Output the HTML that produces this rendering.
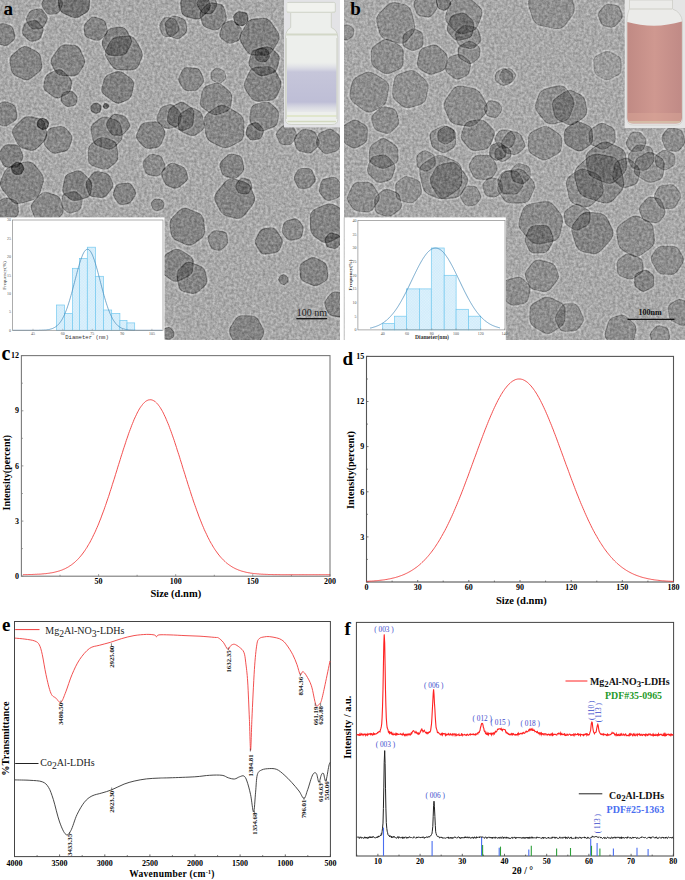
<!DOCTYPE html><html><head><meta charset="utf-8"><style>html,body{margin:0;padding:0;background:#fff;width:685px;height:880px;overflow:hidden}svg{display:block}text{font-family:"Liberation Serif",serif}.b{font-weight:bold}</style></head><body><svg width="685" height="880" viewBox="0 0 685 880"><defs>
<clipPath id="ca"><rect x="0" y="0" width="340" height="340"/></clipPath>
<clipPath id="cb"><rect x="344" y="0" width="341" height="340"/></clipPath>
<filter id="an" x="0" y="0" width="100%" height="100%" color-interpolation-filters="sRGB"><feTurbulence type="fractalNoise" baseFrequency="0.38" numOctaves="2" seed="3" result="t"/><feColorMatrix in="t" type="matrix" values="1 0 0 0 0  1 0 0 0 0  1 0 0 0 0  0 0 0 0 1" result="g0"/><feGaussianBlur in="g0" stdDeviation="0.6" result="g"/><feComposite in="SourceGraphic" in2="g" operator="arithmetic" k1="0" k2="1" k3="0.33" k4="-0.165"/></filter>
<filter id="bl"><feGaussianBlur stdDeviation="0.45"/></filter>
<pattern id="hat" width="2" height="2" patternUnits="userSpaceOnUse" patternTransform="rotate(45)"><rect width="2" height="2" fill="#e0f2fc"/><path d="M0 0V2M0 0H2" stroke="#bfe3f6" stroke-width="0.6"/></pattern>
<linearGradient id="purp" x1="0" y1="0" x2="0" y2="1"><stop offset="0" stop-color="#dcdce6" stop-opacity="0"/><stop offset="0.2" stop-color="#c6c6da"/><stop offset="0.8" stop-color="#bebed6"/><stop offset="1" stop-color="#d8d8e2" stop-opacity="0.3"/></linearGradient><linearGradient id="pink" x1="0" y1="0" x2="1" y2="0"><stop offset="0" stop-color="#c08a84"/><stop offset="0.5" stop-color="#cf9890"/><stop offset="1" stop-color="#c08a86"/></linearGradient>
</defs><g clip-path="url(#ca)"><g filter="url(#an)"><rect x="0" y="0" width="340" height="340" fill="#a8a8a8"/><g filter="url(#bl)"><path d="M60.9 11.1 Q59.5 14.4 56 14.8L50.5 15.3 Q47 15.6 45 12.6L41.9 7.8 Q39.9 4.7 41.5 1.6L44.1 -3.2 Q45.7 -6.3 49 -6.4L54.3 -6.6 Q57.6 -6.7 59.5 -4.1L62.5 -0 Q64.5 2.6 63.1 5.9Z" fill="none" stroke="#fff" stroke-opacity="0.22" stroke-width="2"/><path d="M63.3 14.3 Q58.4 12.1 57.8 6.1L56.9 -3.4 Q56.3 -9.4 61.2 -11.9L69 -15.9 Q73.9 -18.5 78.7 -15.3L86.1 -10.3 Q90.9 -7.1 90.7 -1.9L90.4 6.3 Q90.2 11.5 86.1 13.8L79.8 17.5 Q75.7 19.8 70.9 17.7Z" fill="none" stroke="#fff" stroke-opacity="0.22" stroke-width="2"/><path d="M45 26.2 Q43.3 29.5 39.9 29.8L34.6 30.2 Q31.3 30.5 29.4 27.6L26.3 23.2 Q24.4 20.3 25.8 17.3L27.9 12.7 Q29.3 9.7 32.8 8.9L38.3 7.8 Q41.9 7.1 44 10.1L47.3 14.8 Q49.4 17.9 47.7 21.1Z" fill="none" stroke="#fff" stroke-opacity="0.22" stroke-width="2"/><path d="M32.9 42.3 Q29.8 43 27.2 40.3L23 36.2 Q20.4 33.5 21.3 30.4L22.7 25.5 Q23.6 22.4 27.2 21.3L32.9 19.5 Q36.5 18.4 38.9 21.2L42.7 25.6 Q45.1 28.4 43.9 31.8L41.9 37.1 Q40.7 40.4 37.6 41.1Z" fill="none" stroke="#fff" stroke-opacity="0.22" stroke-width="2"/><path d="M9.4 45 Q6.6 47.5 3.4 46.4L-1.7 44.9 Q-4.9 43.9 -6 40.3L-7.8 34.6 Q-8.9 31 -6.2 28.4L-2 24.3 Q0.7 21.7 4.2 22.7L9.7 24.2 Q13.2 25.2 14.2 29L15.8 34.9 Q16.7 38.7 13.9 41.2Z" fill="none" stroke="#fff" stroke-opacity="0.22" stroke-width="2"/><path d="M31.9 78.8 Q27.3 82.4 22.8 80.2L15.7 76.8 Q11.2 74.7 10.2 69.8L8.8 62.3 Q7.9 57.4 12.4 53.6L19.4 47.5 Q23.9 43.6 28.7 46.2L36.2 50.2 Q41 52.8 41.8 57.5L42.9 65 Q43.7 69.7 39.1 73.3Z" fill="none" stroke="#fff" stroke-opacity="0.22" stroke-width="2"/><path d="M84.7 57.3 Q87 62.2 84.3 66.4L80.1 73 Q77.5 77.2 71.6 76.9L62.4 76.4 Q56.6 76.1 54.3 71.8L50.8 64.9 Q48.6 60.6 52.1 55.8L57.5 48.3 Q61 43.5 66 43.8L73.9 44.2 Q78.9 44.5 81.2 49.5Z" fill="none" stroke="#fff" stroke-opacity="0.22" stroke-width="2"/><path d="M45.8 92.2 Q41.8 89.1 42.6 84.9L44 78.5 Q44.9 74.3 49.2 72.3L55.9 69.1 Q60.2 67.1 63.8 70.6L69.6 76.2 Q73.3 79.7 72.6 83.5L71.7 89.4 Q71 93.2 66.9 95.2L60.4 98.3 Q56.3 100.3 52.2 97.2Z" fill="none" stroke="#fff" stroke-opacity="0.22" stroke-width="2"/><path d="M69.6 107.5 Q66.8 108.2 64.8 106.3L61.6 103.4 Q59.5 101.5 60.2 98.7L61.2 94.3 Q61.9 91.4 64.8 90.9L69.3 90.1 Q72.1 89.5 74 91.6L77 94.8 Q78.9 96.8 78.3 99.3L77.4 103.3 Q76.8 105.8 74 106.5Z" fill="none" stroke="#fff" stroke-opacity="0.22" stroke-width="2"/><path d="M88.1 38.9 Q84 37.5 83.6 33.8L83 28 Q82.7 24.4 85.4 21.7L89.7 17.6 Q92.5 15 96.2 16.2L102 18.2 Q105.7 19.4 106.7 23.2L108.2 29.2 Q109.2 33 106.2 35.6L101.6 39.7 Q98.7 42.4 94.6 41Z" fill="none" stroke="#fff" stroke-opacity="0.22" stroke-width="2"/><path d="M131.3 36.6 Q133.8 40.8 131.5 45.1L128 51.9 Q125.7 56.2 120.5 56.3L112.3 56.5 Q107 56.6 105 52.9L101.9 46.9 Q100 43.2 102.2 38.7L105.7 31.8 Q107.9 27.3 112.7 26.9L120.1 26.1 Q124.9 25.7 127.4 29.9Z" fill="none" stroke="#fff" stroke-opacity="0.22" stroke-width="2"/><path d="M105.8 58.5 Q102.7 53.6 105.3 48.8L109.3 41.2 Q111.9 36.4 118 35.8L127.4 34.9 Q133.5 34.4 136.6 39.9L141.5 48.4 Q144.6 53.9 142.6 58.7L139.4 66.2 Q137.4 70.9 130.8 71L120.5 71 Q114 71 110.8 66.2Z" fill="none" stroke="#fff" stroke-opacity="0.22" stroke-width="2"/><path d="M121.3 103.8 Q117.2 105.6 112.3 102L104.5 96.2 Q99.6 92.5 100.8 87.7L102.8 80.2 Q104.1 75.3 108.5 73.6L115.5 70.9 Q120 69.1 124.3 72.4L131.2 77.6 Q135.6 80.9 134.5 86L132.9 93.9 Q131.8 99 127.7 100.8Z" fill="none" stroke="#fff" stroke-opacity="0.22" stroke-width="2"/><path d="M101.5 111 Q101.1 112.9 99.5 113.4L96.9 114.3 Q95.3 114.9 93.9 114L91.7 112.6 Q90.3 111.8 90 110.3L89.7 108.1 Q89.4 106.7 90.5 105.4L92.2 103.5 Q93.2 102.3 94.7 102.2L97 102 Q98.4 101.9 99.6 103.2L101.5 105.1 Q102.6 106.3 102.2 108.2Z" fill="none" stroke="#fff" stroke-opacity="0.22" stroke-width="2"/><path d="M102.4 107.4 Q101.9 106.6 102.3 105.6L102.9 103.9 Q103.3 102.8 104.1 102.6L105.4 102.3 Q106.2 102.1 107 102.6L108.3 103.2 Q109.1 103.7 109.3 104.6L109.7 106.1 Q109.9 107 109.1 107.8L107.9 109.1 Q107.1 110 106.2 109.8L104.8 109.6 Q103.9 109.5 103.4 108.7Z" fill="none" stroke="#fff" stroke-opacity="0.22" stroke-width="2"/><path d="M-2.8 124.8 Q-6 123.5 -6.5 118.9L-7.3 111.6 Q-7.9 107 -4.5 105L0.8 101.8 Q4.2 99.8 7.6 101.1L12.9 103.3 Q16.3 104.6 16.9 108.8L18 115.3 Q18.6 119.5 14.9 121.9L8.9 125.7 Q5.2 128.1 2 126.8Z" fill="none" stroke="#fff" stroke-opacity="0.22" stroke-width="2"/><path d="M38.4 148.4 Q34.4 152.6 29.9 151.3L22.8 149.2 Q18.2 147.8 15.9 142.8L12.1 135 Q9.8 130.1 14.1 125.7L21 118.9 Q25.3 114.6 30.8 115.8L39.4 117.5 Q44.8 118.7 45.9 124L47.7 132.4 Q48.8 137.7 44.8 141.9Z" fill="none" stroke="#fff" stroke-opacity="0.22" stroke-width="2"/><path d="M44.1 130.4 Q42.5 130.9 40.7 129.8L38 128.1 Q36.3 127 36.2 125.4L36.1 122.8 Q36 121.2 37.3 120L39.4 118.1 Q40.7 116.8 42.6 117.3L45.5 118 Q47.3 118.5 48.1 119.8L49.3 121.8 Q50 123.1 49.5 124.8L48.7 127.4 Q48.2 129.1 46.6 129.6Z" fill="none" stroke="#fff" stroke-opacity="0.22" stroke-width="2"/><path d="M70.4 147.1 Q69 151.3 64.3 152.4L56.8 154 Q52.1 155.1 49.3 152L44.8 147.1 Q41.9 143.9 43.6 139.3L46.2 131.9 Q47.8 127.3 52.4 126.6L59.5 125.4 Q64 124.7 66.8 128L71.2 133.1 Q74 136.3 72.6 140.5Z" fill="none" stroke="#fff" stroke-opacity="0.22" stroke-width="2"/><path d="M23.2 153.1 Q24.8 156.6 23.1 159.9L20.5 165.1 Q18.9 168.4 14.7 168.4L8.1 168.4 Q4 168.4 1.9 164.5L-1.2 158.4 Q-3.3 154.5 -1.2 151.4L2.1 146.6 Q4.2 143.5 8.4 143.6L15 143.7 Q19.2 143.8 20.8 147.4Z" fill="none" stroke="#fff" stroke-opacity="0.22" stroke-width="2"/><path d="M123.2 134 Q124 139.1 120.5 142.6L115 148.1 Q111.4 151.6 106.2 149.8L98.1 147 Q92.9 145.2 91.8 139.8L90.1 131.2 Q89.1 125.7 93 122.6L99.3 117.7 Q103.2 114.6 108.2 116.3L116.1 119.1 Q121.1 120.8 121.9 126Z" fill="none" stroke="#fff" stroke-opacity="0.22" stroke-width="2"/><path d="M114 136.2 Q110.6 135.9 108.8 132.6L106 127.3 Q104.3 123.9 106.6 120.7L110.3 115.6 Q112.7 112.4 116.5 113.2L122.4 114.4 Q126.2 115.1 127.8 118.2L130.2 123.2 Q131.7 126.3 129.2 129.2L125.2 133.9 Q122.6 136.8 119.3 136.6Z" fill="none" stroke="#fff" stroke-opacity="0.22" stroke-width="2"/><path d="M118.9 155 Q119.6 160.4 115.9 163.5L110.1 168.4 Q106.4 171.5 101.1 169.7L92.9 167 Q87.6 165.3 87.4 159.9L87.1 151.4 Q86.9 146 90.9 143L97.2 138.2 Q101.1 135.2 105.7 136.8L112.8 139.4 Q117.3 141 117.9 146.5Z" fill="none" stroke="#fff" stroke-opacity="0.22" stroke-width="2"/><path d="M137.2 141.2 Q134.1 137.7 136 133.3L139.1 126.3 Q141.1 121.9 146.3 121.4L154.3 120.7 Q159.4 120.3 161.6 123.6L164.9 128.9 Q167.1 132.2 165.2 136.7L162.3 143.7 Q160.4 148.1 156.2 148.7L149.5 149.5 Q145.3 150.1 142.2 146.6Z" fill="none" stroke="#fff" stroke-opacity="0.22" stroke-width="2"/><path d="M164.9 37.4 Q162.1 37 160.9 33.7L158.9 28.5 Q157.6 25.1 159.5 22.5L162.5 18.3 Q164.4 15.6 167.8 16.3L173.1 17.4 Q176.5 18.2 177.7 21.6L179.7 26.9 Q181 30.3 178.5 32.6L174.5 36 Q171.9 38.2 169.2 37.9Z" fill="none" stroke="#fff" stroke-opacity="0.22" stroke-width="2"/><path d="M180.8 123.3 Q179.8 126.9 175.8 127.8L169.4 129.3 Q165.4 130.3 162.4 127.5L157.6 123.1 Q154.5 120.4 156.2 116.4L158.7 110.1 Q160.3 106.1 163.7 105.1L169.1 103.6 Q172.5 102.6 175.5 105.8L180.3 110.9 Q183.3 114.1 182.3 117.7Z" fill="none" stroke="#fff" stroke-opacity="0.22" stroke-width="2"/><path d="M211.2 4.3 Q212.3 8.4 208.6 12L202.8 17.6 Q199.1 21.2 194 19.8L186.1 17.6 Q181 16.1 180.4 11.4L179.6 4.1 Q179 -0.6 182.6 -3.7L188.3 -8.4 Q191.9 -11.5 196.5 -10L203.6 -7.6 Q208.2 -6.1 209.3 -2.1Z" fill="none" stroke="#fff" stroke-opacity="0.22" stroke-width="2"/><path d="M214.6 11.9 Q213 15.1 209.8 14.9L204.7 14.5 Q201.5 14.3 199.7 11.3L197 6.7 Q195.2 3.7 196.7 1.1L199.1 -3.1 Q200.6 -5.8 203.8 -6L208.9 -6.3 Q212.1 -6.6 214 -3.7L217 0.9 Q218.9 3.8 217.2 6.9Z" fill="none" stroke="#fff" stroke-opacity="0.22" stroke-width="2"/><path d="M206.5 28.8 Q202.2 27.4 201.1 23.2L199.2 16.7 Q198.1 12.5 200.9 9.3L205.5 4.4 Q208.4 1.2 212.8 1.9L219.7 3 Q224.2 3.7 225.3 8.4L227.1 15.9 Q228.2 20.6 225.1 23.9L220.4 29 Q217.3 32.2 213.1 30.9Z" fill="none" stroke="#fff" stroke-opacity="0.22" stroke-width="2"/><path d="M187.8 28.6 Q188.3 32.4 185.6 34.7L181.4 38.3 Q178.8 40.7 175.3 39.4L169.9 37.4 Q166.4 36.1 165.5 32.3L164.2 26.2 Q163.3 22.3 166.1 20L170.4 16.3 Q173.2 14 177 15.4L182.9 17.6 Q186.7 19 187.1 22.7Z" fill="none" stroke="#fff" stroke-opacity="0.22" stroke-width="2"/><path d="M245.3 25.4 Q243.6 27.1 241.2 26.7L237.5 26 Q235.1 25.6 234.2 23L232.8 18.8 Q231.9 16.1 233.4 14.5L235.9 11.9 Q237.5 10.2 240.4 10.7L244.9 11.4 Q247.8 11.9 248.3 14.4L249.1 18.4 Q249.6 20.9 247.9 22.7Z" fill="none" stroke="#fff" stroke-opacity="0.22" stroke-width="2"/><path d="M241.4 37.4 Q240.7 41 237.3 42.1L232 44 Q228.6 45.2 225.6 42.9L220.8 39.2 Q217.8 36.8 219 32.8L220.9 26.4 Q222.1 22.3 225.3 21.3L230.2 19.7 Q233.4 18.7 236.1 21.4L240.4 25.5 Q243.1 28.2 242.4 31.7Z" fill="none" stroke="#fff" stroke-opacity="0.22" stroke-width="2"/><path d="M278.4 31.2 Q282.1 36.7 278.8 42.3L273.6 51 Q270.3 56.5 264.2 56.3L254.5 56.1 Q248.3 56 245.3 51L240.4 43.2 Q237.4 38.2 240.4 32.6L245.1 24 Q248.1 18.5 253.8 18L262.9 17.3 Q268.7 16.8 272.5 22.4Z" fill="none" stroke="#fff" stroke-opacity="0.22" stroke-width="2"/><path d="M278.3 68.1 Q277.2 72.7 272.3 74.2L264.6 76.5 Q259.8 78 256.1 74.5L250.4 69.1 Q246.8 65.7 248.1 61.2L250 54.1 Q251.3 49.6 256.3 48.2L264.3 46.1 Q269.4 44.7 272.7 47.9L278 52.9 Q281.4 56 280.2 60.7Z" fill="none" stroke="#fff" stroke-opacity="0.22" stroke-width="2"/><path d="M270.5 54.8 Q271 56.9 269.7 58.6L267.7 61.2 Q266.4 62.9 264.2 62.9L260.7 62.8 Q258.5 62.8 257.1 61.4L254.9 59.1 Q253.5 57.7 253.9 55.4L254.4 51.8 Q254.8 49.5 256.7 48.5L259.8 47 Q261.8 46.1 263.8 47L267 48.4 Q269 49.3 269.6 51.4Z" fill="none" stroke="#fff" stroke-opacity="0.22" stroke-width="2"/><path d="M187.4 91.5 Q183.6 91.3 181.6 87.9L178.5 82.6 Q176.5 79.2 178.5 75.6L181.5 69.9 Q183.5 66.2 188 66.5L195.1 67 Q199.6 67.3 201.4 71.1L204.1 77.2 Q205.9 81 203.4 84.1L199.5 88.9 Q197 92 193.2 91.8Z" fill="none" stroke="#fff" stroke-opacity="0.22" stroke-width="2"/><path d="M213.2 82.1 Q210.6 80.9 210.3 78.4L209.9 74.4 Q209.7 71.8 211.6 70.3L214.6 67.8 Q216.5 66.3 219 67.3L222.9 69 Q225.4 70 225.9 72.6L226.8 76.6 Q227.4 79.1 225.3 80.8L222.1 83.5 Q220 85.2 217.4 84Z" fill="none" stroke="#fff" stroke-opacity="0.22" stroke-width="2"/><path d="M245 90.7 Q241.9 86 244.4 80.6L248.2 72 Q250.6 66.5 257 66.2L267 65.7 Q273.4 65.4 276.2 70.5L280.6 78.4 Q283.5 83.4 281.4 88.3L278.1 95.9 Q276 100.7 269.5 101.3L259.4 102.3 Q253 102.8 249.9 98.1Z" fill="none" stroke="#fff" stroke-opacity="0.22" stroke-width="2"/><path d="M218.7 115.3 Q213.9 116.9 209.5 113.9L202.6 109 Q198.2 105.9 199.4 100.4L201.2 91.6 Q202.4 86.1 207.1 84.6L214.4 82.4 Q219.1 81 223.1 84.5L229.5 90 Q233.5 93.5 232.8 98.5L231.8 106.2 Q231.2 111.1 226.3 112.8Z" fill="none" stroke="#fff" stroke-opacity="0.22" stroke-width="2"/><path d="M194.2 122.5 Q193.7 127.6 190.2 129L184.6 131.2 Q181.1 132.5 176.7 129.7L169.9 125.3 Q165.5 122.5 166.3 118.3L167.6 111.7 Q168.5 107.6 172.2 105.4L178.2 102.1 Q181.9 99.9 185.7 102.5L191.7 106.6 Q195.5 109.2 195 114.3Z" fill="none" stroke="#fff" stroke-opacity="0.22" stroke-width="2"/><path d="M205.1 124.1 Q206 128.9 202.5 131.4L197 135.4 Q193.5 137.9 189 136L181.8 132.9 Q177.3 131 177.3 126.3L177.3 119 Q177.2 114.3 181.1 111.9L187.2 108.1 Q191 105.6 194.3 107.4L199.4 110.1 Q202.7 111.8 203.6 116.6Z" fill="none" stroke="#fff" stroke-opacity="0.22" stroke-width="2"/><path d="M230.9 147.3 Q225.4 150.1 219.8 147.4L211 143.1 Q205.4 140.3 204.6 133.4L203.2 122.5 Q202.4 115.6 207.7 111.8L216.2 106 Q221.5 102.2 228.1 106L238.5 112.1 Q245 115.9 245 122.7L245 133.3 Q245 140.1 239.6 142.9Z" fill="none" stroke="#fff" stroke-opacity="0.22" stroke-width="2"/><path d="M251.3 125.5 Q248.1 122.5 248.7 117.5L249.8 109.6 Q250.4 104.5 255.4 103.2L263.3 101.1 Q268.3 99.8 271.7 103L277.1 108 Q280.5 111.2 279.7 115.5L278.5 122.4 Q277.7 126.7 272.6 128.5L264.6 131.3 Q259.5 133.1 256.3 130.1Z" fill="none" stroke="#fff" stroke-opacity="0.22" stroke-width="2"/><path d="M245.9 136.1 Q244.3 134.1 245.2 131.2L246.6 126.6 Q247.5 123.7 250.4 122.9L254.8 121.6 Q257.7 120.8 259.8 123.4L263.2 127.5 Q265.3 130.1 264.3 132.9L262.6 137.2 Q261.6 140 258.4 140.4L253.3 141 Q250.1 141.4 248.5 139.3Z" fill="none" stroke="#fff" stroke-opacity="0.22" stroke-width="2"/><path d="M282.8 145.6 Q279.6 145.4 278.1 142L275.8 136.7 Q274.3 133.3 276.7 130.7L280.4 126.6 Q282.8 124 285.8 124.2L290.7 124.6 Q293.7 124.8 295.1 128L297.2 133.1 Q298.6 136.3 296.5 139.1L293.2 143.4 Q291.1 146.2 287.9 146Z" fill="none" stroke="#fff" stroke-opacity="0.22" stroke-width="2"/><path d="M299.9 152.1 Q295.8 150.9 294.9 147.2L293.5 141.4 Q292.6 137.7 295.3 134.8L299.7 130.3 Q302.4 127.4 306.1 128.3L311.8 129.6 Q315.5 130.4 317.2 134.2L319.9 140.2 Q321.6 144 318.5 147.1L313.7 152 Q310.7 155.1 306.5 153.9Z" fill="none" stroke="#fff" stroke-opacity="0.22" stroke-width="2"/><path d="M317.2 147.5 Q314.5 144.2 315.4 140.9L316.8 135.7 Q317.7 132.4 321.4 130.9L327.2 128.6 Q330.9 127.1 334.1 129.6L339 133.6 Q342.1 136.1 341.5 140.3L340.6 146.8 Q340.1 151 335.6 152.3L328.7 154.4 Q324.3 155.8 321.5 152.5Z" fill="none" stroke="#fff" stroke-opacity="0.22" stroke-width="2"/><path d="M238.8 177.4 Q236.2 180.1 232.3 179.1L226.1 177.6 Q222.2 176.6 220.9 173L219 167.3 Q217.8 163.7 221.1 160.4L226.2 155.3 Q229.5 152.1 233.1 153L238.8 154.4 Q242.4 155.4 243.3 159.6L244.7 166.3 Q245.5 170.5 242.9 173.2Z" fill="none" stroke="#fff" stroke-opacity="0.22" stroke-width="2"/><path d="M40.8 193.2 Q38.8 199.3 32 201.2L21.3 204.2 Q14.5 206.1 9.8 200.3L2.3 191.2 Q-2.4 185.4 -0.1 180.2L3.4 171.9 Q5.7 166.6 12.8 164.5L24.1 161.2 Q31.3 159.1 35.4 164.2L41.9 172.3 Q46 177.5 44 183.6Z" fill="none" stroke="#fff" stroke-opacity="0.22" stroke-width="2"/><path d="M24.7 166.8 Q25.5 168.4 24.5 170.3L23 173.3 Q22 175.2 20 175.4L17 175.6 Q15 175.8 13.9 174.8L12.1 173.3 Q10.9 172.4 10.7 170.3L10.5 167.2 Q10.3 165.1 12 163.9L14.6 162 Q16.3 160.7 18.1 161.2L20.8 162 Q22.6 162.5 23.4 164.2Z" fill="none" stroke="#fff" stroke-opacity="0.22" stroke-width="2"/><path d="M12.1 220.9 Q9.1 223.1 5.4 221.5L-0.4 219 Q-4 217.5 -4.4 213.4L-5.1 207 Q-5.5 203 -2.5 201.1L2.1 198 Q5 196.1 8.8 197.2L14.6 199.1 Q18.4 200.2 18.8 204.4L19.4 211.1 Q19.9 215.3 16.8 217.5Z" fill="none" stroke="#fff" stroke-opacity="0.22" stroke-width="2"/><path d="M64 207.8 Q65.4 212.5 61.9 216.1L56.4 221.8 Q52.9 225.4 47.8 224.2L39.9 222.3 Q34.9 221 33.2 216.5L30.6 209.5 Q28.9 205 32.9 200.7L39.2 194.1 Q43.2 189.9 48.1 191.5L55.8 194 Q60.7 195.7 62 200.4Z" fill="none" stroke="#fff" stroke-opacity="0.22" stroke-width="2"/><path d="M91.8 193.3 Q91.2 197.6 86 199L77.8 201.2 Q72.7 202.6 69.4 199.9L64.2 195.6 Q60.9 192.9 61.9 187.6L63.5 179.2 Q64.6 173.9 68.9 172.4L75.6 170 Q79.9 168.4 83.8 172.3L89.8 178.4 Q93.6 182.2 92.9 186.5Z" fill="none" stroke="#fff" stroke-opacity="0.22" stroke-width="2"/><path d="M113.5 182.2 Q115.1 185.9 112.3 189.6L107.9 195.4 Q105.1 199.1 100.5 198.6L93.4 197.8 Q88.9 197.3 87.5 193.3L85.3 187 Q83.9 183 86.8 179.3L91.4 173.5 Q94.3 169.8 98.5 170.6L105.1 171.9 Q109.3 172.7 110.9 176.4Z" fill="none" stroke="#fff" stroke-opacity="0.22" stroke-width="2"/><path d="M82.2 207 Q81.5 210.8 77.9 211.9L72.2 213.6 Q68.6 214.7 66.3 212.6L62.6 209.3 Q60.3 207.2 60.6 203.4L61.2 197.4 Q61.6 193.6 65.4 192.5L71.5 190.8 Q75.3 189.7 77.7 191.9L81.5 195.2 Q83.9 197.3 83.2 201.1Z" fill="none" stroke="#fff" stroke-opacity="0.22" stroke-width="2"/><path d="M113.6 198.4 Q111.6 195.3 112.7 192L114.5 186.7 Q115.7 183.4 119.9 182.9L126.6 182 Q130.8 181.5 132.8 184.7L135.9 189.7 Q137.8 192.9 135.8 196.2L132.5 201.4 Q130.4 204.7 127.2 205.1L122.1 205.7 Q118.9 206.2 116.8 203.1Z" fill="none" stroke="#fff" stroke-opacity="0.22" stroke-width="2"/><path d="M149.1 176 Q145.4 175.3 144.2 171.6L142.3 165.7 Q141.1 162 143.6 159.4L147.5 155.3 Q149.9 152.8 153.3 153.3L158.5 154.2 Q161.8 154.8 163.4 158.5L165.7 164.3 Q167.2 167.9 164.8 170.7L161 175.1 Q158.5 177.9 154.8 177.1Z" fill="none" stroke="#fff" stroke-opacity="0.22" stroke-width="2"/><path d="M164.5 207.4 Q164.1 209.3 162.2 210.1L159.2 211.5 Q157.3 212.3 155.8 211.7L153.6 210.7 Q152.1 210.1 151.4 208.1L150.3 205.1 Q149.6 203.2 150.8 201.7L152.6 199.4 Q153.7 198 155.8 198L159.1 198.1 Q161.2 198.1 162.4 199.3L164.2 201.3 Q165.3 202.5 165 204.4Z" fill="none" stroke="#fff" stroke-opacity="0.22" stroke-width="2"/><path d="M168.3 187.3 Q164.9 186.2 163.3 182.3L160.9 176.2 Q159.4 172.3 162.5 169.2L167.5 164.2 Q170.6 161 175 162.7L181.8 165.2 Q186.1 166.9 187.1 170.5L188.6 176.3 Q189.5 179.9 186.1 182.8L180.6 187.3 Q177.2 190.1 173.7 189Z" fill="none" stroke="#fff" stroke-opacity="0.22" stroke-width="2"/><path d="M227.2 217.2 Q221.7 215.8 218.9 210.4L214.5 202.1 Q211.8 196.8 216.5 191L223.8 181.9 Q228.5 176.1 234.5 178L243.9 180.8 Q249.9 182.7 251.9 187.6L255.2 195.5 Q257.3 200.4 252.8 206.1L245.8 215.1 Q241.3 220.8 235.8 219.4Z" fill="none" stroke="#fff" stroke-opacity="0.22" stroke-width="2"/><path d="M249.5 193.2 Q247.9 195.4 245 195.1L240.3 194.6 Q237.4 194.3 236.4 191.8L234.8 187.8 Q233.8 185.2 235.8 182.8L238.9 179 Q240.9 176.5 243.7 177.2L248 178.2 Q250.8 178.9 251.6 181.3L252.9 185.2 Q253.7 187.6 252.1 189.8Z" fill="none" stroke="#fff" stroke-opacity="0.22" stroke-width="2"/><path d="M311.4 187.1 Q309 189.7 305.8 189.6L300.9 189.5 Q297.7 189.4 296.2 186.2L293.9 181.1 Q292.4 177.9 294 175L296.5 170.4 Q298.1 167.4 301.9 167.4L307.9 167.3 Q311.7 167.3 313.4 171L315.9 176.9 Q317.6 180.6 315.2 183.1Z" fill="none" stroke="#fff" stroke-opacity="0.22" stroke-width="2"/><path d="M341.9 194.9 Q340.7 198.1 336.7 199.3L330.4 201.3 Q326.4 202.6 323.9 199.6L320 194.9 Q317.5 192 318.5 188.2L320.1 182.3 Q321.1 178.6 325.1 177.7L331.6 176.2 Q335.6 175.3 338.2 178.6L342.3 183.6 Q344.9 186.8 343.7 190Z" fill="none" stroke="#fff" stroke-opacity="0.22" stroke-width="2"/><path d="M205.7 229.9 Q206.3 236 201.8 239.3L194.8 244.4 Q190.3 247.7 184.9 245.3L176.3 241.4 Q170.9 238.9 170.1 233.7L168.9 225.5 Q168.1 220.3 172.2 216.2L178.8 209.7 Q183 205.5 188.9 208L198.2 211.9 Q204.2 214.4 204.7 220.4Z" fill="none" stroke="#fff" stroke-opacity="0.22" stroke-width="2"/><path d="M223.4 249.5 Q221 251.9 218.1 251.3L213.5 250.5 Q210.6 249.9 209.3 246.4L207.2 240.8 Q205.9 237.2 208.1 234.9L211.4 231.3 Q213.5 229 217.3 229.6L223.3 230.6 Q227.1 231.2 227.8 234.6L228.8 239.9 Q229.4 243.3 227.1 245.7Z" fill="none" stroke="#fff" stroke-opacity="0.22" stroke-width="2"/><path d="M280.8 249.8 Q279.3 253.2 274.3 253.9L266.4 255.1 Q261.3 255.8 259 252L255.4 245.9 Q253.1 242.1 255.1 238.2L258.3 232 Q260.3 228.1 264.3 227.5L270.7 226.6 Q274.7 226 277.4 230.2L281.7 236.8 Q284.5 241 283 244.4Z" fill="none" stroke="#fff" stroke-opacity="0.22" stroke-width="2"/><path d="M292.4 241 Q288.6 241.7 286.3 239.2L282.7 235.2 Q280.4 232.7 281.2 229.3L282.6 224.1 Q283.4 220.7 287.2 219.6L293.2 218 Q296.9 216.9 299.1 219.5L302.6 223.5 Q304.7 226.1 304 229.8L302.9 235.5 Q302.1 239.1 298.3 239.9Z" fill="none" stroke="#fff" stroke-opacity="0.22" stroke-width="2"/><path d="M347.2 227.9 Q346.9 234.3 341 237.5L331.5 242.4 Q325.5 245.5 321.1 242.4L314.2 237.5 Q309.8 234.4 309.5 227.8L309.2 217.5 Q309 210.9 314.9 208.3L324.2 204.1 Q330.1 201.4 335.1 204.2L343 208.5 Q348 211.3 347.7 217.8Z" fill="none" stroke="#fff" stroke-opacity="0.22" stroke-width="2"/><path d="M338.1 248.2 Q336.1 250.2 333.2 249.4L328.6 248.2 Q325.6 247.4 325 244.9L324.1 241 Q323.5 238.5 325.3 236.5L328.2 233.2 Q330 231.2 332.9 232.1L337.5 233.7 Q340.5 234.6 341.2 236.9L342.3 240.5 Q343 242.8 341.1 244.9Z" fill="none" stroke="#fff" stroke-opacity="0.22" stroke-width="2"/><path d="M193.9 270.2 Q193.5 274.9 188.4 277.5L180.3 281.4 Q175.2 284 170.9 280.9L164.1 276.1 Q159.7 273 160.6 267.8L161.9 259.8 Q162.8 254.6 166.9 252.4L173.3 248.9 Q177.5 246.6 182.3 249.8L190 254.8 Q194.9 258 194.5 262.8Z" fill="none" stroke="#fff" stroke-opacity="0.22" stroke-width="2"/><path d="M207.8 279 Q208.8 283.6 205.1 286.9L199.4 292.1 Q195.8 295.4 191 294.3L183.6 292.6 Q178.8 291.5 177.8 286L176.1 277.4 Q175 271.9 178.3 268.5L183.6 263.2 Q186.9 259.8 192.1 261.9L200.2 265.1 Q205.4 267.1 206.4 271.7Z" fill="none" stroke="#fff" stroke-opacity="0.22" stroke-width="2"/><path d="M328.8 275.1 Q329.4 280 325.6 282.2L319.6 285.6 Q315.8 287.8 311.2 285.8L304.1 282.7 Q299.5 280.7 299.2 275.9L298.8 268.5 Q298.5 263.8 302.5 261.4L308.7 257.7 Q312.7 255.3 316.8 257.3L323.3 260.5 Q327.4 262.5 327.9 267.4Z" fill="none" stroke="#fff" stroke-opacity="0.22" stroke-width="2"/><path d="M286.3 284.8 Q285 285.9 283.7 285.6L281.7 285.1 Q280.3 284.8 279.4 283.5L278 281.4 Q277.1 280.1 277.7 278.7L278.6 276.5 Q279.2 275.1 280.6 274.5L282.8 273.6 Q284.1 273 285.5 274.1L287.6 275.8 Q289 276.9 289.2 278.3L289.4 280.5 Q289.6 282 288.3 283.1Z" fill="none" stroke="#fff" stroke-opacity="0.22" stroke-width="2"/><path d="M351 303 Q352.5 307.2 350.1 310.5L346.2 315.6 Q343.8 318.8 339.5 318.1L332.9 317 Q328.7 316.3 327 312.5L324.3 306.7 Q322.6 302.9 325.1 299.4L329.1 293.8 Q331.7 290.3 336 290.8L342.7 291.7 Q347 292.2 348.5 296.4Z" fill="none" stroke="#fff" stroke-opacity="0.22" stroke-width="2"/><path d="M263.7 327.8 Q266.2 332.7 263.5 337.1L259.2 344.1 Q256.4 348.5 250.4 347.9L240.9 346.9 Q234.8 346.3 232.6 341.9L229.3 335 Q227.1 330.6 229.9 326.1L234.3 319 Q237.2 314.5 242.7 314.6L251.5 314.9 Q257.1 315.1 259.6 320Z" fill="none" stroke="#fff" stroke-opacity="0.22" stroke-width="2"/><path d="M170.8 339.9 Q169.2 340.7 167.4 340.2L164.6 339.4 Q162.9 338.9 162 337.2L160.8 334.4 Q159.9 332.7 160.9 331.2L162.5 328.9 Q163.5 327.4 165.3 327L168.1 326.4 Q169.9 326 171.4 327.4L173.6 329.6 Q175 331.1 175 332.9L174.9 335.9 Q174.8 337.8 173.2 338.6Z" fill="none" stroke="#fff" stroke-opacity="0.22" stroke-width="2"/><path d="M60 10.4 Q58.7 13.3 55.6 13.7L50.6 14.1 Q47.5 14.4 45.7 11.7L42.9 7.4 Q41.2 4.6 42.6 1.9L44.9 -2.5 Q46.3 -5.2 49.3 -5.3L54 -5.5 Q57 -5.6 58.7 -3.3L61.5 0.4 Q63.2 2.7 61.9 5.7Z" fill="#000" fill-opacity="0.237" stroke="#000" stroke-opacity="0.302" stroke-width="1.1"/><path d="M64 13.4 Q59.5 11.4 58.9 5.8L58 -3.1 Q57.4 -8.7 62 -11.1L69.3 -14.8 Q73.9 -17.2 78.4 -14.2L85.3 -9.6 Q89.8 -6.6 89.6 -1.7L89.3 5.9 Q89.1 10.8 85.3 13L79.4 16.4 Q75.6 18.6 71.1 16.6Z" fill="#000" fill-opacity="0.323" stroke="#000" stroke-opacity="0.354" stroke-width="1.1"/><path d="M44.2 25.5 Q42.6 28.4 39.6 28.7L34.9 29 Q31.9 29.3 30.1 26.7L27.4 22.7 Q25.7 20.2 26.9 17.5L28.9 13.3 Q30.1 10.6 33.3 10L38.2 9 Q41.4 8.3 43.2 11L46.2 15.3 Q48.1 18 46.6 20.9Z" fill="#000" fill-opacity="0.215" stroke="#000" stroke-opacity="0.289" stroke-width="1.1"/><path d="M32.9 41.1 Q30.1 41.7 27.8 39.4L24 35.6 Q21.7 33.3 22.5 30.5L23.8 26.1 Q24.6 23.3 27.8 22.3L32.9 20.7 Q36.2 19.7 38.3 22.2L41.7 26.2 Q43.9 28.7 42.7 31.7L41 36.5 Q39.9 39.5 37.2 40.1Z" fill="#000" fill-opacity="0.215" stroke="#000" stroke-opacity="0.289" stroke-width="1.1"/><path d="M8.9 44 Q6.3 46.2 3.4 45.3L-1.1 43.9 Q-4 43 -5 39.7L-6.6 34.6 Q-7.6 31.4 -5.2 29.1L-1.4 25.4 Q1 23 4.2 23.9L9.1 25.3 Q12.3 26.2 13.2 29.6L14.6 35 Q15.5 38.4 12.9 40.6Z" fill="#000" fill-opacity="0.215" stroke="#000" stroke-opacity="0.289" stroke-width="1.1"/><path d="M31.5 77.7 Q27.3 81 23 79L16.4 75.9 Q12.2 73.9 11.3 69.4L10 62.3 Q9.1 57.8 13.3 54.2L19.9 48.6 Q24 45 28.5 47.4L35.5 51.1 Q40 53.5 40.7 57.9L41.7 64.8 Q42.4 69.2 38.2 72.5Z" fill="#000" fill-opacity="0.215" stroke="#000" stroke-opacity="0.289" stroke-width="1.1"/><path d="M83.6 57.5 Q85.7 62.1 83.2 66L79.3 72.2 Q76.9 76.1 71.4 75.9L62.8 75.4 Q57.3 75.1 55.2 71L51.9 64.7 Q49.8 60.6 53.1 56.2L58.2 49.1 Q61.5 44.7 66.2 44.9L73.5 45.3 Q78.2 45.6 80.3 50.2Z" fill="#000" fill-opacity="0.215" stroke="#000" stroke-opacity="0.289" stroke-width="1.1"/><path d="M46.8 91.6 Q43 88.7 43.9 84.9L45.1 78.9 Q45.9 75.1 49.9 73.2L56.1 70.3 Q60 68.4 63.4 71.7L68.7 76.8 Q72 80 71.5 83.5L70.6 89 Q70 92.5 66.2 94.3L60.2 97.2 Q56.4 99 52.7 96.1Z" fill="#000" fill-opacity="0.215" stroke="#000" stroke-opacity="0.289" stroke-width="1.1"/><path d="M69.5 106.4 Q67.1 107 65.3 105.4L62.5 102.8 Q60.8 101.2 61.3 98.7L62.2 94.9 Q62.8 92.4 65.3 92L69.2 91.2 Q71.7 90.8 73.4 92.5L75.9 95.3 Q77.6 97.1 77.1 99.3L76.3 102.7 Q75.8 104.9 73.4 105.5Z" fill="#000" fill-opacity="0.215" stroke="#000" stroke-opacity="0.289" stroke-width="1.1"/><path d="M88.8 38 Q85.1 36.7 84.8 33.4L84.2 28.1 Q83.9 24.8 86.4 22.4L90.3 18.7 Q92.8 16.3 96.2 17.4L101.5 19.2 Q104.8 20.3 105.7 23.8L107.1 29.2 Q108 32.7 105.3 35L101.1 38.8 Q98.5 41.1 94.7 39.9Z" fill="#000" fill-opacity="0.215" stroke="#000" stroke-opacity="0.289" stroke-width="1.1"/><path d="M130.2 37 Q132.5 40.9 130.4 44.9L127.2 51.2 Q125.1 55.2 120.2 55.3L112.6 55.4 Q107.8 55.5 105.9 52L103.1 46.6 Q101.2 43.1 103.3 39L106.5 32.5 Q108.6 28.4 113 28L119.9 27.3 Q124.3 26.9 126.6 30.8Z" fill="#000" fill-opacity="0.237" stroke="#000" stroke-opacity="0.302" stroke-width="1.1"/><path d="M106.9 58.2 Q104 53.6 106.4 49L110.2 41.9 Q112.7 37.4 118.3 36.9L127.2 36 Q132.9 35.5 135.8 40.7L140.4 48.7 Q143.4 53.9 141.5 58.3L138.5 65.4 Q136.5 69.8 130.4 69.9L120.7 69.9 Q114.6 69.9 111.6 65.4Z" fill="#000" fill-opacity="0.215" stroke="#000" stroke-opacity="0.289" stroke-width="1.1"/><path d="M121.1 102.6 Q117.3 104.3 112.7 100.9L105.5 95.6 Q100.9 92.2 102 87.7L103.9 80.6 Q105.1 76.2 109.2 74.5L115.7 72 Q119.8 70.4 123.9 73.5L130.3 78.3 Q134.4 81.3 133.4 86L131.8 93.4 Q130.8 98.1 127 99.9Z" fill="#000" fill-opacity="0.237" stroke="#000" stroke-opacity="0.302" stroke-width="1.1"/><path d="M100.4 110.4 Q100.1 111.9 98.8 112.4L96.8 113.1 Q95.5 113.5 94.3 112.8L92.5 111.7 Q91.4 111 91.2 109.9L90.9 108.1 Q90.7 106.9 91.6 105.9L92.9 104.4 Q93.8 103.4 94.9 103.3L96.8 103.2 Q98 103.1 98.9 104.1L100.4 105.7 Q101.3 106.7 101 108.1Z" fill="#000" fill-opacity="0.323" stroke="#000" stroke-opacity="0.354" stroke-width="1.1"/><path d="M103.6 107 Q103.2 106.4 103.5 105.7L103.9 104.6 Q104.2 103.9 104.7 103.7L105.6 103.5 Q106.2 103.4 106.7 103.7L107.6 104.1 Q108.1 104.4 108.3 105.1L108.5 106.1 Q108.6 106.7 108.1 107.2L107.3 108.1 Q106.8 108.7 106.2 108.6L105.2 108.5 Q104.6 108.4 104.2 107.8Z" fill="#000" fill-opacity="0.387" stroke="#000" stroke-opacity="0.392" stroke-width="1.1"/><path d="M-2.1 123.8 Q-5 122.6 -5.4 118.4L-6.2 111.8 Q-6.7 107.6 -3.6 105.8L1.2 102.9 Q4.3 101.1 7.4 102.3L12.2 104.2 Q15.3 105.5 15.8 109.3L16.8 115.2 Q17.4 119 14 121.2L8.6 124.6 Q5.1 126.8 2.3 125.6Z" fill="#000" fill-opacity="0.215" stroke="#000" stroke-opacity="0.289" stroke-width="1.1"/><path d="M37.9 147.4 Q34.1 151.3 29.9 150.1L23.2 148.1 Q19 146.8 16.8 142.2L13.3 134.9 Q11.1 130.3 15.2 126.2L21.6 119.9 Q25.6 115.8 30.7 116.9L38.7 118.6 Q43.8 119.6 44.9 124.6L46.5 132.4 Q47.5 137.4 43.8 141.3Z" fill="#000" fill-opacity="0.215" stroke="#000" stroke-opacity="0.289" stroke-width="1.1"/><path d="M43.9 129.2 Q42.6 129.6 41.1 128.8L38.9 127.4 Q37.5 126.5 37.4 125.1L37.3 123 Q37.3 121.7 38.3 120.7L40 119.1 Q41.1 118.1 42.6 118.5L45 119.1 Q46.6 119.5 47.2 120.5L48.2 122.2 Q48.8 123.3 48.4 124.7L47.7 126.8 Q47.3 128.2 46 128.6Z" fill="#000" fill-opacity="0.430" stroke="#000" stroke-opacity="0.418" stroke-width="1.1"/><path d="M69.5 146.6 Q68.2 150.4 63.8 151.4L56.9 152.9 Q52.6 153.9 49.9 151L45.8 146.5 Q43.2 143.6 44.7 139.3L47.1 132.6 Q48.6 128.3 52.8 127.6L59.4 126.6 Q63.5 125.9 66.1 128.9L70.2 133.6 Q72.8 136.6 71.5 140.5Z" fill="#000" fill-opacity="0.194" stroke="#000" stroke-opacity="0.276" stroke-width="1.1"/><path d="M22.1 153.3 Q23.5 156.6 22 159.6L19.6 164.3 Q18.1 167.3 14.3 167.3L8.4 167.2 Q4.6 167.2 2.8 163.7L-0.1 158.2 Q-2 154.6 -0.1 151.8L2.9 147.4 Q4.8 144.6 8.6 144.7L14.6 144.9 Q18.5 145 19.9 148.2Z" fill="#000" fill-opacity="0.237" stroke="#000" stroke-opacity="0.302" stroke-width="1.1"/><path d="M122.1 133.9 Q122.9 138.7 119.6 141.9L114.4 147 Q111.1 150.3 106.3 148.6L98.7 146 Q93.8 144.4 92.9 139.3L91.3 131.3 Q90.3 126.2 94 123.3L99.8 118.8 Q103.5 115.9 108.1 117.5L115.4 120.1 Q120.1 121.7 120.9 126.5Z" fill="#000" fill-opacity="0.194" stroke="#000" stroke-opacity="0.276" stroke-width="1.1"/><path d="M114.4 135.1 Q111.3 134.9 109.7 131.8L107.2 127.1 Q105.6 124 107.7 121.1L111.1 116.6 Q113.2 113.7 116.6 114.3L122 115.4 Q125.4 116.1 126.8 118.9L129 123.3 Q130.4 126.2 128.1 128.8L124.5 133 Q122.2 135.7 119.1 135.4Z" fill="#000" fill-opacity="0.215" stroke="#000" stroke-opacity="0.289" stroke-width="1.1"/><path d="M117.8 154.9 Q118.4 160 115 162.9L109.6 167.4 Q106.2 170.2 101.3 168.6L93.6 166.1 Q88.7 164.5 88.5 159.5L88.2 151.6 Q88.1 146.6 91.8 143.8L97.6 139.3 Q101.3 136.5 105.5 138L112.1 140.4 Q116.3 141.9 116.9 147Z" fill="#000" fill-opacity="0.194" stroke="#000" stroke-opacity="0.276" stroke-width="1.1"/><path d="M138.3 140.7 Q135.4 137.5 137.2 133.4L140.1 127 Q141.9 122.9 146.6 122.5L154 121.9 Q158.8 121.4 160.7 124.5L163.8 129.4 Q165.8 132.5 164.1 136.6L161.4 143 Q159.7 147.1 155.8 147.6L149.7 148.4 Q145.8 148.9 142.9 145.7Z" fill="#000" fill-opacity="0.215" stroke="#000" stroke-opacity="0.289" stroke-width="1.1"/><path d="M165.3 36.3 Q162.9 36 161.7 33L160 28.3 Q158.9 25.3 160.6 23L163.2 19.2 Q164.9 16.9 167.9 17.5L172.6 18.5 Q175.7 19.1 176.8 22.1L178.6 26.9 Q179.7 30 177.4 32L173.9 35.1 Q171.6 37 169.2 36.7Z" fill="#000" fill-opacity="0.172" stroke="#000" stroke-opacity="0.263" stroke-width="1.1"/><path d="M179.7 122.8 Q178.8 126 175.2 126.9L169.4 128.2 Q165.7 129 163 126.5L158.6 122.6 Q155.9 120.1 157.3 116.4L159.6 110.7 Q161.1 107.1 164.2 106.2L169.1 104.8 Q172.2 103.9 174.9 106.8L179.2 111.4 Q182 114.4 181.1 117.6Z" fill="#000" fill-opacity="0.194" stroke="#000" stroke-opacity="0.276" stroke-width="1.1"/><path d="M209.9 4.4 Q211 8.2 207.6 11.5L202.2 16.7 Q198.7 20 194.1 18.7L186.7 16.6 Q182 15.3 181.5 11L180.7 4.1 Q180.2 -0.2 183.5 -3L188.8 -7.5 Q192.2 -10.3 196.4 -8.9L203 -6.7 Q207.2 -5.3 208.3 -1.5Z" fill="#000" fill-opacity="0.280" stroke="#000" stroke-opacity="0.328" stroke-width="1.1"/><path d="M213.8 11.1 Q212.3 13.9 209.5 13.7L204.9 13.4 Q202.1 13.1 200.5 10.5L198 6.4 Q196.5 3.8 197.8 1.4L199.9 -2.3 Q201.3 -4.7 204.1 -4.9L208.7 -5.2 Q211.6 -5.4 213.3 -2.8L215.9 1.2 Q217.6 3.8 216.1 6.6Z" fill="#000" fill-opacity="0.215" stroke="#000" stroke-opacity="0.289" stroke-width="1.1"/><path d="M207 27.7 Q203.1 26.5 202.1 22.7L200.4 16.6 Q199.3 12.7 202 9.9L206.1 5.3 Q208.8 2.4 212.8 3.1L219.2 4.1 Q223.3 4.7 224.3 9L226 15.9 Q227 20.2 224.2 23.2L219.8 27.9 Q217 30.9 213.1 29.7Z" fill="#000" fill-opacity="0.215" stroke="#000" stroke-opacity="0.289" stroke-width="1.1"/><path d="M186.7 28.5 Q187.1 31.9 184.7 34L180.9 37.3 Q178.5 39.4 175.4 38.2L170.5 36.4 Q167.4 35.3 166.6 31.8L165.4 26.3 Q164.6 22.8 167.1 20.7L171 17.4 Q173.5 15.3 176.9 16.6L182.2 18.5 Q185.6 19.8 186 23.2Z" fill="#000" fill-opacity="0.194" stroke="#000" stroke-opacity="0.276" stroke-width="1.1"/><path d="M244.6 24.4 Q243.2 25.9 241.2 25.6L237.9 25 Q235.9 24.7 235.1 22.4L233.9 18.8 Q233.1 16.5 234.4 15L236.6 12.8 Q237.9 11.4 240.4 11.8L244.3 12.4 Q246.8 12.8 247.3 15L247.9 18.4 Q248.4 20.6 246.9 22.1Z" fill="#000" fill-opacity="0.344" stroke="#000" stroke-opacity="0.366" stroke-width="1.1"/><path d="M240.3 36.9 Q239.7 40.1 236.7 41.2L231.9 42.9 Q228.8 43.9 226.1 41.8L221.8 38.5 Q219.1 36.4 220.2 32.7L221.9 27 Q223 23.3 225.8 22.4L230.3 21 Q233.1 20.1 235.6 22.5L239.4 26.2 Q241.9 28.6 241.3 31.8Z" fill="#000" fill-opacity="0.215" stroke="#000" stroke-opacity="0.289" stroke-width="1.1"/><path d="M277.3 31.5 Q280.8 36.8 277.7 42L272.8 50.2 Q269.7 55.4 263.9 55.3L254.8 55.1 Q249 54.9 246.1 50.2L241.5 42.8 Q238.6 38.1 241.4 32.9L245.9 24.7 Q248.7 19.5 254.1 19.1L262.7 18.4 Q268.2 18 271.7 23.2Z" fill="#000" fill-opacity="0.237" stroke="#000" stroke-opacity="0.302" stroke-width="1.1"/><path d="M277.3 67.5 Q276.2 71.9 271.7 73.2L264.6 75.4 Q260.1 76.7 256.7 73.5L251.5 68.5 Q248.1 65.3 249.3 61.2L251.1 54.6 Q252.2 50.4 256.9 49.2L264.3 47.2 Q269 45.9 272.1 48.8L277 53.5 Q280.1 56.4 279 60.7Z" fill="#000" fill-opacity="0.237" stroke="#000" stroke-opacity="0.302" stroke-width="1.1"/><path d="M269.2 54.8 Q269.7 56.6 268.6 58L266.9 60.3 Q265.8 61.8 263.9 61.7L260.9 61.7 Q259 61.6 257.8 60.4L256 58.5 Q254.8 57.3 255.1 55.3L255.5 52.2 Q255.8 50.3 257.5 49.5L260.1 48.2 Q261.8 47.4 263.6 48.2L266.3 49.4 Q268 50.2 268.5 52Z" fill="#000" fill-opacity="0.280" stroke="#000" stroke-opacity="0.328" stroke-width="1.1"/><path d="M187.7 90.4 Q184.3 90.3 182.5 87.2L179.6 82.3 Q177.8 79.3 179.6 75.9L182.4 70.7 Q184.1 67.4 188.3 67.7L194.7 68.1 Q198.9 68.4 200.5 71.9L203 77.4 Q204.6 80.9 202.3 83.7L198.7 88.1 Q196.4 90.9 193 90.7Z" fill="#000" fill-opacity="0.194" stroke="#000" stroke-opacity="0.276" stroke-width="1.1"/><path d="M213.9 81.2 Q211.6 80.2 211.4 78L211.1 74.5 Q210.9 72.4 212.5 71L215.1 68.9 Q216.8 67.6 218.9 68.5L222.3 69.9 Q224.4 70.8 224.9 73L225.7 76.5 Q226.1 78.7 224.4 80.1L221.6 82.4 Q219.8 83.9 217.5 82.8Z" fill="#000" fill-opacity="0.129" stroke="#000" stroke-opacity="0.237" stroke-width="1.1"/><path d="M246.1 90.4 Q243.2 85.9 245.5 80.8L249.1 72.7 Q251.4 67.6 257.4 67.3L266.8 66.8 Q272.8 66.6 275.4 71.3L279.6 78.7 Q282.2 83.5 280.2 88L277.1 95.2 Q275.2 99.8 269.1 100.3L259.7 101.2 Q253.6 101.7 250.7 97.3Z" fill="#000" fill-opacity="0.215" stroke="#000" stroke-opacity="0.289" stroke-width="1.1"/><path d="M218.5 114.2 Q214 115.7 209.9 112.8L203.5 108.3 Q199.4 105.4 200.5 100.3L202.2 92.2 Q203.3 87 207.7 85.7L214.5 83.6 Q218.8 82.2 222.6 85.5L228.5 90.6 Q232.3 93.9 231.7 98.5L230.7 105.7 Q230.1 110.3 225.6 111.8Z" fill="#000" fill-opacity="0.194" stroke="#000" stroke-opacity="0.276" stroke-width="1.1"/><path d="M193.2 122 Q192.7 126.7 189.5 128L184.4 130 Q181.1 131.2 177.1 128.6L170.8 124.6 Q166.8 122 167.5 118.2L168.7 112.1 Q169.5 108.3 173 106.3L178.4 103.2 Q181.9 101.3 185.4 103.7L190.9 107.4 Q194.3 109.8 193.9 114.5Z" fill="#000" fill-opacity="0.215" stroke="#000" stroke-opacity="0.289" stroke-width="1.1"/><path d="M204 123.9 Q204.8 128.3 201.6 130.6L196.5 134.3 Q193.3 136.6 189.1 134.8L182.6 132 Q178.4 130.2 178.4 125.9L178.4 119.2 Q178.4 114.9 181.9 112.7L187.5 109.2 Q191 106.9 194 108.5L198.7 111 Q201.7 112.6 202.6 117Z" fill="#000" fill-opacity="0.194" stroke="#000" stroke-opacity="0.276" stroke-width="1.1"/><path d="M230.6 146.2 Q225.4 148.8 220.1 146.2L211.8 142.2 Q206.4 139.6 205.6 133L204.4 122.7 Q203.6 116.2 208.7 112.6L216.6 107.1 Q221.7 103.5 227.9 107.2L237.7 112.9 Q243.9 116.5 243.9 122.9L243.9 132.9 Q243.9 139.3 238.7 142Z" fill="#000" fill-opacity="0.194" stroke="#000" stroke-opacity="0.276" stroke-width="1.1"/><path d="M252.3 124.8 Q249.3 122.1 249.9 117.4L250.9 110.1 Q251.5 105.4 256.1 104.2L263.4 102.3 Q268 101.1 271.2 104L276.1 108.6 Q279.3 111.6 278.6 115.6L277.4 121.9 Q276.7 126 272 127.6L264.6 130.2 Q259.9 131.8 256.9 129.1Z" fill="#000" fill-opacity="0.194" stroke="#000" stroke-opacity="0.276" stroke-width="1.1"/><path d="M247 135.6 Q245.5 133.8 246.3 131.2L247.6 127.2 Q248.4 124.7 250.9 124L254.8 122.8 Q257.3 122.1 259.2 124.4L262.1 128 Q264 130.3 263.1 132.7L261.6 136.5 Q260.7 139 257.9 139.3L253.5 139.8 Q250.6 140.2 249.2 138.4Z" fill="#000" fill-opacity="0.280" stroke="#000" stroke-opacity="0.328" stroke-width="1.1"/><path d="M283.2 144.5 Q280.4 144.3 279 141.3L277 136.5 Q275.7 133.5 277.8 131.2L281.1 127.5 Q283.2 125.2 285.9 125.4L290.2 125.7 Q293 125.9 294.2 128.8L296.1 133.3 Q297.3 136.2 295.4 138.7L292.5 142.5 Q290.6 145 287.7 144.8Z" fill="#000" fill-opacity="0.172" stroke="#000" stroke-opacity="0.263" stroke-width="1.1"/><path d="M300.5 151.1 Q296.7 150.1 295.9 146.7L294.6 141.4 Q293.8 138 296.3 135.4L300.3 131.3 Q302.8 128.7 306.1 129.4L311.3 130.6 Q314.7 131.4 316.2 134.8L318.7 140.3 Q320.2 143.7 317.5 146.6L313.1 151 Q310.3 153.8 306.5 152.8Z" fill="#000" fill-opacity="0.194" stroke="#000" stroke-opacity="0.276" stroke-width="1.1"/><path d="M318.2 146.9 Q315.7 144 316.6 141L317.9 136.2 Q318.7 133.2 322.1 131.9L327.4 129.7 Q330.7 128.4 333.6 130.7L338.1 134.3 Q340.9 136.6 340.4 140.4L339.6 146.3 Q339.1 150.1 335 151.4L328.7 153.3 Q324.7 154.5 322.2 151.5Z" fill="#000" fill-opacity="0.194" stroke="#000" stroke-opacity="0.276" stroke-width="1.1"/><path d="M238.2 176.4 Q235.9 178.9 232.3 178L226.6 176.6 Q223 175.7 221.9 172.4L220.2 167.2 Q219.1 163.9 222 160.9L226.7 156.3 Q229.7 153.3 233 154.2L238.2 155.5 Q241.5 156.3 242.3 160.2L243.5 166.2 Q244.3 170.1 242 172.6Z" fill="#000" fill-opacity="0.215" stroke="#000" stroke-opacity="0.289" stroke-width="1.1"/><path d="M39.8 192.6 Q37.9 198.4 31.5 200.2L21.4 203 Q14.9 204.8 10.4 199.3L3.4 190.7 Q-1 185.3 1.1 180.3L4.4 172.5 Q6.6 167.5 13.4 165.5L24 162.3 Q30.8 160.3 34.7 165.2L40.8 172.9 Q44.7 177.7 42.8 183.5Z" fill="#000" fill-opacity="0.215" stroke="#000" stroke-opacity="0.289" stroke-width="1.1"/><path d="M23.5 167.1 Q24.2 168.5 23.3 170L22 172.5 Q21.2 174.1 19.6 174.2L17 174.5 Q15.4 174.6 14.5 173.8L13 172.5 Q12 171.7 11.8 170.1L11.6 167.4 Q11.5 165.7 12.9 164.7L15.1 163.1 Q16.5 162 18 162.5L20.2 163.1 Q21.7 163.5 22.4 164.9Z" fill="#000" fill-opacity="0.387" stroke="#000" stroke-opacity="0.392" stroke-width="1.1"/><path d="M11.7 219.9 Q8.9 221.9 5.6 220.4L0.3 218.2 Q-3 216.7 -3.4 213.1L-3.9 207.3 Q-4.3 203.6 -1.6 201.8L2.6 199.1 Q5.2 197.3 8.6 198.4L14 200 Q17.4 201.1 17.8 204.9L18.4 210.9 Q18.7 214.8 16 216.8Z" fill="#000" fill-opacity="0.215" stroke="#000" stroke-opacity="0.289" stroke-width="1.1"/><path d="M62.9 207.8 Q64.1 212.2 60.8 215.6L55.7 220.9 Q52.5 224.2 47.8 223.1L40.4 221.3 Q35.7 220.2 34.2 216L31.7 209.4 Q30.2 205.2 33.9 201.3L39.7 195.1 Q43.4 191.2 48 192.7L55.2 195 Q59.7 196.6 60.9 200.9Z" fill="#000" fill-opacity="0.194" stroke="#000" stroke-opacity="0.276" stroke-width="1.1"/><path d="M90.7 192.8 Q90.1 196.7 85.3 198L77.8 200.1 Q73 201.4 69.9 198.9L65.2 194.9 Q62.1 192.4 63.1 187.5L64.5 179.7 Q65.5 174.8 69.5 173.4L75.7 171.2 Q79.7 169.8 83.3 173.3L88.8 178.9 Q92.4 182.5 91.7 186.5Z" fill="#000" fill-opacity="0.237" stroke="#000" stroke-opacity="0.302" stroke-width="1.1"/><path d="M112.3 182.4 Q113.8 185.8 111.2 189.2L107.2 194.5 Q104.6 197.9 100.4 197.5L93.9 196.8 Q89.7 196.3 88.4 192.6L86.4 186.8 Q85.1 183.2 87.8 179.8L92 174.4 Q94.7 171 98.6 171.8L104.6 173 Q108.4 173.7 110 177.1Z" fill="#000" fill-opacity="0.237" stroke="#000" stroke-opacity="0.302" stroke-width="1.1"/><path d="M81.2 206.5 Q80.5 209.9 77.3 210.9L72.2 212.5 Q68.9 213.5 66.8 211.6L63.5 208.6 Q61.4 206.6 61.8 203.2L62.3 197.8 Q62.6 194.4 66.1 193.4L71.5 191.9 Q75 190.9 77.1 192.9L80.6 195.9 Q82.7 197.8 82.1 201.2Z" fill="#000" fill-opacity="0.150" stroke="#000" stroke-opacity="0.250" stroke-width="1.1"/><path d="M114.6 197.9 Q112.8 195.1 113.8 192.1L115.5 187.4 Q116.5 184.4 120.3 183.9L126.3 183.2 Q130.1 182.7 131.9 185.6L134.7 190.1 Q136.5 193 134.6 195.9L131.7 200.6 Q129.8 203.5 126.9 203.9L122.3 204.5 Q119.4 204.9 117.6 202.2Z" fill="#000" fill-opacity="0.215" stroke="#000" stroke-opacity="0.289" stroke-width="1.1"/><path d="M149.5 174.9 Q146.2 174.3 145.1 170.9L143.4 165.6 Q142.4 162.3 144.6 159.9L148.1 156.3 Q150.3 154 153.3 154.5L158.1 155.3 Q161.1 155.8 162.4 159.1L164.6 164.3 Q165.9 167.6 163.7 170.1L160.3 174.1 Q158 176.6 154.7 175.9Z" fill="#000" fill-opacity="0.172" stroke="#000" stroke-opacity="0.263" stroke-width="1.1"/><path d="M163.3 206.9 Q163 208.5 161.4 209.2L158.9 210.3 Q157.3 211 156.1 210.5L154.2 209.7 Q153 209.2 152.4 207.6L151.5 205 Q151 203.4 151.9 202.2L153.4 200.3 Q154.4 199.1 156.1 199.1L158.8 199.2 Q160.6 199.2 161.6 200.2L163.1 201.8 Q164.1 202.9 163.8 204.4Z" fill="#000" fill-opacity="0.194" stroke="#000" stroke-opacity="0.276" stroke-width="1.1"/><path d="M168.8 186.3 Q165.7 185.3 164.3 181.8L162.1 176.2 Q160.7 172.6 163.6 169.7L168.1 165.2 Q170.9 162.3 174.9 163.8L181.2 166.2 Q185.1 167.7 186 171L187.4 176.2 Q188.2 179.6 185.1 182.2L180.1 186.3 Q177 188.9 173.8 187.9Z" fill="#000" fill-opacity="0.215" stroke="#000" stroke-opacity="0.289" stroke-width="1.1"/><path d="M227.6 216.1 Q222.4 214.7 219.8 209.7L215.7 201.9 Q213.1 196.8 217.5 191.4L224.5 182.8 Q228.9 177.4 234.5 179.1L243.4 181.8 Q249 183.5 251 188.2L254 195.6 Q256 200.3 251.8 205.7L245.2 214.1 Q240.9 219.5 235.8 218.2Z" fill="#000" fill-opacity="0.215" stroke="#000" stroke-opacity="0.289" stroke-width="1.1"/><path d="M248.8 192.3 Q247.4 194.2 244.8 193.9L240.8 193.5 Q238.3 193.3 237.4 191L236 187.6 Q235.1 185.4 236.9 183.3L239.6 179.9 Q241.3 177.8 243.7 178.4L247.5 179.3 Q249.9 179.9 250.6 182L251.7 185.3 Q252.4 187.4 251 189.3Z" fill="#000" fill-opacity="0.215" stroke="#000" stroke-opacity="0.289" stroke-width="1.1"/><path d="M310.7 186.2 Q308.5 188.5 305.7 188.4L301.2 188.4 Q298.4 188.3 297.1 185.4L295 180.9 Q293.7 178 295.1 175.3L297.3 171.2 Q298.8 168.5 302.2 168.5L307.6 168.5 Q311 168.4 312.5 171.8L314.8 177 Q316.2 180.4 314.1 182.6Z" fill="#000" fill-opacity="0.194" stroke="#000" stroke-opacity="0.276" stroke-width="1.1"/><path d="M340.8 194.4 Q339.8 197.2 336.1 198.4L330.5 200.2 Q326.9 201.3 324.6 198.6L321 194.4 Q318.7 191.7 319.6 188.3L321 182.9 Q322 179.5 325.7 178.7L331.5 177.4 Q335.2 176.6 337.6 179.5L341.3 184.1 Q343.6 187 342.5 189.9Z" fill="#000" fill-opacity="0.194" stroke="#000" stroke-opacity="0.276" stroke-width="1.1"/><path d="M204.6 229.8 Q205.1 235.4 200.9 238.5L194.3 243.4 Q190.1 246.5 185 244.1L177 240.5 Q171.9 238.2 171.2 233.3L170 225.6 Q169.3 220.7 173.2 216.8L179.3 210.7 Q183.3 206.8 188.8 209.2L197.6 212.8 Q203.1 215.2 203.7 220.8Z" fill="#000" fill-opacity="0.215" stroke="#000" stroke-opacity="0.289" stroke-width="1.1"/><path d="M222.8 248.5 Q220.7 250.6 218.1 250.1L214 249.3 Q211.4 248.8 210.3 245.7L208.4 240.7 Q207.3 237.5 209.2 235.5L212.1 232.3 Q214 230.2 217.4 230.8L222.8 231.6 Q226.2 232.2 226.8 235.2L227.6 239.9 Q228.2 242.9 226.1 245.1Z" fill="#000" fill-opacity="0.172" stroke="#000" stroke-opacity="0.263" stroke-width="1.1"/><path d="M279.8 249.1 Q278.5 252.2 273.9 252.9L266.6 254 Q261.9 254.6 259.8 251.1L256.5 245.6 Q254.4 242.1 256.2 238.4L259.1 232.8 Q261 229.1 264.7 228.6L270.5 227.8 Q274.2 227.2 276.7 231.1L280.7 237.1 Q283.2 241 281.9 244.1Z" fill="#000" fill-opacity="0.215" stroke="#000" stroke-opacity="0.289" stroke-width="1.1"/><path d="M292.4 239.9 Q289 240.5 286.9 238.3L283.7 234.7 Q281.6 232.4 282.4 229.4L283.6 224.6 Q284.4 221.6 287.8 220.6L293.1 219.1 Q296.5 218.2 298.5 220.5L301.6 224.1 Q303.6 226.5 302.9 229.8L301.9 234.9 Q301.2 238.2 297.8 238.9Z" fill="#000" fill-opacity="0.194" stroke="#000" stroke-opacity="0.276" stroke-width="1.1"/><path d="M346.1 227.6 Q345.9 233.7 340.2 236.6L331.3 241.3 Q325.7 244.2 321.5 241.3L315 236.7 Q310.8 233.7 310.6 227.5L310.3 217.8 Q310.1 211.6 315.7 209.1L324.4 205.2 Q330 202.7 334.7 205.3L342.1 209.4 Q346.9 212 346.6 218.1Z" fill="#000" fill-opacity="0.215" stroke="#000" stroke-opacity="0.289" stroke-width="1.1"/><path d="M337.4 247.2 Q335.7 249 333.2 248.3L329.2 247.3 Q326.6 246.6 326.1 244.4L325.3 241 Q324.8 238.9 326.3 237.1L328.8 234.2 Q330.4 232.4 332.9 233.3L336.9 234.6 Q339.5 235.5 340.1 237.5L341.1 240.6 Q341.7 242.6 340 244.4Z" fill="#000" fill-opacity="0.280" stroke="#000" stroke-opacity="0.328" stroke-width="1.1"/><path d="M192.7 269.8 Q192.3 274.2 187.6 276.6L180.1 280.3 Q175.3 282.6 171.3 279.8L165 275.3 Q161 272.4 161.8 267.6L163 260.1 Q163.8 255.4 167.6 253.3L173.6 250 Q177.4 248 182 250.9L189.1 255.6 Q193.6 258.5 193.2 262.9Z" fill="#000" fill-opacity="0.215" stroke="#000" stroke-opacity="0.289" stroke-width="1.1"/><path d="M206.7 278.9 Q207.6 283.2 204.2 286.3L198.9 291.1 Q195.5 294.2 191.1 293.2L184.1 291.6 Q179.7 290.6 178.7 285.5L177.2 277.5 Q176.2 272.4 179.3 269.2L184.1 264.3 Q187.2 261.1 192 263L199.6 266 Q204.4 267.9 205.3 272.2Z" fill="#000" fill-opacity="0.215" stroke="#000" stroke-opacity="0.289" stroke-width="1.1"/><path d="M327.7 274.8 Q328.2 279.4 324.7 281.4L319.1 284.5 Q315.6 286.5 311.4 284.7L304.8 281.8 Q300.6 280 300.3 275.6L299.9 268.8 Q299.6 264.4 303.3 262.2L309.1 258.8 Q312.8 256.6 316.6 258.4L322.5 261.4 Q326.3 263.2 326.9 267.7Z" fill="#000" fill-opacity="0.215" stroke="#000" stroke-opacity="0.289" stroke-width="1.1"/><path d="M285.7 283.7 Q284.7 284.6 283.7 284.4L282 284 Q281 283.7 280.3 282.7L279.2 281 Q278.4 280 278.9 278.9L279.6 277.1 Q280.1 276 281.2 275.5L282.9 274.8 Q284 274.3 285.1 275.2L286.8 276.6 Q287.9 277.4 288 278.5L288.2 280.3 Q288.3 281.5 287.3 282.3Z" fill="#000" fill-opacity="0.215" stroke="#000" stroke-opacity="0.289" stroke-width="1.1"/><path d="M349.9 303.2 Q351.3 307 349 310L345.5 314.6 Q343.3 317.6 339.4 316.9L333.3 315.9 Q329.5 315.3 327.9 311.9L325.5 306.5 Q323.9 303 326.2 299.8L329.9 294.7 Q332.2 291.5 336.1 292L342.3 292.7 Q346.3 293.2 347.7 297.1Z" fill="#000" fill-opacity="0.215" stroke="#000" stroke-opacity="0.289" stroke-width="1.1"/><path d="M262.6 328 Q265 332.6 262.4 336.7L258.4 343.2 Q255.8 347.3 250.1 346.8L241.2 345.9 Q235.6 345.3 233.6 341.2L230.4 334.7 Q228.4 330.6 231 326.4L235.2 319.8 Q237.8 315.5 243 315.7L251.2 315.9 Q256.4 316.1 258.8 320.7Z" fill="#000" fill-opacity="0.215" stroke="#000" stroke-opacity="0.289" stroke-width="1.1"/><path d="M170.3 338.8 Q169 339.5 167.5 339.1L165.2 338.4 Q163.7 338 163 336.5L161.9 334.3 Q161.3 332.8 162.1 331.6L163.4 329.6 Q164.3 328.4 165.8 328.1L168.1 327.6 Q169.6 327.2 170.8 328.4L172.6 330.3 Q173.8 331.5 173.8 333L173.7 335.5 Q173.7 337 172.4 337.7Z" fill="#000" fill-opacity="0.215" stroke="#000" stroke-opacity="0.289" stroke-width="1.1"/></g></g></g><g clip-path="url(#cb)"><g filter="url(#an)"><rect x="344" y="0" width="341" height="340" fill="#a8a8a8"/><g filter="url(#bl)"><path d="M387 41 Q380.3 39.2 378.6 32.9L375.9 23.1 Q374.3 16.8 378.9 12.2L386.1 5 Q390.7 0.4 396.3 1.7L405 3.7 Q410.6 5 412.4 12L415.3 22.9 Q417.1 29.9 413.4 34.3L407.7 41.3 Q404.1 45.7 397.4 43.9Z" fill="none" stroke="#fff" stroke-opacity="0.22" stroke-width="2"/><path d="M424.1 42.6 Q424.3 46.7 421.1 48.3L416.2 50.8 Q413 52.4 409.9 50.8L404.9 48.4 Q401.8 46.9 401.8 43.3L401.8 37.8 Q401.9 34.2 405 32.1L410 28.8 Q413.2 26.8 416.1 28.2L420.8 30.6 Q423.7 32.1 423.9 36.2Z" fill="none" stroke="#fff" stroke-opacity="0.22" stroke-width="2"/><path d="M404.1 62.4 Q404 68.3 399 70.5L391.2 73.9 Q386.2 76.1 381.9 73.2L375 68.7 Q370.7 65.9 370.5 60.7L370.2 52.5 Q370 47.3 374.6 44.4L381.9 39.7 Q386.5 36.7 391.5 39.6L399.5 44.2 Q404.5 47.1 404.4 53Z" fill="none" stroke="#fff" stroke-opacity="0.22" stroke-width="2"/><path d="M419.5 70 Q415.6 67.6 416.5 62.2L418 53.8 Q418.9 48.4 423.6 46.9L431 44.4 Q435.7 42.9 439.5 46.3L445.4 51.5 Q449.1 54.9 448.3 59.2L447.2 66.1 Q446.4 70.5 441.7 72.1L434.4 74.7 Q429.7 76.4 425.7 73.9Z" fill="none" stroke="#fff" stroke-opacity="0.22" stroke-width="2"/><path d="M420.7 17.1 Q416.7 16.5 415.3 12.5L413.1 6.2 Q411.7 2.2 414.9 -0.9L420 -6 Q423.3 -9.1 426.8 -7.9L432.4 -6 Q435.9 -4.8 436.9 -1.5L438.4 3.7 Q439.4 6.9 437 10.2L433.2 15.3 Q430.9 18.5 426.9 18Z" fill="none" stroke="#fff" stroke-opacity="0.22" stroke-width="2"/><path d="M447.3 10.1 Q445.3 12.1 443 11.2L439.3 9.9 Q437 9.1 436.4 6.4L435.5 2.2 Q434.9 -0.5 436.4 -2.1L438.9 -4.7 Q440.5 -6.3 443 -5.7L447.1 -4.8 Q449.7 -4.2 450.4 -1.7L451.7 2.3 Q452.5 4.9 450.5 6.9Z" fill="none" stroke="#fff" stroke-opacity="0.22" stroke-width="2"/><path d="M463.6 34.6 Q458.4 36 454.1 31.5L447.4 24.5 Q443.1 20 445.1 14L448.1 4.7 Q450 -1.3 454.9 -2.4L462.5 -4.1 Q467.4 -5.2 472.2 -0.9L479.9 5.9 Q484.8 10.1 482.6 16L479.1 25.1 Q476.9 30.9 471.7 32.4Z" fill="none" stroke="#fff" stroke-opacity="0.22" stroke-width="2"/><path d="M473.6 33.7 Q472.7 38.1 467.9 39.3L460.4 41.1 Q455.7 42.3 452.7 38.9L448 33.6 Q445 30.3 446.6 25.8L449.1 18.8 Q450.7 14.3 454.6 13.4L460.9 12.1 Q464.8 11.2 467.9 14.4L472.8 19.3 Q475.9 22.4 475 26.8Z" fill="none" stroke="#fff" stroke-opacity="0.22" stroke-width="2"/><path d="M475.7 47.8 Q472.9 50.4 468.7 49.4L462.2 47.9 Q458 46.9 456.7 43.1L454.5 37.3 Q453.2 33.6 455.9 30.9L460.2 26.6 Q463 23.9 467.3 24.7L474.1 25.9 Q478.4 26.7 479.6 30.7L481.5 37 Q482.8 41 480 43.7Z" fill="none" stroke="#fff" stroke-opacity="0.22" stroke-width="2"/><path d="M480.7 55 Q480.6 58.4 477.7 60.5L473.1 63.7 Q470.2 65.8 466.5 63.6L460.8 60.1 Q457.1 57.9 457.1 54.6L457.1 49.4 Q457 46.2 460.7 44.2L466.6 41 Q470.3 39 473.3 41.1L478.1 44.3 Q481.1 46.4 481 49.8Z" fill="none" stroke="#fff" stroke-opacity="0.22" stroke-width="2"/><path d="M470.4 71.6 Q469.6 75.4 466 77.1L460.4 79.7 Q456.7 81.4 453.1 78.5L447.4 74.1 Q443.7 71.2 444.8 67.1L446.4 60.6 Q447.4 56.5 451 55.3L456.6 53.5 Q460.2 52.4 463.6 55L468.9 59.2 Q472.3 61.8 471.6 65.6Z" fill="none" stroke="#fff" stroke-opacity="0.22" stroke-width="2"/><path d="M373.4 112.3 Q368.2 115 362.5 110.7L353.6 103.9 Q348 99.6 349 93.6L350.7 84.2 Q351.8 78.2 356.7 75.8L364.4 72 Q369.4 69.5 375.4 73.1L384.8 78.8 Q390.8 82.4 389.7 88.9L387.9 98.9 Q386.8 105.3 381.6 108.1Z" fill="none" stroke="#fff" stroke-opacity="0.22" stroke-width="2"/><path d="M394.8 101.1 Q390.7 97.6 391.6 91.1L393.1 81 Q394 74.5 399.5 72.7L408.3 69.8 Q413.8 67.9 418.4 72.3L425.7 79.1 Q430.3 83.4 429.1 89.2L427.1 98.2 Q425.9 104 420.1 105.7L411 108.4 Q405.2 110 401.1 106.6Z" fill="none" stroke="#fff" stroke-opacity="0.22" stroke-width="2"/><path d="M456.8 125.5 Q450.1 124.4 447.7 118.6L443.9 109.5 Q441.5 103.7 445.4 98.2L451.4 89.5 Q455.3 84 462 85.2L472.5 87.1 Q479.1 88.3 482.3 94.2L487.3 103.4 Q490.5 109.3 485.9 114.6L478.6 122.9 Q474 128.2 467.3 127.2Z" fill="none" stroke="#fff" stroke-opacity="0.22" stroke-width="2"/><path d="M502.6 107 Q503.8 109.2 502 112L499.1 116.4 Q497.2 119.2 494.2 118.7L489.6 117.8 Q486.6 117.3 485.4 114.7L483.6 110.6 Q482.4 108.1 484.2 105.5L487.1 101.5 Q488.9 98.9 491.9 99.6L496.5 100.6 Q499.4 101.3 500.7 103.5Z" fill="none" stroke="#fff" stroke-opacity="0.22" stroke-width="2"/><path d="M496 82.4 Q493.4 80.5 493.9 78L494.7 74 Q495.2 71.4 497.7 70.1L501.8 68 Q504.3 66.7 507.1 68.5L511.6 71.4 Q514.4 73.2 513.9 76.1L513.2 80.7 Q512.7 83.7 509.9 84.7L505.4 86.3 Q502.6 87.3 500 85.4Z" fill="none" stroke="#fff" stroke-opacity="0.22" stroke-width="2"/><path d="M399.8 119.8 Q400.9 124.1 397.6 127.3L392.4 132.3 Q389.1 135.4 384.8 134.1L378 132 Q373.7 130.7 372.6 126.6L370.9 120.3 Q369.8 116.2 373.3 113L378.8 108 Q382.3 104.7 386.4 105.8L392.8 107.6 Q396.9 108.7 398 113Z" fill="none" stroke="#fff" stroke-opacity="0.22" stroke-width="2"/><path d="M357.8 148.1 Q353.9 150.1 350.6 148.1L345.4 145 Q342.2 143 341.8 138.2L341.3 130.6 Q341 125.8 344.9 123.5L351 120 Q354.9 117.7 358.8 120.2L364.9 124 Q368.8 126.5 368.5 131L368.1 138.2 Q367.8 142.8 363.9 144.8Z" fill="none" stroke="#fff" stroke-opacity="0.22" stroke-width="2"/><path d="M434.7 149.9 Q431 148 430.3 143.6L429.1 136.7 Q428.3 132.3 432.7 129.9L439.7 126.2 Q444.1 123.8 447.7 125.7L453.2 128.6 Q456.8 130.4 456.7 135L456.6 142.3 Q456.6 147 453.1 149.1L447.5 152.6 Q444 154.7 440.4 152.8Z" fill="none" stroke="#fff" stroke-opacity="0.22" stroke-width="2"/><path d="M439.1 142.5 Q436.6 141.1 436.7 138L436.7 133.3 Q436.8 130.2 439.5 128.6L443.7 126 Q446.4 124.3 448.8 125.6L452.5 127.6 Q454.9 128.8 455.2 131.9L455.7 136.6 Q456 139.6 453.1 141.4L448.5 144.2 Q445.6 146 443.1 144.6Z" fill="none" stroke="#fff" stroke-opacity="0.22" stroke-width="2"/><path d="M476.3 151.6 Q471.3 152.3 467.8 148.3L462.4 142 Q458.9 137.9 460.6 133.1L463.4 125.6 Q465.2 120.8 470.3 120L478.3 118.8 Q483.4 118 487.3 121.9L493.2 128 Q497 131.9 494.8 137L491.3 144.9 Q489 149.9 484.1 150.6Z" fill="none" stroke="#fff" stroke-opacity="0.22" stroke-width="2"/><path d="M490.2 157.5 Q488.1 155.7 488.4 152.6L489 147.6 Q489.3 144.4 492.3 143.4L497.1 141.8 Q500.1 140.8 502.1 142.6L505.4 145.5 Q507.5 147.4 507.3 150.3L507 154.9 Q506.8 157.8 503.7 159L498.8 160.9 Q495.7 162.2 493.6 160.4Z" fill="none" stroke="#fff" stroke-opacity="0.22" stroke-width="2"/><path d="M399.2 158.2 Q399.3 162.7 394.8 165L387.8 168.4 Q383.3 170.6 379 168.5L372.2 165 Q367.9 162.9 368.1 158.1L368.5 150.7 Q368.7 146 372.7 143.2L379.1 138.8 Q383.2 136 387.6 138.9L394.5 143.6 Q398.9 146.5 399 151.1Z" fill="none" stroke="#fff" stroke-opacity="0.22" stroke-width="2"/><path d="M436.3 163 Q436.7 166.4 433.7 168.2L429.2 171.1 Q426.2 173 423.4 171.5L419 169.3 Q416.2 167.8 416 164.1L415.7 158.2 Q415.6 154.5 418.1 152.9L422 150.3 Q424.5 148.7 427.6 150.3L432.4 152.7 Q435.5 154.2 435.8 157.6Z" fill="none" stroke="#fff" stroke-opacity="0.22" stroke-width="2"/><path d="M494.6 141.9 Q492.9 138.9 494.6 136.2L497.2 131.9 Q498.8 129.2 502.2 129.1L507.5 128.9 Q510.9 128.8 512.6 131.3L515.4 135.2 Q517.2 137.7 515.9 140.7L514 145.4 Q512.7 148.4 508.9 148.8L502.9 149.3 Q499.1 149.6 497.3 146.6Z" fill="none" stroke="#fff" stroke-opacity="0.22" stroke-width="2"/><path d="M348.5 40.3 Q346.2 41.7 344.1 40.5L340.8 38.7 Q338.6 37.6 338.5 34.8L338.2 30.4 Q338.1 27.6 340.7 26.3L344.7 24.3 Q347.3 23 349.4 24.3L352.8 26.3 Q354.9 27.6 354.8 30.2L354.6 34.2 Q354.5 36.8 352.2 38.1Z" fill="none" stroke="#fff" stroke-opacity="0.22" stroke-width="2"/><path d="M541.5 26.9 Q533.5 25.2 531.4 18.2L528 7.2 Q525.9 0.2 531 -5.2L539 -13.8 Q544.1 -19.2 551 -17.7L561.8 -15.3 Q568.6 -13.8 570.9 -6.9L574.6 4 Q576.9 11 572.7 16.6L566.1 25.5 Q561.9 31.1 554 29.5Z" fill="none" stroke="#fff" stroke-opacity="0.22" stroke-width="2"/><path d="M605 27.1 Q601.3 26.3 599.9 22.9L597.7 17.4 Q596.2 14 598.8 10.8L602.8 5.9 Q605.3 2.7 609.3 3.3L615.6 4.1 Q619.6 4.6 620.9 8.1L623 13.5 Q624.3 17 621.6 20.3L617.2 25.6 Q614.5 29 610.8 28.2Z" fill="none" stroke="#fff" stroke-opacity="0.22" stroke-width="2"/><path d="M610.9 79.7 Q606.5 81.8 602.8 79.7L597.1 76.4 Q593.5 74.2 593.2 69.3L592.7 61.4 Q592.4 56.5 596.5 54.5L602.9 51.4 Q607 49.4 611.3 51.5L617.9 54.8 Q622.1 56.9 622.1 61.8L622.1 69.5 Q622.1 74.4 617.7 76.5Z" fill="none" stroke="#fff" stroke-opacity="0.22" stroke-width="2"/><path d="M505.8 84.2 Q503.1 84.5 501.6 82.4L499.3 79.2 Q497.8 77.2 498.9 74.8L500.6 71.1 Q501.7 68.7 504.4 68.3L508.7 67.7 Q511.5 67.4 513.1 69.4L515.7 72.6 Q517.3 74.6 516.1 77.1L514.2 80.9 Q513 83.4 510.2 83.7Z" fill="none" stroke="#fff" stroke-opacity="0.22" stroke-width="2"/><path d="M571.2 115.5 Q569.2 121.1 563.2 122.6L553.8 124.9 Q547.8 126.3 543.6 121.3L537.1 113.4 Q532.9 108.3 534.8 103L537.9 94.5 Q539.8 89.1 546.5 87.5L557.1 84.9 Q563.8 83.3 567.3 88.3L572.9 96.2 Q576.5 101.2 574.4 106.8Z" fill="none" stroke="#fff" stroke-opacity="0.22" stroke-width="2"/><path d="M559.1 121.5 Q554.1 119.2 553.1 114L551.5 105.9 Q550.4 100.8 555.5 97.1L563.5 91.4 Q568.6 87.8 573.3 90.1L580.7 93.7 Q585.4 96 586.3 101.4L587.7 109.8 Q588.6 115.1 583.9 118.6L576.6 124 Q572 127.5 567 125.1Z" fill="none" stroke="#fff" stroke-opacity="0.22" stroke-width="2"/><path d="M568.4 147.2 Q563.8 144.8 563.6 140.5L563.3 133.7 Q563.2 129.4 566.9 126.5L572.8 122.1 Q576.5 119.2 581.1 121.3L588.5 124.6 Q593.1 126.7 593.3 131.4L593.6 138.9 Q593.8 143.6 590 146.3L584 150.6 Q580.2 153.4 575.6 151Z" fill="none" stroke="#fff" stroke-opacity="0.22" stroke-width="2"/><path d="M562.5 147.8 Q562.2 152.6 557.1 155.3L549.1 159.6 Q544.1 162.4 539.4 159.6L531.9 155.4 Q527.2 152.7 527.3 147L527.5 138.1 Q527.6 132.5 532.8 130.1L541 126.3 Q546.2 123.9 551 127.2L558.5 132.4 Q563.3 135.7 563 140.4Z" fill="none" stroke="#fff" stroke-opacity="0.22" stroke-width="2"/><path d="M525.4 142.8 Q527.1 146.7 524.2 149.4L519.6 153.5 Q516.7 156.2 512.9 155.4L506.8 154.2 Q503 153.4 502 150.3L500.5 145.3 Q499.6 142.1 502.3 138.5L506.6 133 Q509.3 129.4 512.6 130.3L517.8 131.6 Q521.1 132.5 522.8 136.5Z" fill="none" stroke="#fff" stroke-opacity="0.22" stroke-width="2"/><path d="M616.4 138.6 Q616.7 142.7 613.1 145.1L607.4 148.9 Q603.8 151.3 599.5 149.4L592.8 146.4 Q588.5 144.4 588.2 140.6L587.7 134.5 Q587.4 130.7 591.3 127.9L597.5 123.6 Q601.4 120.9 605.4 122.9L611.7 126 Q615.7 128.1 616 132.2Z" fill="none" stroke="#fff" stroke-opacity="0.22" stroke-width="2"/><path d="M593.8 178.9 Q587 176 586.2 169.6L585 159.5 Q584.2 153.1 589.8 149.2L598.4 143.1 Q604 139.2 610.2 142.1L620 146.6 Q626.2 149.5 626.8 155.4L627.7 164.7 Q628.3 170.6 623.5 175L616 181.9 Q611.3 186.3 604.5 183.4Z" fill="none" stroke="#fff" stroke-opacity="0.22" stroke-width="2"/><path d="M655.1 156.2 Q656.2 160.2 653.5 163.5L649.4 168.7 Q646.7 172.1 642.4 171.4L635.5 170.3 Q631.2 169.6 629.7 165.9L627.3 160 Q625.8 156.3 628.8 152.6L633.4 146.8 Q636.4 143.1 640.8 143.9L647.8 145.1 Q652.3 145.9 653.4 149.9Z" fill="none" stroke="#fff" stroke-opacity="0.22" stroke-width="2"/><path d="M681.2 149.9 Q679 152.8 675.3 152.4L669.3 151.7 Q665.5 151.3 664 147.3L661.5 141.1 Q660 137.2 662.2 134.1L665.8 129.1 Q668 126 672.1 126.9L678.5 128.2 Q682.5 129.1 683.7 132.9L685.7 138.7 Q686.9 142.5 684.7 145.4Z" fill="none" stroke="#fff" stroke-opacity="0.22" stroke-width="2"/><path d="M668.1 170 Q664.9 171.8 662.1 170.3L657.6 168 Q654.7 166.5 654.5 163.2L654.2 158.2 Q654 154.9 656.9 153.1L661.5 150.1 Q664.4 148.3 667.6 149.8L672.6 152.1 Q675.8 153.6 675.9 156.9L676.1 161.9 Q676.3 165.2 673.1 167Z" fill="none" stroke="#fff" stroke-opacity="0.22" stroke-width="2"/><path d="M526 183.3 Q523.7 185.6 520.5 184.7L515.4 183.3 Q512.2 182.4 511.3 179L510 173.7 Q509.1 170.3 511.4 167.9L515 164.2 Q517.3 161.8 521 162.9L526.8 164.6 Q530.4 165.7 530.9 169L531.6 174.1 Q532 177.3 529.7 179.6Z" fill="none" stroke="#fff" stroke-opacity="0.22" stroke-width="2"/><path d="M644.7 148.6 Q643.4 151.9 639.8 152.1L634.1 152.6 Q630.4 152.8 628.7 150.3L625.9 146.2 Q624.2 143.7 626 140.2L628.8 134.7 Q630.6 131.2 633.5 131.1L638 131 Q640.8 130.9 642.8 133.5L646 137.6 Q648 140.2 646.7 143.4Z" fill="none" stroke="#fff" stroke-opacity="0.22" stroke-width="2"/><path d="M368.8 175.7 Q365.4 172.2 366.8 167.7L368.9 160.5 Q370.3 156 374.7 155.2L381.6 153.9 Q386 153.1 389.1 156.5L394 161.7 Q397.1 165 395.8 169.4L393.7 176.2 Q392.3 180.5 388.2 181.6L381.8 183.4 Q377.7 184.5 374.2 181Z" fill="none" stroke="#fff" stroke-opacity="0.22" stroke-width="2"/><path d="M448.5 197.3 Q442.7 201.3 437.1 199L428.4 195.4 Q422.8 193.1 421.3 185.5L418.8 173.6 Q417.3 166 423.1 162.3L432.4 156.4 Q438.3 152.7 445 155.6L455.5 160.1 Q462.2 162.9 462.5 169.6L463 180.2 Q463.3 186.9 457.5 190.9Z" fill="none" stroke="#fff" stroke-opacity="0.22" stroke-width="2"/><path d="M463.4 192.6 Q460.7 197.9 454.8 198.7L445.5 200 Q439.5 200.9 436.2 195.4L431.1 186.7 Q427.8 181.2 430.2 176.5L434.1 169 Q436.5 164.3 441.9 163.1L450.4 161.4 Q455.7 160.3 459.8 165.6L466.3 173.9 Q470.4 179.1 467.7 184.4Z" fill="none" stroke="#fff" stroke-opacity="0.22" stroke-width="2"/><path d="M415.6 201.9 Q412.6 205 407.8 203.6L400.3 201.5 Q395.5 200.1 395.1 195.2L394.5 187.6 Q394.2 182.7 397.4 180.5L402.4 176.9 Q405.7 174.6 409.9 176.2L416.5 178.6 Q420.7 180.1 421.4 184L422.4 190.1 Q423.1 194 420.2 197.1Z" fill="none" stroke="#fff" stroke-opacity="0.22" stroke-width="2"/><path d="M379 193.4 Q381.8 198 378.8 202.3L374.1 209.1 Q371.1 213.4 366.2 212.9L358.5 212.2 Q353.6 211.7 351.2 208.1L347.4 202.3 Q345 198.6 347.4 193.7L351.3 185.9 Q353.8 181 358.9 181.1L366.9 181.2 Q372 181.3 374.8 186Z" fill="none" stroke="#fff" stroke-opacity="0.22" stroke-width="2"/><path d="M378.6 214.9 Q374.4 213.5 374.1 209.1L373.5 202 Q373.2 197.6 376.4 194.7L381.5 190.1 Q384.8 187.2 389 188.6L395.7 190.9 Q400 192.3 400.9 196.7L402.5 203.7 Q403.4 208.1 399.6 210.9L393.5 215.5 Q389.6 218.4 385.3 217Z" fill="none" stroke="#fff" stroke-opacity="0.22" stroke-width="2"/><path d="M497.3 164.6 Q499.4 168.7 497.2 172L493.6 177.3 Q491.4 180.7 486.5 180.5L478.9 180.2 Q474.1 180 472.1 176L469.1 169.6 Q467.1 165.5 469.2 162.3L472.5 157.3 Q474.5 154.1 479.4 154.1L486.9 154.1 Q491.8 154.2 493.9 158.2Z" fill="none" stroke="#fff" stroke-opacity="0.22" stroke-width="2"/><path d="M467.9 206.8 Q464.8 206.9 463 203.8L460.1 198.9 Q458.3 195.8 460.3 192.9L463.3 188.2 Q465.2 185.2 468.5 185.2L473.6 185.2 Q476.9 185.2 478.6 188.6L481.3 194 Q483 197.4 481 199.9L478 203.9 Q476.1 206.4 472.9 206.6Z" fill="none" stroke="#fff" stroke-opacity="0.22" stroke-width="2"/><path d="M503.8 187.4 Q504.7 190.7 502.3 192.9L498.5 196.4 Q496 198.7 492.8 198.1L487.7 197.2 Q484.4 196.6 483.5 193.1L482 187.6 Q481.1 184.1 483.2 181.8L486.5 178.3 Q488.5 176 492.1 176.8L497.8 178 Q501.4 178.8 502.3 182.1Z" fill="none" stroke="#fff" stroke-opacity="0.22" stroke-width="2"/><path d="M506.3 195.1 Q501.6 195 500 191L497.5 184.6 Q495.9 180.6 497.8 177.7L500.7 173 Q502.5 170.1 507 170L513.9 169.8 Q518.3 169.7 520.3 173.7L523.5 180.1 Q525.6 184.1 523.6 187.3L520.4 192.2 Q518.4 195.3 513.7 195.2Z" fill="none" stroke="#fff" stroke-opacity="0.22" stroke-width="2"/><path d="M496.6 160 Q494.1 158.7 493.9 156.1L493.6 152.1 Q493.4 149.6 496 147.9L500.1 145.3 Q502.7 143.6 505.1 145.1L508.9 147.4 Q511.3 148.9 511.6 151.3L511.9 155 Q512.1 157.3 509.5 159L505.5 161.7 Q502.9 163.3 500.4 162Z" fill="none" stroke="#fff" stroke-opacity="0.22" stroke-width="2"/><path d="M587.2 198.8 Q578.5 196.1 576.7 188.9L573.8 177.6 Q571.9 170.3 577.7 165.2L586.6 157.1 Q592.3 151.9 599.8 153.3L611.6 155.5 Q619.1 156.9 621.1 165.4L624.3 178.8 Q626.3 187.3 621.6 192.5L614.2 200.7 Q609.4 205.9 600.8 203.1Z" fill="none" stroke="#fff" stroke-opacity="0.22" stroke-width="2"/><path d="M574.5 205 Q569.2 203.3 567.8 196.5L565.6 185.8 Q564.2 179 568.9 175.5L576.3 170.1 Q580.9 166.6 586.6 168.8L595.5 172.2 Q601.2 174.4 602.4 179.8L604.2 188.3 Q605.4 193.6 600.6 198L593 204.9 Q588.3 209.3 582.9 207.6Z" fill="none" stroke="#fff" stroke-opacity="0.22" stroke-width="2"/><path d="M627.1 188.3 Q622.8 189.8 619.5 186.9L614.3 182.2 Q610.9 179.3 611.9 174.1L613.5 166 Q614.5 160.8 618.3 159.5L624.2 157.4 Q628 156 631.9 159.6L637.9 165.3 Q641.7 168.8 640.7 173.2L639.2 180.1 Q638.2 184.4 633.9 185.9Z" fill="none" stroke="#fff" stroke-opacity="0.22" stroke-width="2"/><path d="M654 182.9 Q650.1 184.6 645.2 181.7L637.5 177.2 Q632.6 174.4 633.2 169.8L634.2 162.7 Q634.8 158.2 639 155.9L645.6 152.2 Q649.7 149.9 654.2 152.6L661.3 156.8 Q665.7 159.5 665.3 164.9L664.5 173.3 Q664 178.7 660.1 180.3Z" fill="none" stroke="#fff" stroke-opacity="0.22" stroke-width="2"/><path d="M498.5 193.7 Q495.6 189.6 497.5 184.3L500.4 175.9 Q502.3 170.6 507.8 169.6L516.5 168.1 Q522 167.1 526.3 171.9L533 179.3 Q537.3 184 535 189.6L531.2 198.4 Q528.8 204 522.4 204L512.4 204.1 Q506 204.2 503 200.1Z" fill="none" stroke="#fff" stroke-opacity="0.22" stroke-width="2"/><path d="M540.9 244.7 Q533.7 246.1 528.8 240.5L521.1 231.6 Q516.2 226 518.3 219.9L521.6 210.2 Q523.6 204 531.1 202.7L542.9 200.8 Q550.4 199.5 554.4 204.5L560.7 212.2 Q564.7 217.1 563.3 223.9L560.9 234.4 Q559.4 241.1 552.2 242.5Z" fill="none" stroke="#fff" stroke-opacity="0.22" stroke-width="2"/><path d="M525.1 244.1 Q523.1 240.1 525 235.9L527.9 229.2 Q529.8 225 535.1 224.7L543.5 224.3 Q548.8 224 550.7 228.3L553.5 235.1 Q555.4 239.5 553.1 243.6L549.6 250 Q547.4 254.1 542.6 254.1L535.1 254.1 Q530.3 254.2 528.2 250.2Z" fill="none" stroke="#fff" stroke-opacity="0.22" stroke-width="2"/><path d="M613.2 228.7 Q616.2 234.9 611.1 240.7L603.1 250 Q598 255.9 592.1 254.6L582.8 252.7 Q576.9 251.4 574.8 244.6L571.4 233.9 Q569.3 227.1 573.1 222.5L579.1 215.2 Q582.9 210.6 589.3 211.2L599.3 212.2 Q605.7 212.9 608.6 219Z" fill="none" stroke="#fff" stroke-opacity="0.22" stroke-width="2"/><path d="M590.8 220.8 Q590.4 224.6 586.6 226.8L580.5 230.2 Q576.7 232.4 573.2 230.2L567.6 226.8 Q564.1 224.6 563.7 220.8L563.2 214.8 Q562.8 211 566.6 208.5L572.7 204.4 Q576.5 201.8 580.8 204.4L587.4 208.4 Q591.7 211 591.3 214.8Z" fill="none" stroke="#fff" stroke-opacity="0.22" stroke-width="2"/><path d="M655.4 238.8 Q656.1 245.2 650.6 249.2L641.9 255.5 Q636.4 259.5 631.1 256.5L622.9 251.6 Q617.6 248.6 616.9 242.5L615.7 233 Q615 227 620.4 223.2L628.9 217.2 Q634.4 213.4 639.7 215.9L648.1 219.9 Q653.5 222.4 654.2 228.8Z" fill="none" stroke="#fff" stroke-opacity="0.22" stroke-width="2"/><path d="M665.5 208.9 Q667.1 213.3 664.7 216.4L660.9 221.3 Q658.5 224.4 654.1 223.8L647.2 222.7 Q642.8 222 641.3 218.1L638.8 212.1 Q637.2 208.3 640.2 204.7L645 199 Q648 195.4 651.7 196L657.5 197 Q661.2 197.6 662.9 202Z" fill="none" stroke="#fff" stroke-opacity="0.22" stroke-width="2"/><path d="M677.1 205.7 Q674.9 209.8 670.7 209.6L664.1 209.3 Q660 209.1 657.8 205.5L654.5 199.9 Q652.3 196.3 654.2 193L657 187.8 Q658.9 184.4 663.2 184.1L669.9 183.6 Q674.2 183.2 676.6 186.6L680.5 191.8 Q682.9 195.2 680.7 199.3Z" fill="none" stroke="#fff" stroke-opacity="0.22" stroke-width="2"/><path d="M651.5 263.1 Q648.8 258.4 651.2 254.8L654.9 249 Q657.3 245.3 662.9 245.2L671.8 245.1 Q677.4 245.1 679.8 249.3L683.5 255.9 Q685.9 260.1 683 264.4L678.5 271.2 Q675.6 275.5 670.8 275.4L663.2 275.2 Q658.3 275.1 655.7 270.5Z" fill="none" stroke="#fff" stroke-opacity="0.22" stroke-width="2"/><path d="M644.3 267.9 Q644.7 271.7 640.9 274.4L634.8 278.5 Q631 281.2 627 279.7L620.8 277.2 Q616.8 275.7 616.4 271.5L615.8 264.8 Q615.5 260.6 618.8 258.1L624.1 254.2 Q627.5 251.7 631.9 253.5L638.8 256.4 Q643.1 258.2 643.6 262Z" fill="none" stroke="#fff" stroke-opacity="0.22" stroke-width="2"/><path d="M654.8 283.8 Q654.7 287.1 651.4 288.9L646.2 291.7 Q642.8 293.4 640.2 291.5L636 288.4 Q633.4 286.5 633.5 282.8L633.8 276.9 Q634 273.2 637.4 271.8L642.8 269.7 Q646.3 268.3 648.7 270.2L652.5 273.3 Q655 275.2 654.9 278.5Z" fill="none" stroke="#fff" stroke-opacity="0.22" stroke-width="2"/><path d="M534.6 290.9 Q529.5 289.8 527.7 285.2L524.8 278 Q523 273.4 526.4 269L531.9 262.1 Q535.3 257.8 540.8 259.2L549.5 261.4 Q555 262.9 556.6 267L559.2 273.6 Q560.8 277.7 557.2 282.2L551.4 289.2 Q547.8 293.7 542.7 292.6Z" fill="none" stroke="#fff" stroke-opacity="0.22" stroke-width="2"/><path d="M529.2 298.8 Q528 303.6 523.2 304.6L515.7 306.1 Q510.9 307.1 507.5 303.8L502.2 298.7 Q498.9 295.4 500 291.1L501.8 284.3 Q502.9 280 507.9 278.6L515.6 276.5 Q520.6 275.2 523.8 278.4L528.9 283.3 Q532.1 286.5 531 291.3Z" fill="none" stroke="#fff" stroke-opacity="0.22" stroke-width="2"/><path d="M534.2 328.2 Q528.8 325 528.8 319.3L528.8 310.4 Q528.8 304.7 533.9 301.9L541.9 297.5 Q546.9 294.8 552.4 297.4L561 301.7 Q566.4 304.4 566.3 310L566 318.9 Q565.9 324.6 560.9 327.9L553 333 Q548 336.2 542.6 333.1Z" fill="none" stroke="#fff" stroke-opacity="0.22" stroke-width="2"/><path d="M583.4 315.2 Q585.7 320.2 583.4 323.4L579.8 328.5 Q577.5 331.7 572.7 332L565.2 332.4 Q560.4 332.6 558.4 328.5L555.2 322.1 Q553.1 318.1 555.8 313.7L560 306.9 Q562.7 302.6 566.9 302.6L573.4 302.5 Q577.5 302.5 579.8 307.5Z" fill="none" stroke="#fff" stroke-opacity="0.22" stroke-width="2"/><path d="M621.3 347.1 Q616.1 349 612.3 345.8L606.5 340.8 Q602.8 337.6 604.4 332.1L606.9 323.6 Q608.5 318.1 612.7 316.6L619.4 314.2 Q623.6 312.7 627.6 316.4L633.9 322.1 Q637.8 325.8 636.9 330.4L635.5 337.7 Q634.6 342.4 629.4 344.2Z" fill="none" stroke="#fff" stroke-opacity="0.22" stroke-width="2"/><path d="M695 315.1 Q695.3 319.3 692 321.6L686.8 325.3 Q683.5 327.6 679.3 325.6L672.7 322.4 Q668.5 320.4 668.1 316L667.4 309.2 Q666.9 304.8 670.4 302.7L675.8 299.4 Q679.2 297.3 683.4 299.3L690 302.4 Q694.1 304.4 694.5 308.6Z" fill="none" stroke="#fff" stroke-opacity="0.22" stroke-width="2"/><path d="M665.2 345.5 Q663 348.1 660 347.2L655.4 345.9 Q652.5 345.1 651.3 342L649.4 337.1 Q648.1 334.1 650.7 331.2L654.6 326.7 Q657.1 323.9 660.5 324.8L665.7 326.4 Q669 327.3 669.6 330.6L670.5 335.8 Q671.2 339 668.9 341.6Z" fill="none" stroke="#fff" stroke-opacity="0.22" stroke-width="2"/><path d="M387.5 40 Q381.2 38.3 379.6 32.4L377.1 23.1 Q375.5 17.2 379.8 12.8L386.7 6 Q391 1.7 396.3 2.9L404.5 4.8 Q409.8 6.1 411.5 12.6L414.2 23 Q415.9 29.5 412.5 33.7L407.1 40.3 Q403.7 44.4 397.4 42.7Z" fill="#000" fill-opacity="0.162" stroke="#000" stroke-opacity="0.257" stroke-width="1.1"/><path d="M423.1 42.3 Q423.2 46 420.4 47.5L415.9 49.7 Q413.1 51.1 410.2 49.7L405.8 47.5 Q402.9 46.1 403 43L403 37.9 Q403 34.8 405.9 32.9L410.4 29.9 Q413.2 28 415.9 29.4L420.1 31.5 Q422.7 32.8 422.9 36.5Z" fill="#000" fill-opacity="0.162" stroke="#000" stroke-opacity="0.257" stroke-width="1.1"/><path d="M403 62 Q402.9 67.6 398.2 69.6L390.9 72.8 Q386.3 74.8 382.2 72.2L375.8 68 Q371.8 65.3 371.6 60.5L371.3 52.8 Q371.2 48 375.5 45.2L382.2 40.8 Q386.5 38.1 391.3 40.8L398.7 45 Q403.4 47.7 403.2 53.3Z" fill="#000" fill-opacity="0.162" stroke="#000" stroke-opacity="0.257" stroke-width="1.1"/><path d="M420.4 69.2 Q416.8 67 417.6 62L419 54.2 Q419.9 49.2 424.2 47.8L431.1 45.6 Q435.5 44.1 438.9 47.2L444.4 52.1 Q447.8 55.2 447.1 59.3L446 65.6 Q445.3 69.7 441 71.2L434.2 73.6 Q429.9 75.1 426.2 72.8Z" fill="#000" fill-opacity="0.180" stroke="#000" stroke-opacity="0.268" stroke-width="1.1"/><path d="M421.1 16 Q417.5 15.4 416.3 11.8L414.3 6.1 Q413 2.5 415.9 -0.4L420.6 -5 Q423.5 -7.8 426.7 -6.7L431.8 -5 Q435 -3.9 435.9 -0.9L437.3 3.8 Q438.1 6.7 436 9.7L432.6 14.4 Q430.4 17.3 426.8 16.8Z" fill="#000" fill-opacity="0.162" stroke="#000" stroke-opacity="0.257" stroke-width="1.1"/><path d="M446.8 9 Q445.1 10.7 443 10L439.9 8.9 Q437.9 8.2 437.4 5.9L436.5 2.2 Q436 -0.1 437.4 -1.5L439.5 -3.7 Q440.8 -5.1 443.1 -4.6L446.6 -3.8 Q448.8 -3.3 449.5 -1.1L450.5 2.4 Q451.2 4.6 449.5 6.3Z" fill="#000" fill-opacity="0.270" stroke="#000" stroke-opacity="0.322" stroke-width="1.1"/><path d="M463.5 33.4 Q458.6 34.7 454.6 30.5L448.3 23.9 Q444.3 19.7 446.1 14.1L449 5.3 Q450.8 -0.3 455.4 -1.3L462.5 -2.9 Q467.1 -4 471.7 0.1L478.9 6.4 Q483.4 10.4 481.4 15.9L478.1 24.5 Q476.1 30 471.2 31.3Z" fill="#000" fill-opacity="0.162" stroke="#000" stroke-opacity="0.257" stroke-width="1.1"/><path d="M472.5 33.2 Q471.7 37.3 467.3 38.3L460.4 40 Q456.1 41 453.3 38L449 33.1 Q446.3 30 447.7 25.9L450 19.5 Q451.5 15.4 455.1 14.6L460.8 13.3 Q464.5 12.5 467.3 15.4L471.8 19.9 Q474.6 22.8 473.8 26.9Z" fill="#000" fill-opacity="0.216" stroke="#000" stroke-opacity="0.290" stroke-width="1.1"/><path d="M475 46.8 Q472.5 49.2 468.7 48.3L462.7 46.9 Q458.9 46 457.7 42.6L455.7 37.3 Q454.5 33.9 457 31.4L460.9 27.5 Q463.4 25.1 467.4 25.8L473.5 26.9 Q477.5 27.6 478.6 31.3L480.3 37 Q481.5 40.7 478.9 43.1Z" fill="#000" fill-opacity="0.180" stroke="#000" stroke-opacity="0.268" stroke-width="1.1"/><path d="M479.6 54.8 Q479.5 57.8 476.8 59.6L472.7 62.6 Q470.1 64.4 466.8 62.4L461.6 59.3 Q458.3 57.3 458.3 54.3L458.3 49.7 Q458.2 46.8 461.6 44.9L466.8 42.1 Q470.2 40.3 472.9 42.2L477.2 45.1 Q479.9 47 479.8 50Z" fill="#000" fill-opacity="0.162" stroke="#000" stroke-opacity="0.257" stroke-width="1.1"/><path d="M469.3 71.2 Q468.6 74.7 465.3 76.2L460.2 78.6 Q456.9 80.1 453.5 77.5L448.3 73.5 Q445 70.9 445.9 67.1L447.4 61.2 Q448.4 57.4 451.6 56.3L456.7 54.7 Q460 53.7 463.1 56.1L467.9 59.9 Q471 62.3 470.4 65.7Z" fill="#000" fill-opacity="0.162" stroke="#000" stroke-opacity="0.257" stroke-width="1.1"/><path d="M373.1 111.1 Q368.2 113.7 362.9 109.6L354.5 103.2 Q349.1 99.1 350.1 93.5L351.7 84.6 Q352.7 79 357.4 76.7L364.7 73.1 Q369.3 70.8 375 74.2L383.9 79.6 Q389.6 83 388.5 89L386.8 98.5 Q385.8 104.6 380.8 107.1Z" fill="#000" fill-opacity="0.162" stroke="#000" stroke-opacity="0.257" stroke-width="1.1"/><path d="M395.7 100.4 Q391.9 97.1 392.7 91L394.1 81.5 Q394.9 75.4 400.2 73.7L408.4 71 Q413.6 69.2 417.9 73.3L424.7 79.7 Q429 83.8 427.9 89.2L426.1 97.7 Q424.9 103.1 419.5 104.7L410.9 107.2 Q405.5 108.8 401.7 105.5Z" fill="#000" fill-opacity="0.144" stroke="#000" stroke-opacity="0.246" stroke-width="1.1"/><path d="M457.3 124.4 Q450.9 123.4 448.7 117.9L445.1 109.3 Q442.8 103.8 446.5 98.6L452.2 90.4 Q455.8 85.2 462.2 86.3L472.1 88.2 Q478.4 89.3 481.4 94.9L486.1 103.6 Q489.1 109.1 484.8 114.2L477.9 122 Q473.6 127.1 467.2 126Z" fill="#000" fill-opacity="0.162" stroke="#000" stroke-opacity="0.257" stroke-width="1.1"/><path d="M501.4 107.3 Q502.5 109.2 500.9 111.7L498.3 115.5 Q496.7 118 494.1 117.5L490 116.8 Q487.4 116.3 486.3 114L484.7 110.5 Q483.7 108.2 485.3 105.9L487.8 102.4 Q489.4 100.2 492 100.8L496 101.7 Q498.6 102.3 499.7 104.2Z" fill="#000" fill-opacity="0.144" stroke="#000" stroke-opacity="0.246" stroke-width="1.1"/><path d="M497 81.8 Q494.7 80.1 495.1 77.9L495.8 74.3 Q496.2 72.1 498.5 70.9L502 69.1 Q504.3 67.9 506.8 69.5L510.6 72 Q513.1 73.6 512.7 76.2L512.1 80.3 Q511.7 82.8 509.2 83.7L505.3 85.1 Q502.8 86 500.5 84.4Z" fill="#000" fill-opacity="0.126" stroke="#000" stroke-opacity="0.236" stroke-width="1.1"/><path d="M398.5 119.8 Q399.6 123.8 396.5 126.7L391.8 131.3 Q388.7 134.2 384.8 133L378.6 131 Q374.7 129.8 373.6 126.1L372 120.3 Q371 116.5 374.2 113.6L379.3 109 Q382.5 106 386.3 107L392.2 108.6 Q395.9 109.6 397 113.6Z" fill="#000" fill-opacity="0.162" stroke="#000" stroke-opacity="0.257" stroke-width="1.1"/><path d="M357.6 146.9 Q354 148.8 351 147L346.2 144.1 Q343.2 142.3 342.9 137.9L342.4 130.9 Q342.1 126.5 345.7 124.4L351.3 121.1 Q354.9 119 358.5 121.3L364.1 124.8 Q367.7 127.1 367.4 131.3L367 137.9 Q366.8 142 363.2 143.9Z" fill="#000" fill-opacity="0.198" stroke="#000" stroke-opacity="0.279" stroke-width="1.1"/><path d="M435.4 149 Q432 147.2 431.3 143.2L430.2 136.9 Q429.5 132.8 433.6 130.7L440 127.2 Q444 125.1 447.3 126.8L452.4 129.4 Q455.7 131.1 455.6 135.4L455.5 142.1 Q455.5 146.3 452.3 148.3L447.2 151.5 Q443.9 153.4 440.6 151.7Z" fill="#000" fill-opacity="0.162" stroke="#000" stroke-opacity="0.257" stroke-width="1.1"/><path d="M440 141.6 Q437.8 140.3 437.8 137.7L437.9 133.5 Q437.9 130.8 440.2 129.4L444 127.1 Q446.3 125.6 448.4 126.7L451.7 128.5 Q453.8 129.6 454.1 132.2L454.5 136.4 Q454.8 139.1 452.2 140.6L448.2 143.1 Q445.7 144.7 443.5 143.5Z" fill="#000" fill-opacity="0.198" stroke="#000" stroke-opacity="0.279" stroke-width="1.1"/><path d="M476.4 150.5 Q471.8 151.1 468.5 147.4L463.5 141.5 Q460.2 137.8 461.9 133.3L464.4 126.3 Q466.1 121.8 470.8 121.1L478.3 119.9 Q483.1 119.2 486.6 122.8L492.2 128.5 Q495.7 132.2 493.6 136.8L490.4 144.2 Q488.3 148.8 483.6 149.5Z" fill="#000" fill-opacity="0.180" stroke="#000" stroke-opacity="0.268" stroke-width="1.1"/><path d="M491.1 156.8 Q489.2 155.2 489.6 152.4L490.1 148.1 Q490.4 145.3 493 144.4L497.1 143 Q499.8 142.1 501.6 143.7L504.5 146.2 Q506.3 147.8 506.2 150.4L505.9 154.4 Q505.7 157 503 158.1L498.7 159.8 Q496 160.8 494.1 159.3Z" fill="#000" fill-opacity="0.234" stroke="#000" stroke-opacity="0.300" stroke-width="1.1"/><path d="M398 157.9 Q398.1 162.1 394 164.1L387.5 167.3 Q383.3 169.4 379.3 167.4L373.1 164.2 Q369.1 162.2 369.3 157.8L369.6 150.9 Q369.8 146.5 373.5 144L379.4 139.9 Q383.2 137.3 387.3 140L393.7 144.3 Q397.8 147.1 397.9 151.3Z" fill="#000" fill-opacity="0.162" stroke="#000" stroke-opacity="0.257" stroke-width="1.1"/><path d="M435.2 162.8 Q435.5 165.8 432.9 167.5L428.8 170.1 Q426.2 171.7 423.7 170.4L419.7 168.4 Q417.2 167.1 417.1 163.8L416.8 158.5 Q416.7 155.2 418.9 153.8L422.4 151.5 Q424.6 150.1 427.4 151.4L431.7 153.6 Q434.5 155 434.8 158Z" fill="#000" fill-opacity="0.144" stroke="#000" stroke-opacity="0.246" stroke-width="1.1"/><path d="M495.8 141.6 Q494.2 138.9 495.7 136.5L498 132.7 Q499.5 130.3 502.5 130.2L507.3 130 Q510.3 129.9 511.9 132.1L514.3 135.6 Q515.9 137.8 514.8 140.5L513 144.7 Q511.9 147.4 508.5 147.7L503.1 148.2 Q499.7 148.5 498.2 145.8Z" fill="#000" fill-opacity="0.144" stroke="#000" stroke-opacity="0.246" stroke-width="1.1"/><path d="M348.3 39.2 Q346.3 40.4 344.4 39.4L341.6 37.9 Q339.7 36.9 339.6 34.5L339.4 30.7 Q339.2 28.3 341.5 27.2L344.9 25.4 Q347.2 24.3 349 25.4L351.9 27.2 Q353.8 28.3 353.7 30.5L353.5 33.9 Q353.4 36.1 351.4 37.3Z" fill="#000" fill-opacity="0.144" stroke="#000" stroke-opacity="0.246" stroke-width="1.1"/><path d="M542 25.8 Q534.5 24.2 532.4 17.6L529.2 7.2 Q527.2 0.5 532 -4.7L539.7 -12.8 Q544.5 -18 551.1 -16.5L561.3 -14.3 Q567.8 -12.8 570 -6.2L573.5 4.1 Q575.7 10.7 571.7 16.1L565.4 24.5 Q561.4 29.9 553.9 28.3Z" fill="#000" fill-opacity="0.144" stroke="#000" stroke-opacity="0.246" stroke-width="1.1"/><path d="M605.5 26 Q602.1 25.3 600.8 22.2L598.8 17.3 Q597.5 14.1 599.8 11.3L603.4 6.8 Q605.7 4 609.4 4.4L615.1 5.2 Q618.7 5.7 619.9 8.8L621.8 13.7 Q623 16.9 620.5 19.9L616.6 24.7 Q614.1 27.8 610.7 27.1Z" fill="#000" fill-opacity="0.144" stroke="#000" stroke-opacity="0.246" stroke-width="1.1"/><path d="M610.6 78.7 Q606.6 80.6 603.2 78.6L597.9 75.5 Q594.6 73.6 594.3 69L593.8 61.8 Q593.5 57.2 597.3 55.4L603.3 52.5 Q607.1 50.7 611 52.6L617.1 55.7 Q621 57.6 621 62.1L621 69.2 Q621 73.7 616.9 75.6Z" fill="#000" fill-opacity="0.072" stroke="#000" stroke-opacity="0.203" stroke-width="1.1"/><path d="M506.1 83.1 Q503.7 83.3 502.4 81.6L500.4 78.8 Q499.2 77.1 500.1 75L501.6 71.8 Q502.5 69.7 504.9 69.4L508.6 68.9 Q511 68.6 512.4 70.3L514.6 73.1 Q516 74.8 514.9 77L513.3 80.3 Q512.2 82.4 509.8 82.7Z" fill="#000" fill-opacity="0.126" stroke="#000" stroke-opacity="0.236" stroke-width="1.1"/><path d="M570.3 114.9 Q568.4 120.2 562.7 121.6L553.9 123.7 Q548.2 125.1 544.3 120.4L538.1 112.9 Q534.2 108.1 536 103.1L538.9 95.1 Q540.7 90 547 88.5L557 86.1 Q563.3 84.5 566.6 89.3L571.9 96.7 Q575.2 101.4 573.3 106.7Z" fill="#000" fill-opacity="0.162" stroke="#000" stroke-opacity="0.257" stroke-width="1.1"/><path d="M559.8 120.6 Q555.2 118.4 554.2 113.6L552.6 106.1 Q551.7 101.2 556.4 97.8L563.9 92.5 Q568.7 89.1 573.1 91.3L580 94.7 Q584.3 96.8 585.2 101.8L586.5 109.6 Q587.3 114.6 583 117.9L576.1 122.9 Q571.8 126.2 567.1 124Z" fill="#000" fill-opacity="0.198" stroke="#000" stroke-opacity="0.279" stroke-width="1.1"/><path d="M569.2 146.4 Q564.9 144.2 564.8 140.2L564.5 133.9 Q564.3 129.9 567.8 127.3L573.2 123.2 Q576.6 120.5 580.9 122.5L587.7 125.5 Q592 127.5 592.2 131.8L592.5 138.7 Q592.7 143.1 589.1 145.6L583.6 149.6 Q580.1 152.1 575.8 149.9Z" fill="#000" fill-opacity="0.234" stroke="#000" stroke-opacity="0.300" stroke-width="1.1"/><path d="M561.3 147.5 Q561 151.9 556.3 154.5L548.8 158.5 Q544.1 161.1 539.7 158.6L532.8 154.6 Q528.3 152 528.5 146.7L528.6 138.4 Q528.7 133.2 533.6 130.9L541.2 127.4 Q546.1 125.2 550.5 128.3L557.6 133.1 Q562.1 136.2 561.8 140.6Z" fill="#000" fill-opacity="0.162" stroke="#000" stroke-opacity="0.257" stroke-width="1.1"/><path d="M524.2 142.8 Q525.8 146.4 523.1 148.8L519 152.6 Q516.4 155 512.9 154.3L507.4 153.2 Q503.9 152.5 503.1 149.6L501.7 145.1 Q500.8 142.2 503.3 139L507.2 133.9 Q509.6 130.7 512.6 131.5L517.3 132.7 Q520.3 133.5 521.9 137.1Z" fill="#000" fill-opacity="0.162" stroke="#000" stroke-opacity="0.257" stroke-width="1.1"/><path d="M615.2 138.4 Q615.5 142.2 612.2 144.4L607 147.9 Q603.6 150.1 599.7 148.3L593.6 145.5 Q589.6 143.8 589.4 140.2L588.9 134.7 Q588.7 131.2 592.2 128.6L597.9 124.7 Q601.4 122.2 605.1 124L610.9 126.9 Q614.5 128.8 614.8 132.5Z" fill="#000" fill-opacity="0.162" stroke="#000" stroke-opacity="0.257" stroke-width="1.1"/><path d="M594.5 178 Q588 175.3 587.3 169.2L586.2 159.7 Q585.4 153.6 590.7 149.9L598.9 144.1 Q604.1 140.5 610 143.2L619.3 147.5 Q625.2 150.2 625.7 155.8L626.5 164.6 Q627.1 170.1 622.6 174.3L615.5 180.9 Q611 185 604.6 182.3Z" fill="#000" fill-opacity="0.216" stroke="#000" stroke-opacity="0.290" stroke-width="1.1"/><path d="M653.9 156.3 Q654.9 160 652.5 163L648.7 167.8 Q646.3 170.8 642.3 170.2L636 169.2 Q632.1 168.6 630.7 165.2L628.5 159.8 Q627.1 156.4 629.8 153L634.1 147.7 Q636.8 144.3 640.9 145L647.3 146.2 Q651.4 146.9 652.4 150.6Z" fill="#000" fill-opacity="0.162" stroke="#000" stroke-opacity="0.257" stroke-width="1.1"/><path d="M680.5 148.9 Q678.5 151.5 675.1 151.2L669.7 150.6 Q666.2 150.2 664.8 146.6L662.6 141 Q661.2 137.4 663.2 134.5L666.5 130.1 Q668.5 127.2 672.2 128L678 129.3 Q681.7 130.1 682.8 133.4L684.5 138.8 Q685.6 142.2 683.6 144.8Z" fill="#000" fill-opacity="0.162" stroke="#000" stroke-opacity="0.257" stroke-width="1.1"/><path d="M667.8 168.9 Q665 170.6 662.4 169.3L658.4 167.1 Q655.9 165.8 655.7 162.9L655.4 158.4 Q655.2 155.5 657.8 153.8L661.9 151.2 Q664.5 149.6 667.3 150.9L671.8 153 Q674.7 154.3 674.8 157.2L675 161.8 Q675.1 164.7 672.3 166.3Z" fill="#000" fill-opacity="0.144" stroke="#000" stroke-opacity="0.246" stroke-width="1.1"/><path d="M525.5 182.2 Q523.4 184.3 520.5 183.5L516 182.2 Q513.1 181.5 512.3 178.4L511.1 173.7 Q510.4 170.6 512.4 168.5L515.7 165.2 Q517.7 163 521 164L526.1 165.6 Q529.4 166.6 529.8 169.5L530.4 174 Q530.8 176.9 528.7 179Z" fill="#000" fill-opacity="0.144" stroke="#000" stroke-opacity="0.246" stroke-width="1.1"/><path d="M643.8 147.9 Q642.7 150.8 639.4 151L634.3 151.4 Q631.1 151.6 629.5 149.4L627 145.8 Q625.5 143.5 627.1 140.4L629.6 135.5 Q631.2 132.4 633.8 132.3L637.8 132.2 Q640.4 132.1 642.1 134.4L645 138 Q646.7 140.3 645.6 143.3Z" fill="#000" fill-opacity="0.144" stroke="#000" stroke-opacity="0.246" stroke-width="1.1"/><path d="M369.8 175.1 Q366.7 171.9 367.9 167.8L369.9 161.2 Q371.2 157 375.2 156.3L381.6 155.1 Q385.6 154.4 388.4 157.5L392.9 162.3 Q395.8 165.3 394.6 169.3L392.6 175.5 Q391.4 179.5 387.6 180.6L381.7 182.2 Q378 183.2 374.8 180Z" fill="#000" fill-opacity="0.162" stroke="#000" stroke-opacity="0.257" stroke-width="1.1"/><path d="M448.1 196.2 Q442.6 200 437.3 197.9L429 194.4 Q423.8 192.2 422.3 185.1L420 173.8 Q418.5 166.6 424.1 163.1L432.8 157.5 Q438.4 154 444.8 156.7L454.7 161 Q461.1 163.7 461.4 170L461.8 180 Q462.1 186.4 456.7 190.2Z" fill="#000" fill-opacity="0.162" stroke="#000" stroke-opacity="0.257" stroke-width="1.1"/><path d="M462.5 191.9 Q459.9 196.8 454.4 197.6L445.6 198.9 Q440.1 199.7 437 194.5L432.1 186.4 Q429 181.2 431.3 176.8L434.9 169.7 Q437.2 165.3 442.3 164.2L450.2 162.6 Q455.3 161.5 459.1 166.5L465.2 174.3 Q469.1 179.3 466.5 184.2Z" fill="#000" fill-opacity="0.180" stroke="#000" stroke-opacity="0.268" stroke-width="1.1"/><path d="M415 200.9 Q412.3 203.7 407.9 202.5L400.9 200.5 Q396.5 199.3 396.2 194.8L395.7 187.8 Q395.3 183.3 398.3 181.2L402.9 177.9 Q405.9 175.8 409.8 177.3L415.9 179.5 Q419.7 180.9 420.4 184.5L421.3 190.1 Q421.9 193.6 419.2 196.5Z" fill="#000" fill-opacity="0.144" stroke="#000" stroke-opacity="0.246" stroke-width="1.1"/><path d="M378 193.6 Q380.5 198 377.7 202L373.4 208.3 Q370.6 212.3 366 211.8L358.9 211.1 Q354.3 210.7 352.1 207.3L348.5 201.9 Q346.3 198.5 348.6 193.9L352.2 186.7 Q354.5 182.1 359.3 182.2L366.7 182.3 Q371.5 182.4 374 186.8Z" fill="#000" fill-opacity="0.162" stroke="#000" stroke-opacity="0.257" stroke-width="1.1"/><path d="M379.4 213.9 Q375.5 212.7 375.1 208.6L374.7 202.1 Q374.3 198 377.3 195.4L382 191.2 Q385 188.5 388.9 189.8L395 191.9 Q398.9 193.2 399.8 197.3L401.2 203.6 Q402.1 207.7 398.6 210.3L393 214.5 Q389.4 217.1 385.5 215.9Z" fill="#000" fill-opacity="0.162" stroke="#000" stroke-opacity="0.257" stroke-width="1.1"/><path d="M496.1 164.8 Q498.1 168.6 496 171.6L492.8 176.5 Q490.7 179.6 486.2 179.4L479.2 179.2 Q474.8 179 473 175.3L470.2 169.4 Q468.4 165.7 470.3 162.7L473.3 158.1 Q475.2 155.2 479.7 155.2L486.6 155.2 Q491.1 155.2 493 159Z" fill="#000" fill-opacity="0.162" stroke="#000" stroke-opacity="0.257" stroke-width="1.1"/><path d="M468.2 205.6 Q465.4 205.7 463.8 203L461.3 198.6 Q459.6 195.8 461.4 193.2L464.1 189 Q465.8 186.3 468.7 186.3L473.3 186.3 Q476.2 186.3 477.8 189.4L480.1 194.2 Q481.6 197.2 479.9 199.5L477.2 203 Q475.5 205.3 472.7 205.4Z" fill="#000" fill-opacity="0.144" stroke="#000" stroke-opacity="0.246" stroke-width="1.1"/><path d="M502.6 187.3 Q503.5 190.3 501.3 192.3L497.9 195.4 Q495.7 197.4 492.8 196.9L488.2 196.1 Q485.3 195.6 484.5 192.5L483.2 187.6 Q482.3 184.4 484.2 182.4L487.1 179.2 Q489 177.2 492.2 177.9L497.3 179 Q500.5 179.7 501.3 182.7Z" fill="#000" fill-opacity="0.144" stroke="#000" stroke-opacity="0.246" stroke-width="1.1"/><path d="M506.7 193.9 Q502.4 193.9 500.9 190.2L498.6 184.4 Q497.2 180.7 498.9 178.1L501.5 173.9 Q503.2 171.2 507.3 171.1L513.6 170.9 Q517.6 170.8 519.4 174.5L522.4 180.3 Q524.2 184 522.4 186.8L519.5 191.3 Q517.7 194.1 513.4 194.1Z" fill="#000" fill-opacity="0.144" stroke="#000" stroke-opacity="0.246" stroke-width="1.1"/><path d="M497.4 159.1 Q495.2 158 495.1 155.8L494.8 152.3 Q494.6 150.1 496.9 148.7L500.5 146.4 Q502.7 144.9 504.8 146.2L508.1 148.3 Q510.2 149.6 510.4 151.6L510.7 154.8 Q510.9 156.9 508.6 158.3L505.1 160.6 Q502.9 162.1 500.7 160.9Z" fill="#000" fill-opacity="0.180" stroke="#000" stroke-opacity="0.268" stroke-width="1.1"/><path d="M587.7 197.9 Q579.5 195.3 577.7 188.4L575 177.6 Q573.2 170.7 578.7 165.8L587.2 158.1 Q592.7 153.1 599.8 154.5L611 156.6 Q618.2 157.9 620.1 166L623.2 178.8 Q625.1 186.9 620.6 191.8L613.5 199.6 Q609 204.6 600.7 202Z" fill="#000" fill-opacity="0.198" stroke="#000" stroke-opacity="0.279" stroke-width="1.1"/><path d="M575.2 204 Q570.1 202.4 568.8 196L566.8 185.9 Q565.5 179.5 569.9 176.2L576.8 171.1 Q581.2 167.9 586.5 169.9L594.9 173.2 Q600.2 175.2 601.3 180.3L603.1 188.2 Q604.1 193.3 599.6 197.4L592.6 203.9 Q588.1 208 583 206.4Z" fill="#000" fill-opacity="0.162" stroke="#000" stroke-opacity="0.257" stroke-width="1.1"/><path d="M627 187.1 Q623 188.5 620 185.8L615.2 181.5 Q612.1 178.8 613 174L614.5 166.5 Q615.4 161.7 618.9 160.5L624.4 158.6 Q627.9 157.4 631.4 160.7L637 165.9 Q640.5 169.2 639.6 173.2L638.1 179.5 Q637.2 183.6 633.3 184.9Z" fill="#000" fill-opacity="0.162" stroke="#000" stroke-opacity="0.257" stroke-width="1.1"/><path d="M653.6 181.8 Q650 183.3 645.5 180.7L638.4 176.5 Q633.8 173.9 634.4 169.7L635.3 163.1 Q635.9 158.9 639.8 156.8L645.8 153.4 Q649.7 151.2 653.9 153.7L660.4 157.6 Q664.5 160.1 664.1 165.1L663.4 172.9 Q662.9 177.9 659.3 179.4Z" fill="#000" fill-opacity="0.144" stroke="#000" stroke-opacity="0.246" stroke-width="1.1"/><path d="M499.5 193.2 Q496.8 189.4 498.6 184.4L501.4 176.6 Q503.1 171.6 508.3 170.7L516.4 169.2 Q521.6 168.3 525.6 172.8L532 179.7 Q536 184.2 533.8 189.4L530.2 197.6 Q528 202.9 522 202.9L512.6 203 Q506.5 203.1 503.8 199.2Z" fill="#000" fill-opacity="0.162" stroke="#000" stroke-opacity="0.257" stroke-width="1.1"/><path d="M540.9 243.6 Q534 244.9 529.4 239.6L522.1 231.2 Q517.5 225.9 519.5 220L522.5 210.8 Q524.5 205 531.6 203.8L542.8 201.9 Q549.9 200.7 553.7 205.4L559.7 212.8 Q563.5 217.5 562.1 223.8L559.9 233.8 Q558.5 240.2 551.6 241.5Z" fill="#000" fill-opacity="0.180" stroke="#000" stroke-opacity="0.268" stroke-width="1.1"/><path d="M526.2 243.7 Q524.3 240 526 236.1L528.8 230 Q530.5 226.1 535.4 225.8L543.2 225.4 Q548.1 225.2 549.8 229.1L552.4 235.4 Q554.1 239.4 552.1 243.2L548.8 249.1 Q546.8 252.9 542.3 252.9L535.4 253 Q530.9 253 529.1 249.4Z" fill="#000" fill-opacity="0.198" stroke="#000" stroke-opacity="0.279" stroke-width="1.1"/><path d="M612.1 228.9 Q614.8 234.7 610 240.3L602.5 249 Q597.6 254.6 592.1 253.4L583.3 251.6 Q577.7 250.4 575.7 244L572.5 233.8 Q570.5 227.4 574.1 223L579.8 216.2 Q583.4 211.8 589.4 212.4L598.9 213.3 Q604.9 213.9 607.7 219.7Z" fill="#000" fill-opacity="0.216" stroke="#000" stroke-opacity="0.290" stroke-width="1.1"/><path d="M589.6 220.5 Q589.3 224 585.8 226L580.3 229.1 Q576.7 231.1 573.5 229.1L568.4 226 Q565.2 224 564.9 220.5L564.4 215.1 Q564 211.6 567.5 209.2L573.1 205.5 Q576.6 203.2 580.5 205.5L586.6 209.2 Q590.5 211.5 590.1 215Z" fill="#000" fill-opacity="0.162" stroke="#000" stroke-opacity="0.257" stroke-width="1.1"/><path d="M654.3 238.7 Q655 244.7 649.8 248.5L641.6 254.4 Q636.4 258.2 631.4 255.3L623.7 250.7 Q618.7 247.8 618 242.2L616.9 233.2 Q616.2 227.5 621.3 223.9L629.4 218.3 Q634.5 214.7 639.5 217.1L647.4 220.8 Q652.5 223.2 653.2 229.2Z" fill="#000" fill-opacity="0.162" stroke="#000" stroke-opacity="0.257" stroke-width="1.1"/><path d="M664.3 209 Q665.9 213 663.7 215.9L660.2 220.4 Q658 223.2 654 222.6L647.6 221.6 Q643.6 220.9 642.2 217.4L639.9 211.9 Q638.5 208.4 641.2 205.1L645.6 199.9 Q648.3 196.6 651.7 197.2L657 198.1 Q660.4 198.6 662 202.6Z" fill="#000" fill-opacity="0.162" stroke="#000" stroke-opacity="0.257" stroke-width="1.1"/><path d="M676.3 205 Q674.3 208.7 670.5 208.5L664.5 208.3 Q660.6 208.1 658.7 204.8L655.6 199.6 Q653.6 196.4 655.3 193.3L658 188.5 Q659.7 185.5 663.6 185.2L669.7 184.7 Q673.6 184.4 675.9 187.4L679.4 192.2 Q681.7 195.3 679.6 199.1Z" fill="#000" fill-opacity="0.144" stroke="#000" stroke-opacity="0.246" stroke-width="1.1"/><path d="M652.6 262.9 Q650.2 258.5 652.4 255.1L655.8 249.7 Q658 246.3 663.3 246.3L671.5 246.2 Q676.8 246.1 679 250L682.4 256.2 Q684.6 260.1 681.9 264.1L677.7 270.4 Q675.1 274.4 670.6 274.3L663.5 274.1 Q659 274.1 656.5 269.7Z" fill="#000" fill-opacity="0.162" stroke="#000" stroke-opacity="0.257" stroke-width="1.1"/><path d="M643.1 267.8 Q643.5 271.2 639.9 273.7L634.4 277.5 Q630.9 280 627.2 278.5L621.5 276.3 Q617.9 274.9 617.6 271L617 265 Q616.7 261.1 619.8 258.8L624.6 255.2 Q627.7 253 631.7 254.6L638 257.2 Q642 258.9 642.4 262.3Z" fill="#000" fill-opacity="0.162" stroke="#000" stroke-opacity="0.257" stroke-width="1.1"/><path d="M653.7 283.5 Q653.7 286.4 650.7 288L646 290.6 Q643 292.2 640.6 290.4L636.9 287.7 Q634.5 285.9 634.7 282.6L634.9 277.3 Q635 274 638.1 272.8L643 270.8 Q646.1 269.6 648.3 271.3L651.7 274.1 Q653.9 275.8 653.8 278.8Z" fill="#000" fill-opacity="0.216" stroke="#000" stroke-opacity="0.290" stroke-width="1.1"/><path d="M535.2 289.8 Q530.4 288.8 528.7 284.5L526 277.8 Q524.3 273.5 527.5 269.5L532.6 263.1 Q535.8 259 540.9 260.3L549 262.4 Q554.1 263.8 555.6 267.6L558 273.7 Q559.5 277.6 556.1 281.7L550.8 288.2 Q547.4 292.4 542.6 291.4Z" fill="#000" fill-opacity="0.162" stroke="#000" stroke-opacity="0.257" stroke-width="1.1"/><path d="M528.1 298.3 Q527.1 302.7 522.6 303.6L515.7 305 Q511.2 305.9 508.1 302.9L503.2 298.1 Q500.1 295.1 501.2 291.1L502.8 284.8 Q503.9 280.8 508.4 279.6L515.6 277.7 Q520.2 276.4 523.2 279.4L527.9 284 Q530.8 286.9 529.8 291.3Z" fill="#000" fill-opacity="0.162" stroke="#000" stroke-opacity="0.257" stroke-width="1.1"/><path d="M535 327.4 Q529.9 324.4 529.9 319.1L529.9 310.7 Q529.9 305.4 534.7 302.7L542.2 298.6 Q547 296 552.1 298.5L560.1 302.5 Q565.2 305 565.1 310.3L564.9 318.7 Q564.7 324 560 327.1L552.6 331.9 Q547.9 334.9 542.9 332Z" fill="#000" fill-opacity="0.162" stroke="#000" stroke-opacity="0.257" stroke-width="1.1"/><path d="M582.3 315.4 Q584.4 320 582.3 323L579 327.7 Q576.9 330.6 572.5 330.9L565.5 331.2 Q561.1 331.5 559.2 327.7L556.3 321.8 Q554.4 318 556.9 314L560.7 307.7 Q563.2 303.7 567 303.7L573.1 303.7 Q576.9 303.7 579 308.2Z" fill="#000" fill-opacity="0.144" stroke="#000" stroke-opacity="0.246" stroke-width="1.1"/><path d="M621.2 346 Q616.4 347.7 612.9 344.7L607.5 340.1 Q604.1 337.1 605.5 332L607.9 324.1 Q609.3 319 613.3 317.6L619.5 315.4 Q623.4 314 627.1 317.4L632.9 322.7 Q636.6 326.1 635.8 330.4L634.5 337.2 Q633.7 341.5 628.8 343.3Z" fill="#000" fill-opacity="0.162" stroke="#000" stroke-opacity="0.257" stroke-width="1.1"/><path d="M693.8 314.9 Q694.1 318.7 691.1 320.8L686.3 324.2 Q683.3 326.4 679.5 324.5L673.4 321.6 Q669.6 319.7 669.2 315.7L668.5 309.4 Q668.1 305.4 671.3 303.5L676.2 300.5 Q679.4 298.6 683.2 300.4L689.2 303.2 Q693 305.1 693.3 308.9Z" fill="#000" fill-opacity="0.162" stroke="#000" stroke-opacity="0.257" stroke-width="1.1"/><path d="M664.7 344.5 Q662.6 346.8 660 346L655.9 344.9 Q653.3 344.1 652.2 341.4L650.5 337 Q649.4 334.3 651.7 331.7L655.2 327.7 Q657.4 325.2 660.4 326L665 327.4 Q668 328.3 668.6 331.2L669.4 335.8 Q670 338.7 667.9 341Z" fill="#000" fill-opacity="0.144" stroke="#000" stroke-opacity="0.246" stroke-width="1.1"/></g></g></g><rect x="284" y="0" width="56" height="127.4" fill="#e3e3e6"/><path d="M285.5 37 Q286 30 290.7 27.5 L290.7 12.5 L287 11.8 L287 3.6 Q287 2.4 289 2.4 L333.5 2.4 Q335.3 2.4 335.3 3.6 L335.3 11.8 L331.3 12.5 L331.3 27.5 Q337.3 30 337.8 37 L337.8 119.5 Q337.8 124.5 332 124.5 L291.3 124.5 Q285.5 124.5 285.5 119.5 Z" fill="#edefec" stroke="#c9cdc2" stroke-width="0.8"/><rect x="286.3" y="62" width="50.8" height="50" fill="url(#purp)"/><rect x="286.5" y="3" width="48" height="8.5" fill="#f2f3ef" opacity="0.7"/><line x1="286.3" y1="34.5" x2="337" y2="34.5" stroke="#d3d8c8" stroke-width="2.2"/><line x1="287" y1="12.3" x2="335" y2="12.3" stroke="#d6d9cf" stroke-width="1.2"/><line x1="286.3" y1="116" x2="337" y2="116" stroke="#e0e6cc" stroke-width="2"/><line x1="287.5" y1="121.5" x2="336" y2="121.5" stroke="#d3d9bf" stroke-width="1.6"/><line x1="286.4" y1="38" x2="286.4" y2="119" stroke="#d5d8d0" stroke-width="1.2"/><line x1="336.9" y1="38" x2="336.9" y2="119" stroke="#d5d8d0" stroke-width="1.2"/><rect x="624.7" y="0" width="60.3" height="128" fill="#e5e5e5"/><path d="M629.5 0 L672.5 0 L672.5 9 Q681.5 12 682.5 22 L682.5 118 Q682.5 125 676 125 L633 125 Q626.8 125 626.8 118 L626.8 22 Q627.5 12 629.5 9 Z" fill="#ebebe9" stroke="#cdcdc8" stroke-width="0.8"/><line x1="630" y1="9" x2="672" y2="9" stroke="#d8d8d2" stroke-width="1.5"/><path d="M627.3 22 Q640 25.5 654 25.8 Q668 25.5 681.9 21.5 L681.9 118 Q681.9 123.5 676 123.5 L633 123.5 Q627.3 123.5 627.3 118 Z" fill="url(#pink)"/><rect x="628" y="113" width="53" height="8" fill="#dba898" opacity="0.45"/><line x1="629" y1="122" x2="680" y2="122" stroke="#d8c9ae" stroke-width="1.3"/><rect x="0" y="217.4" width="164.5" height="122.6" fill="#fff"/><rect x="56.6" y="305" width="7.9" height="25.3" fill="url(#hat)" stroke="#74c9ef" stroke-width="0.7"/><rect x="64.5" y="313.5" width="8" height="16.8" fill="url(#hat)" stroke="#74c9ef" stroke-width="0.7"/><rect x="72.5" y="268.3" width="6.9" height="62" fill="url(#hat)" stroke="#74c9ef" stroke-width="0.7"/><rect x="79.4" y="258.4" width="7.9" height="71.9" fill="url(#hat)" stroke="#74c9ef" stroke-width="0.7"/><rect x="87.3" y="247.2" width="8.2" height="83.1" fill="url(#hat)" stroke="#74c9ef" stroke-width="0.7"/><rect x="95.5" y="276.3" width="8" height="54" fill="url(#hat)" stroke="#74c9ef" stroke-width="0.7"/><rect x="103.5" y="310" width="8.2" height="20.3" fill="url(#hat)" stroke="#74c9ef" stroke-width="0.7"/><rect x="111.7" y="313.5" width="8.2" height="16.8" fill="url(#hat)" stroke="#74c9ef" stroke-width="0.7"/><rect x="119.9" y="320.4" width="7.1" height="9.9" fill="url(#hat)" stroke="#74c9ef" stroke-width="0.7"/><rect x="127" y="322.9" width="7.7" height="7.4" fill="url(#hat)" stroke="#74c9ef" stroke-width="0.7"/><path d="M13 330.3 L13.5 330.3 L14 330.3 L14.5 330.3 L15 330.3 L15.5 330.3 L16 330.3 L16.5 330.3 L17 330.3 L17.5 330.3 L18 330.3 L18.5 330.3 L19 330.3 L19.5 330.3 L20 330.3 L20.5 330.3 L21 330.3 L21.5 330.3 L22 330.3 L22.5 330.3 L23 330.3 L23.5 330.3 L24 330.3 L24.5 330.3 L25 330.3 L25.5 330.3 L26 330.3 L26.5 330.3 L27 330.3 L27.5 330.3 L28 330.3 L28.5 330.3 L29 330.3 L29.5 330.3 L30 330.3 L30.5 330.3 L31 330.3 L31.5 330.3 L32 330.3 L32.5 330.3 L33 330.3 L33.5 330.3 L34 330.3 L34.5 330.3 L35 330.3 L35.5 330.3 L36 330.3 L36.5 330.3 L37 330.3 L37.5 330.3 L38 330.3 L38.5 330.3 L39 330.2 L39.5 330.2 L40 330.2 L40.5 330.2 L41 330.2 L41.5 330.2 L42 330.2 L42.5 330.1 L43 330.1 L43.5 330.1 L44 330.1 L44.5 330 L45 330 L45.5 330 L46 329.9 L46.5 329.9 L47 329.8 L47.5 329.7 L48 329.7 L48.5 329.6 L49 329.5 L49.5 329.4 L50 329.3 L50.5 329.1 L51 329 L51.5 328.8 L52 328.7 L52.5 328.5 L53 328.3 L53.5 328 L54 327.8 L54.5 327.5 L55 327.2 L55.5 326.9 L56 326.6 L56.5 326.2 L57 325.8 L57.5 325.3 L58 324.8 L58.5 324.3 L59 323.8 L59.5 323.2 L60 322.5 L60.5 321.8 L61 321.1 L61.5 320.3 L62 319.5 L62.5 318.6 L63 317.7 L63.5 316.7 L64 315.7 L64.5 314.6 L65 313.4 L65.5 312.2 L66 310.9 L66.5 309.6 L67 308.3 L67.5 306.8 L68 305.3 L68.5 303.8 L69 302.2 L69.5 300.6 L70 298.9 L70.5 297.2 L71 295.4 L71.5 293.6 L72 291.8 L72.5 289.9 L73 288 L73.5 286.1 L74 284.2 L74.5 282.3 L75 280.3 L75.5 278.4 L76 276.5 L76.5 274.6 L77 272.7 L77.5 270.8 L78 269 L78.5 267.2 L79 265.5 L79.5 263.8 L80 262.2 L80.5 260.6 L81 259.2 L81.5 257.8 L82 256.5 L82.5 255.2 L83 254.1 L83.5 253.1 L84 252.2 L84.5 251.4 L85 250.8 L85.5 250.2 L86 249.8 L86.5 249.5 L87 249.3 L87.5 249.2 L88 249.3 L88.5 249.5 L89 249.8 L89.5 250.2 L90 250.8 L90.5 251.4 L91 252.2 L91.5 253.1 L92 254.1 L92.5 255.2 L93 256.5 L93.5 257.8 L94 259.2 L94.5 260.6 L95 262.2 L95.5 263.8 L96 265.5 L96.5 267.2 L97 269 L97.5 270.8 L98 272.7 L98.5 274.6 L99 276.5 L99.5 278.4 L100 280.3 L100.5 282.3 L101 284.2 L101.5 286.1 L102 288 L102.5 289.9 L103 291.8 L103.5 293.6 L104 295.4 L104.5 297.2 L105 298.9 L105.5 300.6 L106 302.2 L106.5 303.8 L107 305.3 L107.5 306.8 L108 308.3 L108.5 309.6 L109 310.9 L109.5 312.2 L110 313.4 L110.5 314.6 L111 315.7 L111.5 316.7 L112 317.7 L112.5 318.6 L113 319.5 L113.5 320.3 L114 321.1 L114.5 321.8 L115 322.5 L115.5 323.2 L116 323.8 L116.5 324.3 L117 324.8 L117.5 325.3 L118 325.8 L118.5 326.2 L119 326.6 L119.5 326.9 L120 327.2 L120.5 327.5 L121 327.8 L121.5 328 L122 328.3 L122.5 328.5 L123 328.7 L123.5 328.8 L124 329 L124.5 329.1 L125 329.3 L125.5 329.4 L126 329.5 L126.5 329.6 L127 329.7 L127.5 329.7 L128 329.8 L128.5 329.9 L129 329.9 L129.5 330 L130 330 L130.5 330 L131 330.1 L131.5 330.1 L132 330.1 L132.5 330.1 L133 330.2 L133.5 330.2 L134 330.2 L134.5 330.2 L135 330.2 L135.5 330.2 L136 330.2 L136.5 330.3 L137 330.3 L137.5 330.3 L138 330.3 L138.5 330.3 L139 330.3 L139.5 330.3 L140 330.3 L140.5 330.3 L141 330.3 L141.5 330.3 L142 330.3 L142.5 330.3 L143 330.3 L143.5 330.3 L144 330.3 L144.5 330.3 L145 330.3 L145.5 330.3 L146 330.3 L146.5 330.3 L147 330.3 L147.5 330.3 L148 330.3 L148.5 330.3 L149 330.3 L149.5 330.3 L150 330.3 L150.5 330.3 L151 330.3 L151.5 330.3 L152 330.3 L152.5 330.3 L153 330.3 L153.5 330.3 L154 330.3 L154.5 330.3 L155 330.3 L155.5 330.3 L156 330.3 L156.5 330.3 L157 330.3 L157.5 330.3 L158 330.3 L158.5 330.3 L159 330.3 L159.5 330.3 L160 330.3 L160.5 330.3 L161 330.3 L161.5 330.3 L162 330.3" fill="none" stroke="#3f86b8" stroke-width="0.7"/><rect x="12.4" y="220" width="150.6" height="110.3" fill="none" stroke="#8a8a8a" stroke-width="0.7"/><line x1="33" y1="330.3" x2="33" y2="328.8" stroke="#888" stroke-width="0.5"/><text x="33" y="335.3" font-size="4" text-anchor="middle" fill="#555">45</text><line x1="62.8" y1="330.3" x2="62.8" y2="328.8" stroke="#888" stroke-width="0.5"/><text x="62.8" y="335.3" font-size="4" text-anchor="middle" fill="#555">60</text><line x1="92.3" y1="330.3" x2="92.3" y2="328.8" stroke="#888" stroke-width="0.5"/><text x="92.3" y="335.3" font-size="4" text-anchor="middle" fill="#555">75</text><line x1="122.3" y1="330.3" x2="122.3" y2="328.8" stroke="#888" stroke-width="0.5"/><text x="122.3" y="335.3" font-size="4" text-anchor="middle" fill="#555">90</text><line x1="151.9" y1="330.3" x2="151.9" y2="328.8" stroke="#888" stroke-width="0.5"/><text x="151.9" y="335.3" font-size="4" text-anchor="middle" fill="#555">105</text><text x="10.9" y="331.7" font-size="4" text-anchor="end" fill="#555">0</text><text x="10.9" y="313.3" font-size="4" text-anchor="end" fill="#555">5</text><text x="10.9" y="294.9" font-size="4" text-anchor="end" fill="#555">10</text><text x="10.9" y="276.5" font-size="4" text-anchor="end" fill="#555">15</text><text x="10.9" y="258.1" font-size="4" text-anchor="end" fill="#555">20</text><text x="10.9" y="239.7" font-size="4" text-anchor="end" fill="#555">25</text><text x="10.9" y="221.4" font-size="4" text-anchor="end" fill="#555">30</text><text x="87" y="339" font-size="5.6" text-anchor="middle" fill="#333" style="font-family:'Liberation Mono',monospace">Diameter (nm)</text><text transform="translate(5.6,275.5) rotate(-90)" font-size="5" text-anchor="middle" fill="#333">Frequency(%)</text><line x1="344.3" y1="217.4" x2="344.3" y2="340" stroke="#999" stroke-width="0.8"/><rect x="344.5" y="217.4" width="161.3" height="122.6" fill="#fff"/><rect x="382.7" y="323.4" width="11.9" height="6.5" fill="url(#hat)" stroke="#74c9ef" stroke-width="0.7"/><rect x="394.6" y="316.2" width="11.9" height="13.7" fill="url(#hat)" stroke="#74c9ef" stroke-width="0.7"/><rect x="406.5" y="288.9" width="12.9" height="41" fill="url(#hat)" stroke="#74c9ef" stroke-width="0.7"/><rect x="419.4" y="288.9" width="11.9" height="41" fill="url(#hat)" stroke="#74c9ef" stroke-width="0.7"/><rect x="431.3" y="248" width="12.9" height="81.9" fill="url(#hat)" stroke="#74c9ef" stroke-width="0.7"/><rect x="444.2" y="275.3" width="11.9" height="54.6" fill="url(#hat)" stroke="#74c9ef" stroke-width="0.7"/><rect x="456.1" y="309.3" width="12.4" height="20.6" fill="url(#hat)" stroke="#74c9ef" stroke-width="0.7"/><rect x="468.5" y="316.2" width="12.2" height="13.7" fill="url(#hat)" stroke="#74c9ef" stroke-width="0.7"/><path d="M370 328.1 L370.5 328 L371 327.9 L371.5 327.8 L372 327.6 L372.5 327.5 L373 327.4 L373.5 327.2 L374 327.1 L374.5 326.9 L375 326.8 L375.5 326.6 L376 326.4 L376.5 326.2 L377 326 L377.5 325.8 L378 325.6 L378.5 325.4 L379 325.1 L379.5 324.9 L380 324.6 L380.5 324.4 L381 324.1 L381.5 323.8 L382 323.5 L382.5 323.2 L383 322.9 L383.5 322.5 L384 322.2 L384.5 321.8 L385 321.4 L385.5 321.1 L386 320.7 L386.5 320.2 L387 319.8 L387.5 319.4 L388 318.9 L388.5 318.4 L389 318 L389.5 317.4 L390 316.9 L390.5 316.4 L391 315.8 L391.5 315.3 L392 314.7 L392.5 314.1 L393 313.5 L393.5 312.9 L394 312.2 L394.5 311.6 L395 310.9 L395.5 310.2 L396 309.5 L396.5 308.8 L397 308 L397.5 307.3 L398 306.5 L398.5 305.7 L399 304.9 L399.5 304.1 L400 303.2 L400.5 302.4 L401 301.5 L401.5 300.6 L402 299.7 L402.5 298.8 L403 297.9 L403.5 297 L404 296 L404.5 295.1 L405 294.1 L405.5 293.1 L406 292.2 L406.5 291.2 L407 290.2 L407.5 289.1 L408 288.1 L408.5 287.1 L409 286.1 L409.5 285 L410 284 L410.5 282.9 L411 281.9 L411.5 280.9 L412 279.8 L412.5 278.8 L413 277.7 L413.5 276.7 L414 275.6 L414.5 274.6 L415 273.6 L415.5 272.5 L416 271.5 L416.5 270.5 L417 269.5 L417.5 268.5 L418 267.5 L418.5 266.6 L419 265.6 L419.5 264.7 L420 263.8 L420.5 262.9 L421 262 L421.5 261.1 L422 260.3 L422.5 259.4 L423 258.6 L423.5 257.9 L424 257.1 L424.5 256.4 L425 255.7 L425.5 255 L426 254.3 L426.5 253.7 L427 253.1 L427.5 252.5 L428 252 L428.5 251.5 L429 251 L429.5 250.6 L430 250.2 L430.5 249.8 L431 249.5 L431.5 249.2 L432 248.9 L432.5 248.7 L433 248.5 L433.5 248.3 L434 248.2 L434.5 248.1 L435 248 L435.5 248 L436 248 L436.5 248.1 L437 248.2 L437.5 248.3 L438 248.5 L438.5 248.7 L439 248.9 L439.5 249.2 L440 249.5 L440.5 249.8 L441 250.2 L441.5 250.6 L442 251 L442.5 251.5 L443 252 L443.5 252.5 L444 253.1 L444.5 253.7 L445 254.3 L445.5 255 L446 255.7 L446.5 256.4 L447 257.1 L447.5 257.9 L448 258.6 L448.5 259.4 L449 260.3 L449.5 261.1 L450 262 L450.5 262.9 L451 263.8 L451.5 264.7 L452 265.6 L452.5 266.6 L453 267.5 L453.5 268.5 L454 269.5 L454.5 270.5 L455 271.5 L455.5 272.5 L456 273.6 L456.5 274.6 L457 275.6 L457.5 276.7 L458 277.7 L458.5 278.8 L459 279.8 L459.5 280.9 L460 281.9 L460.5 282.9 L461 284 L461.5 285 L462 286.1 L462.5 287.1 L463 288.1 L463.5 289.1 L464 290.2 L464.5 291.2 L465 292.2 L465.5 293.1 L466 294.1 L466.5 295.1 L467 296 L467.5 297 L468 297.9 L468.5 298.8 L469 299.7 L469.5 300.6 L470 301.5 L470.5 302.4 L471 303.2 L471.5 304.1 L472 304.9 L472.5 305.7 L473 306.5 L473.5 307.3 L474 308 L474.5 308.8 L475 309.5 L475.5 310.2 L476 310.9 L476.5 311.6 L477 312.2 L477.5 312.9 L478 313.5 L478.5 314.1 L479 314.7 L479.5 315.3 L480 315.8 L480.5 316.4 L481 316.9 L481.5 317.4 L482 318 L482.5 318.4 L483 318.9 L483.5 319.4 L484 319.8 L484.5 320.2 L485 320.7 L485.5 321.1 L486 321.4 L486.5 321.8 L487 322.2 L487.5 322.5 L488 322.9 L488.5 323.2 L489 323.5 L489.5 323.8 L490 324.1 L490.5 324.4 L491 324.6 L491.5 324.9 L492 325.1 L492.5 325.4 L493 325.6 L493.5 325.8 L494 326 L494.5 326.2 L495 326.4 L495.5 326.6 L496 326.8 L496.5 326.9 L497 327.1 L497.5 327.2 L498 327.4 L498.5 327.5 L499 327.6 L499.5 327.8 L500 327.9" fill="none" stroke="#3f86b8" stroke-width="0.7"/><rect x="357.9" y="220.4" width="147.1" height="109.5" fill="none" stroke="#8a8a8a" stroke-width="0.7"/><line x1="382.7" y1="329.9" x2="382.7" y2="328.4" stroke="#888" stroke-width="0.5"/><text x="382.7" y="334.9" font-size="4" text-anchor="middle" fill="#555">40</text><line x1="407" y1="329.9" x2="407" y2="328.4" stroke="#888" stroke-width="0.5"/><text x="407" y="334.9" font-size="4" text-anchor="middle" fill="#555">60</text><line x1="431.8" y1="329.9" x2="431.8" y2="328.4" stroke="#888" stroke-width="0.5"/><text x="431.8" y="334.9" font-size="4" text-anchor="middle" fill="#555">80</text><line x1="456.1" y1="329.9" x2="456.1" y2="328.4" stroke="#888" stroke-width="0.5"/><text x="456.1" y="334.9" font-size="4" text-anchor="middle" fill="#555">100</text><line x1="480.7" y1="329.9" x2="480.7" y2="328.4" stroke="#888" stroke-width="0.5"/><text x="480.7" y="334.9" font-size="4" text-anchor="middle" fill="#555">120</text><line x1="504.5" y1="329.9" x2="504.5" y2="328.4" stroke="#888" stroke-width="0.5"/><text x="504.5" y="334.9" font-size="4" text-anchor="middle" fill="#555">140</text><text x="356.4" y="331.3" font-size="4" text-anchor="end" fill="#555">0</text><text x="356.4" y="317.6" font-size="4" text-anchor="end" fill="#555">5</text><text x="356.4" y="303.9" font-size="4" text-anchor="end" fill="#555">10</text><text x="356.4" y="290.2" font-size="4" text-anchor="end" fill="#555">15</text><text x="356.4" y="276.5" font-size="4" text-anchor="end" fill="#555">20</text><text x="356.4" y="262.9" font-size="4" text-anchor="end" fill="#555">25</text><text x="356.4" y="249.2" font-size="4" text-anchor="end" fill="#555">30</text><text x="356.4" y="235.5" font-size="4" text-anchor="end" fill="#555">35</text><text x="356.4" y="221.8" font-size="4" text-anchor="end" fill="#555">40</text><text x="432" y="338.5" font-size="5.6" text-anchor="middle" fill="#333" class="b">Diameter(nm)</text><text transform="translate(351.5,275) rotate(-90)" font-size="5" text-anchor="middle" fill="#333" class="b">Frequency(%)</text><line x1="296.3" y1="318.7" x2="327.2" y2="318.7" stroke="#111" stroke-width="1.3"/><text x="311.8" y="315.6" font-size="10" text-anchor="middle" fill="#222">100 nm</text><line x1="627.5" y1="319.4" x2="674.4" y2="319.4" stroke="#111" stroke-width="1.4"/><text x="650" y="314.8" font-size="8" text-anchor="middle" fill="#111" class="b">100nm</text><text x="3.6" y="14.6" font-size="19" fill="#000" class="b">a</text><text x="350.2" y="15" font-size="19" fill="#000" class="b">b</text><text x="1.4" y="360" font-size="20" fill="#000" class="b">c</text><rect x="21.4" y="355.6" width="308.6" height="220.6" fill="none" stroke="#7a7a7a" stroke-width="1.1"/><line x1="21.4" y1="576.2" x2="23.4" y2="576.2" stroke="#7a7a7a" stroke-width="0.8"/><line x1="21.4" y1="548.6" x2="22.8" y2="548.6" stroke="#7a7a7a" stroke-width="0.8"/><line x1="21.4" y1="521.1" x2="23.4" y2="521.1" stroke="#7a7a7a" stroke-width="0.8"/><line x1="21.4" y1="493.5" x2="22.8" y2="493.5" stroke="#7a7a7a" stroke-width="0.8"/><line x1="21.4" y1="465.9" x2="23.4" y2="465.9" stroke="#7a7a7a" stroke-width="0.8"/><line x1="21.4" y1="438.3" x2="22.8" y2="438.3" stroke="#7a7a7a" stroke-width="0.8"/><line x1="21.4" y1="410.8" x2="23.4" y2="410.8" stroke="#7a7a7a" stroke-width="0.8"/><line x1="21.4" y1="383.2" x2="22.8" y2="383.2" stroke="#7a7a7a" stroke-width="0.8"/><line x1="21.4" y1="355.6" x2="23.4" y2="355.6" stroke="#7a7a7a" stroke-width="0.8"/><text x="19" y="578.9" font-size="8" text-anchor="end" class="b">0</text><text x="19" y="523.8" font-size="8" text-anchor="end" class="b">3</text><text x="19" y="468.6" font-size="8" text-anchor="end" class="b">6</text><text x="19" y="413.4" font-size="8" text-anchor="end" class="b">9</text><text x="19" y="358.3" font-size="8" text-anchor="end" class="b">12</text><line x1="60" y1="576.2" x2="60" y2="574.8" stroke="#7a7a7a" stroke-width="0.8"/><line x1="98.6" y1="576.2" x2="98.6" y2="574.2" stroke="#7a7a7a" stroke-width="0.8"/><line x1="137.1" y1="576.2" x2="137.1" y2="574.8" stroke="#7a7a7a" stroke-width="0.8"/><line x1="175.7" y1="576.2" x2="175.7" y2="574.2" stroke="#7a7a7a" stroke-width="0.8"/><line x1="214.3" y1="576.2" x2="214.3" y2="574.8" stroke="#7a7a7a" stroke-width="0.8"/><line x1="252.8" y1="576.2" x2="252.8" y2="574.2" stroke="#7a7a7a" stroke-width="0.8"/><line x1="291.4" y1="576.2" x2="291.4" y2="574.8" stroke="#7a7a7a" stroke-width="0.8"/><line x1="330" y1="576.2" x2="330" y2="574.2" stroke="#7a7a7a" stroke-width="0.8"/><text x="98.6" y="584.2" font-size="8" text-anchor="middle" class="b">50</text><text x="175.7" y="584.2" font-size="8" text-anchor="middle" class="b">100</text><text x="252.8" y="584.2" font-size="8" text-anchor="middle" class="b">150</text><text x="330" y="584.2" font-size="8" text-anchor="middle" class="b">200</text><path d="M22.9 574.6 L23.7 574.6 L24.5 574.6 L25.3 574.6 L26 574.6 L26.8 574.6 L27.6 574.6 L28.3 574.5 L29.1 574.5 L29.9 574.5 L30.7 574.5 L31.4 574.5 L32.2 574.5 L33 574.4 L33.7 574.4 L34.5 574.4 L35.3 574.3 L36.1 574.3 L36.8 574.3 L37.6 574.2 L38.4 574.2 L39.1 574.2 L39.9 574.1 L40.7 574.1 L41.5 574 L42.2 573.9 L43 573.9 L43.8 573.8 L44.5 573.7 L45.3 573.7 L46.1 573.6 L46.9 573.5 L47.6 573.4 L48.4 573.3 L49.2 573.2 L49.9 573.1 L50.7 572.9 L51.5 572.8 L52.3 572.7 L53 572.5 L53.8 572.4 L54.6 572.2 L55.3 572 L56.1 571.8 L56.9 571.6 L57.7 571.4 L58.4 571.2 L59.2 571 L60 570.7 L60.7 570.4 L61.5 570.2 L62.3 569.9 L63.1 569.5 L63.8 569.2 L64.6 568.9 L65.4 568.5 L66.1 568.1 L66.9 567.7 L67.7 567.3 L68.5 566.8 L69.2 566.3 L70 565.8 L70.8 565.3 L71.5 564.8 L72.3 564.2 L73.1 563.6 L73.9 563 L74.6 562.3 L75.4 561.6 L76.2 560.9 L76.9 560.2 L77.7 559.4 L78.5 558.6 L79.3 557.7 L80 556.9 L80.8 555.9 L81.6 555 L82.3 554 L83.1 553 L83.9 551.9 L84.7 550.8 L85.4 549.7 L86.2 548.5 L87 547.3 L87.7 546 L88.5 544.7 L89.3 543.4 L90.1 542 L90.8 540.6 L91.6 539.1 L92.4 537.6 L93.1 536 L93.9 534.4 L94.7 532.8 L95.5 531.1 L96.2 529.4 L97 527.6 L97.8 525.8 L98.6 523.9 L99.3 522 L100.1 520.1 L100.9 518.1 L101.6 516.1 L102.4 514 L103.2 511.9 L104 509.8 L104.7 507.7 L105.5 505.5 L106.3 503.2 L107 501 L107.8 498.7 L108.6 496.4 L109.4 494 L110.1 491.6 L110.9 489.3 L111.7 486.8 L112.4 484.4 L113.2 482 L114 479.5 L114.8 477 L115.5 474.6 L116.3 472.1 L117.1 469.6 L117.8 467.1 L118.6 464.6 L119.4 462.1 L120.2 459.6 L120.9 457.2 L121.7 454.7 L122.5 452.3 L123.2 449.9 L124 447.5 L124.8 445.1 L125.6 442.7 L126.3 440.4 L127.1 438.2 L127.9 435.9 L128.6 433.7 L129.4 431.6 L130.2 429.5 L131 427.4 L131.7 425.4 L132.5 423.5 L133.3 421.6 L134 419.7 L134.8 418 L135.6 416.3 L136.4 414.7 L137.1 413.1 L137.9 411.6 L138.7 410.2 L139.4 408.9 L140.2 407.7 L141 406.5 L141.8 405.5 L142.5 404.5 L143.3 403.6 L144.1 402.8 L144.8 402.1 L145.6 401.4 L146.4 400.9 L147.2 400.5 L147.9 400.2 L148.7 399.9 L149.5 399.8 L150.2 399.7 L151 399.8 L151.8 399.9 L152.6 400.2 L153.3 400.5 L154.1 400.9 L154.9 401.4 L155.6 402.1 L156.4 402.8 L157.2 403.6 L158 404.5 L158.7 405.5 L159.5 406.5 L160.3 407.7 L161 408.9 L161.8 410.2 L162.6 411.6 L163.4 413.1 L164.1 414.7 L164.9 416.3 L165.7 418 L166.4 419.7 L167.2 421.6 L168 423.5 L168.8 425.4 L169.5 427.4 L170.3 429.5 L171.1 431.6 L171.8 433.7 L172.6 435.9 L173.4 438.2 L174.2 440.4 L174.9 442.7 L175.7 445.1 L176.5 447.5 L177.2 449.9 L178 452.3 L178.8 454.7 L179.6 457.2 L180.3 459.6 L181.1 462.1 L181.9 464.6 L182.6 467.1 L183.4 469.6 L184.2 472.1 L185 474.6 L185.7 477 L186.5 479.5 L187.3 482 L188 484.4 L188.8 486.8 L189.6 489.3 L190.4 491.6 L191.1 494 L191.9 496.4 L192.7 498.7 L193.4 501 L194.2 503.2 L195 505.5 L195.8 507.7 L196.5 509.8 L197.3 511.9 L198.1 514 L198.8 516.1 L199.6 518.1 L200.4 520.1 L201.2 522 L201.9 523.9 L202.7 525.8 L203.5 527.6 L204.2 529.4 L205 531.1 L205.8 532.8 L206.6 534.4 L207.3 536 L208.1 537.6 L208.9 539.1 L209.6 540.6 L210.4 542 L211.2 543.4 L212 544.7 L212.7 546 L213.5 547.3 L214.3 548.5 L215 549.7 L215.8 550.8 L216.6 551.9 L217.4 553 L218.1 554 L218.9 555 L219.7 555.9 L220.4 556.9 L221.2 557.7 L222 558.6 L222.8 559.4 L223.5 560.2 L224.3 560.9 L225.1 561.6 L225.8 562.3 L226.6 563 L227.4 563.6 L228.2 564.2 L228.9 564.8 L229.7 565.3 L230.5 565.8 L231.2 566.3 L232 566.8 L232.8 567.3 L233.6 567.7 L234.3 568.1 L235.1 568.5 L235.9 568.9 L236.6 569.2 L237.4 569.5 L238.2 569.9 L239 570.2 L239.7 570.4 L240.5 570.7 L241.3 571 L242 571.2 L242.8 571.4 L243.6 571.6 L244.4 571.8 L245.1 572 L245.9 572.2 L246.7 572.4 L247.4 572.5 L248.2 572.7 L249 572.8 L249.8 572.9 L250.5 573.1 L251.3 573.2 L252.1 573.3 L252.8 573.4 L253.6 573.5 L254.4 573.6 L255.2 573.7 L255.9 573.7 L256.7 573.8 L257.5 573.9 L258.3 573.9 L259 574 L259.8 574.1 L260.6 574.1 L261.3 574.2 L262.1 574.2 L262.9 574.2 L263.7 574.3 L264.4 574.3 L265.2 574.3 L266 574.4 L266.7 574.4 L267.5 574.4 L268.3 574.5 L269.1 574.5 L269.8 574.5 L270.6 574.5 L271.4 574.5 L272.1 574.5 L272.9 574.6 L273.7 574.6 L274.5 574.6 L275.2 574.6 L276 574.6 L276.8 574.6 L277.5 574.6 L278.3 574.6 L279.1 574.6 L279.9 574.7 L280.6 574.7 L281.4 574.7 L282.2 574.7 L282.9 574.7 L283.7 574.7 L284.5 574.7 L285.3 574.7 L286 574.7 L286.8 574.7 L287.6 574.7 L288.3 574.7 L289.1 574.7 L289.9 574.7 L290.7 574.7 L291.4 574.7 L292.2 574.7 L293 574.7 L293.7 574.7 L294.5 574.7 L295.3 574.7 L296.1 574.7 L296.8 574.7 L297.6 574.7 L298.4 574.7 L299.1 574.7 L299.9 574.7 L300.7 574.7 L301.5 574.7 L302.2 574.7 L303 574.7 L303.8 574.7 L304.5 574.7 L305.3 574.7 L306.1 574.7 L306.9 574.7 L307.6 574.7 L308.4 574.7 L309.2 574.7 L309.9 574.7 L310.7 574.7 L311.5 574.7 L312.3 574.7 L313 574.7 L313.8 574.7 L314.6 574.7 L315.3 574.7 L316.1 574.7 L316.9 574.7 L317.7 574.7 L318.4 574.7 L319.2 574.7 L320 574.7 L320.7 574.7 L321.5 574.7 L322.3 574.7 L323.1 574.7 L323.8 574.7 L324.6 574.7 L325.4 574.7 L326.1 574.7 L326.9 574.7 L327.7 574.7 L328.5 574.7 L329.2 574.7 L330 574.7" fill="none" stroke="#f03c3c" stroke-width="0.9"/><text x="175.8" y="597.2" font-size="10.5" text-anchor="middle" class="b">Size (d.nm)</text><text transform="translate(9.8,472.7) rotate(-90)" font-size="9.9" text-anchor="middle" class="b">Intensity(percent)</text><text x="342.5" y="365" font-size="19" fill="#000" class="b">d</text><rect x="366.5" y="356.4" width="307" height="225.6" fill="none" stroke="#555" stroke-width="1.1"/><line x1="366.5" y1="582" x2="368.5" y2="582" stroke="#555" stroke-width="0.8"/><line x1="366.5" y1="559.4" x2="367.9" y2="559.4" stroke="#555" stroke-width="0.8"/><line x1="366.5" y1="536.9" x2="368.5" y2="536.9" stroke="#555" stroke-width="0.8"/><line x1="366.5" y1="514.3" x2="367.9" y2="514.3" stroke="#555" stroke-width="0.8"/><line x1="366.5" y1="491.8" x2="368.5" y2="491.8" stroke="#555" stroke-width="0.8"/><line x1="366.5" y1="469.2" x2="367.9" y2="469.2" stroke="#555" stroke-width="0.8"/><line x1="366.5" y1="446.6" x2="368.5" y2="446.6" stroke="#555" stroke-width="0.8"/><line x1="366.5" y1="424.1" x2="367.9" y2="424.1" stroke="#555" stroke-width="0.8"/><line x1="366.5" y1="401.5" x2="368.5" y2="401.5" stroke="#555" stroke-width="0.8"/><line x1="366.5" y1="379" x2="367.9" y2="379" stroke="#555" stroke-width="0.8"/><line x1="366.5" y1="356.4" x2="368.5" y2="356.4" stroke="#555" stroke-width="0.8"/><text x="364.3" y="539.6" font-size="8" text-anchor="end" class="b">3</text><text x="364.3" y="494.5" font-size="8" text-anchor="end" class="b">6</text><text x="364.3" y="449.3" font-size="8" text-anchor="end" class="b">9</text><text x="364.3" y="404.2" font-size="8" text-anchor="end" class="b">12</text><text x="364.3" y="359.1" font-size="8" text-anchor="end" class="b">15</text><line x1="392.1" y1="582" x2="392.1" y2="580.6" stroke="#555" stroke-width="0.8"/><line x1="417.7" y1="582" x2="417.7" y2="580" stroke="#555" stroke-width="0.8"/><line x1="443.2" y1="582" x2="443.2" y2="580.6" stroke="#555" stroke-width="0.8"/><line x1="468.8" y1="582" x2="468.8" y2="580" stroke="#555" stroke-width="0.8"/><line x1="494.4" y1="582" x2="494.4" y2="580.6" stroke="#555" stroke-width="0.8"/><line x1="520" y1="582" x2="520" y2="580" stroke="#555" stroke-width="0.8"/><line x1="545.6" y1="582" x2="545.6" y2="580.6" stroke="#555" stroke-width="0.8"/><line x1="571.2" y1="582" x2="571.2" y2="580" stroke="#555" stroke-width="0.8"/><line x1="596.8" y1="582" x2="596.8" y2="580.6" stroke="#555" stroke-width="0.8"/><line x1="622.3" y1="582" x2="622.3" y2="580" stroke="#555" stroke-width="0.8"/><line x1="647.9" y1="582" x2="647.9" y2="580.6" stroke="#555" stroke-width="0.8"/><text x="366.5" y="590.3" font-size="8" text-anchor="middle" class="b">0</text><text x="417.7" y="590.3" font-size="8" text-anchor="middle" class="b">30</text><text x="468.8" y="590.3" font-size="8" text-anchor="middle" class="b">60</text><text x="520" y="590.3" font-size="8" text-anchor="middle" class="b">90</text><text x="571.2" y="590.3" font-size="8" text-anchor="middle" class="b">120</text><text x="622.3" y="590.3" font-size="8" text-anchor="middle" class="b">150</text><text x="673.5" y="590.3" font-size="8" text-anchor="middle" class="b">180</text><path d="M366.5 581.4 L367.4 581.3 L368.2 581.3 L369.1 581.2 L369.9 581.2 L370.8 581.1 L371.6 581.1 L372.5 581 L373.3 581 L374.2 580.9 L375 580.8 L375.9 580.8 L376.7 580.7 L377.6 580.6 L378.4 580.5 L379.3 580.4 L380.1 580.3 L381 580.2 L381.9 580.1 L382.7 580 L383.6 579.9 L384.4 579.8 L385.3 579.6 L386.1 579.5 L387 579.4 L387.8 579.2 L388.7 579 L389.5 578.9 L390.4 578.7 L391.2 578.5 L392.1 578.3 L392.9 578.1 L393.8 577.9 L394.6 577.7 L395.5 577.5 L396.3 577.2 L397.2 577 L398.1 576.7 L398.9 576.4 L399.8 576.1 L400.6 575.8 L401.5 575.5 L402.3 575.2 L403.2 574.8 L404 574.5 L404.9 574.1 L405.7 573.7 L406.6 573.3 L407.4 572.9 L408.3 572.4 L409.1 572 L410 571.5 L410.8 571 L411.7 570.5 L412.6 569.9 L413.4 569.4 L414.3 568.8 L415.1 568.2 L416 567.6 L416.8 567 L417.7 566.3 L418.5 565.6 L419.4 564.9 L420.2 564.2 L421.1 563.4 L421.9 562.6 L422.8 561.8 L423.6 561 L424.5 560.1 L425.3 559.2 L426.2 558.3 L427 557.3 L427.9 556.4 L428.8 555.3 L429.6 554.3 L430.5 553.2 L431.3 552.2 L432.2 551 L433 549.9 L433.9 548.7 L434.7 547.5 L435.6 546.2 L436.4 544.9 L437.3 543.6 L438.1 542.3 L439 540.9 L439.8 539.5 L440.7 538 L441.5 536.5 L442.4 535 L443.2 533.5 L444.1 531.9 L445 530.3 L445.8 528.7 L446.7 527 L447.5 525.3 L448.4 523.5 L449.2 521.8 L450.1 520 L450.9 518.1 L451.8 516.3 L452.6 514.4 L453.5 512.5 L454.3 510.5 L455.2 508.5 L456 506.5 L456.9 504.5 L457.7 502.4 L458.6 500.4 L459.5 498.2 L460.3 496.1 L461.2 494 L462 491.8 L462.9 489.6 L463.7 487.4 L464.6 485.1 L465.4 482.9 L466.3 480.6 L467.1 478.4 L468 476.1 L468.8 473.8 L469.7 471.4 L470.5 469.1 L471.4 466.8 L472.2 464.5 L473.1 462.1 L473.9 459.8 L474.8 457.4 L475.7 455.1 L476.5 452.8 L477.4 450.4 L478.2 448.1 L479.1 445.8 L479.9 443.5 L480.8 441.2 L481.6 438.9 L482.5 436.6 L483.3 434.4 L484.2 432.2 L485 429.9 L485.9 427.8 L486.7 425.6 L487.6 423.5 L488.4 421.4 L489.3 419.3 L490.2 417.2 L491 415.2 L491.9 413.3 L492.7 411.3 L493.6 409.4 L494.4 407.6 L495.3 405.8 L496.1 404 L497 402.3 L497.8 400.6 L498.7 399 L499.5 397.5 L500.4 396 L501.2 394.5 L502.1 393.1 L502.9 391.8 L503.8 390.5 L504.6 389.3 L505.5 388.1 L506.4 387.1 L507.2 386 L508.1 385.1 L508.9 384.2 L509.8 383.4 L510.6 382.6 L511.5 381.9 L512.3 381.3 L513.2 380.8 L514 380.3 L514.9 379.9 L515.7 379.5 L516.6 379.3 L517.4 379.1 L518.3 379 L519.1 379 L520 379 L520.9 379.1 L521.7 379.3 L522.6 379.5 L523.4 379.9 L524.3 380.3 L525.1 380.8 L526 381.3 L526.8 381.9 L527.7 382.6 L528.5 383.4 L529.4 384.2 L530.2 385.1 L531.1 386 L531.9 387.1 L532.8 388.1 L533.6 389.3 L534.5 390.5 L535.4 391.8 L536.2 393.1 L537.1 394.5 L537.9 396 L538.8 397.5 L539.6 399 L540.5 400.6 L541.3 402.3 L542.2 404 L543 405.8 L543.9 407.6 L544.7 409.4 L545.6 411.3 L546.4 413.3 L547.3 415.2 L548.1 417.2 L549 419.3 L549.8 421.4 L550.7 423.5 L551.6 425.6 L552.4 427.8 L553.3 429.9 L554.1 432.2 L555 434.4 L555.8 436.6 L556.7 438.9 L557.5 441.2 L558.4 443.5 L559.2 445.8 L560.1 448.1 L560.9 450.4 L561.8 452.8 L562.6 455.1 L563.5 457.4 L564.3 459.8 L565.2 462.1 L566 464.5 L566.9 466.8 L567.8 469.1 L568.6 471.4 L569.5 473.8 L570.3 476.1 L571.2 478.4 L572 480.6 L572.9 482.9 L573.7 485.1 L574.6 487.4 L575.4 489.6 L576.3 491.8 L577.1 494 L578 496.1 L578.8 498.2 L579.7 500.4 L580.5 502.4 L581.4 504.5 L582.3 506.5 L583.1 508.5 L584 510.5 L584.8 512.5 L585.7 514.4 L586.5 516.3 L587.4 518.1 L588.2 520 L589.1 521.8 L589.9 523.5 L590.8 525.3 L591.6 527 L592.5 528.7 L593.3 530.3 L594.2 531.9 L595 533.5 L595.9 535 L596.8 536.5 L597.6 538 L598.5 539.5 L599.3 540.9 L600.2 542.3 L601 543.6 L601.9 544.9 L602.7 546.2 L603.6 547.5 L604.4 548.7 L605.3 549.9 L606.1 551 L607 552.2 L607.8 553.2 L608.7 554.3 L609.5 555.3 L610.4 556.4 L611.2 557.3 L612.1 558.3 L613 559.2 L613.8 560.1 L614.7 561 L615.5 561.8 L616.4 562.6 L617.2 563.4 L618.1 564.2 L618.9 564.9 L619.8 565.6 L620.6 566.3 L621.5 567 L622.3 567.6 L623.2 568.2 L624 568.8 L624.9 569.4 L625.7 569.9 L626.6 570.5 L627.5 571 L628.3 571.5 L629.2 572 L630 572.4 L630.9 572.9 L631.7 573.3 L632.6 573.7 L633.4 574.1 L634.3 574.5 L635.1 574.8 L636 575.2 L636.8 575.5 L637.7 575.8 L638.5 576.1 L639.4 576.4 L640.2 576.7 L641.1 577 L641.9 577.2 L642.8 577.5 L643.7 577.7 L644.5 577.9 L645.4 578.1 L646.2 578.3 L647.1 578.5 L647.9 578.7 L648.8 578.9 L649.6 579 L650.5 579.2 L651.3 579.4 L652.2 579.5 L653 579.6 L653.9 579.8 L654.7 579.9 L655.6 580 L656.4 580.1 L657.3 580.2 L658.1 580.3 L659 580.4 L659.9 580.5 L660.7 580.6 L661.6 580.7 L662.4 580.8 L663.3 580.8 L664.1 580.9 L665 581 L665.8 581 L666.7 581.1 L667.5 581.1 L668.4 581.2 L669.2 581.2 L670.1 581.3 L670.9 581.3 L671.8 581.4 L672.6 581.4 L673.5 581.5" fill="none" stroke="#f03c3c" stroke-width="0.9"/><text x="521.3" y="604.2" font-size="10.5" text-anchor="middle" class="b">Size (d.nm)</text><text transform="translate(354,470) rotate(-90)" font-size="10.2" text-anchor="middle" class="b">Intensity(percent)</text><text x="2" y="631" font-size="19" class="b">e</text><rect x="14.5" y="621.5" width="315.9" height="235.1" fill="none" stroke="#444" stroke-width="1"/><line x1="330.4" y1="856.6" x2="330.4" y2="854.4" stroke="#444" stroke-width="0.8"/><line x1="307.8" y1="856.6" x2="307.8" y2="855.2" stroke="#444" stroke-width="0.8"/><line x1="285.3" y1="856.6" x2="285.3" y2="854.4" stroke="#444" stroke-width="0.8"/><line x1="262.7" y1="856.6" x2="262.7" y2="855.2" stroke="#444" stroke-width="0.8"/><line x1="240.1" y1="856.6" x2="240.1" y2="854.4" stroke="#444" stroke-width="0.8"/><line x1="217.6" y1="856.6" x2="217.6" y2="855.2" stroke="#444" stroke-width="0.8"/><line x1="195" y1="856.6" x2="195" y2="854.4" stroke="#444" stroke-width="0.8"/><line x1="172.4" y1="856.6" x2="172.4" y2="855.2" stroke="#444" stroke-width="0.8"/><line x1="149.9" y1="856.6" x2="149.9" y2="854.4" stroke="#444" stroke-width="0.8"/><line x1="127.3" y1="856.6" x2="127.3" y2="855.2" stroke="#444" stroke-width="0.8"/><line x1="104.8" y1="856.6" x2="104.8" y2="854.4" stroke="#444" stroke-width="0.8"/><line x1="82.2" y1="856.6" x2="82.2" y2="855.2" stroke="#444" stroke-width="0.8"/><line x1="59.6" y1="856.6" x2="59.6" y2="854.4" stroke="#444" stroke-width="0.8"/><line x1="37.1" y1="856.6" x2="37.1" y2="855.2" stroke="#444" stroke-width="0.8"/><line x1="14.5" y1="856.6" x2="14.5" y2="854.4" stroke="#444" stroke-width="0.8"/><text x="330.4" y="865.5" font-size="8" text-anchor="middle" class="b">500</text><text x="285.3" y="865.5" font-size="8" text-anchor="middle" class="b">1000</text><text x="240.1" y="865.5" font-size="8" text-anchor="middle" class="b">1500</text><text x="195" y="865.5" font-size="8" text-anchor="middle" class="b">2000</text><text x="149.9" y="865.5" font-size="8" text-anchor="middle" class="b">2500</text><text x="104.8" y="865.5" font-size="8" text-anchor="middle" class="b">3000</text><text x="59.6" y="865.5" font-size="8" text-anchor="middle" class="b">3500</text><text x="14.5" y="865.5" font-size="8" text-anchor="middle" class="b">4000</text><text x="172" y="877" font-size="9.5" text-anchor="middle" class="b" letter-spacing="0.3">Wavenumber (cm<tspan dy="-3" font-size="6">-1</tspan><tspan dy="3">)</tspan></text><text transform="translate(9.4,738.6) rotate(-90)" font-size="10.3" text-anchor="middle" class="b">%Transmittance</text><line x1="15.2" y1="629.6" x2="39.5" y2="629.6" stroke="#f03c3c" stroke-width="1"/><text x="45.3" y="633.8" font-size="10" fill="#222">Mg<tspan dy="2.8" font-size="9.6">2</tspan><tspan dy="-2.8">Al-NO</tspan><tspan dy="2.8" font-size="9.6">3</tspan><tspan dy="-2.8">-LDHs</tspan></text><line x1="15.2" y1="763.5" x2="38.5" y2="763.5" stroke="#222" stroke-width="1"/><text x="40.3" y="766.3" font-size="10" fill="#222">Co<tspan dy="2.8" font-size="9.6">2</tspan><tspan dy="-2.8">Al-LDHs</tspan></text><path d="M15 638.1 C16.6 638.3 21.6 638.6 24.9 639.1 C28.2 639.6 32.4 640 34.8 641 C37.2 642 38 642.5 39.3 644.8 C40.5 647.1 41.2 649.7 42.3 654.7 C43.4 659.7 44.6 668.2 46 674.6 C47.4 681 49.2 689.3 50.9 693.2 C52.5 697.1 54.2 696.6 55.9 698.1 C57.6 699.6 59.2 703.3 60.9 702.3 C62.5 701.3 63.9 696.5 65.8 691.9 C67.6 687.3 69.7 680 72 674.6 C74.3 669.2 76.6 664.1 79.5 659.7 C82.4 655.4 86.1 650.9 89.4 648.5 C92.7 646.1 95.8 646.3 99.3 645.3 C102.8 644.3 106.8 643.4 110.5 642.3 C114.2 641.2 117.8 639.7 121.7 638.6 C125.6 637.5 129.9 636.3 134 635.6 C138.1 634.9 143.1 634.5 146.5 634.4 C149.9 634.3 152.8 634.6 154.5 635 C156.2 635.4 155.7 636.8 156.4 636.8 C157.1 636.8 156.6 635.2 158.9 634.9 C161.2 634.6 165.7 634.8 170 634.9 C174.3 635 180 635.4 185 635.6 C190 635.8 195.1 635.9 200 636.2 C204.9 636.5 211.6 637.1 214.7 637.4 C217.8 637.7 217 637.1 218.4 637.9 C219.8 638.7 221.7 640.4 223.3 642.3 C224.9 644.2 226.6 648.8 227.8 649.3 C229.1 649.8 229.7 646.4 230.8 645.6 C231.9 644.8 233.1 644 234.5 644.3 C235.9 644.6 237.9 646 239.5 647.3 C241.1 648.6 242.9 649.8 243.9 652.3 C244.9 654.8 245.1 657.2 245.7 662.2 C246.3 667.2 247.1 672.5 247.7 682 C248.3 691.5 248.9 707.9 249.4 719.3 C249.9 730.7 250.2 750.3 250.6 750.3 C251 750.3 251.3 732.8 251.9 719.3 C252.5 705.8 253.6 682 254.4 669.6 C255.2 657.2 256 650 256.8 644.8 C257.6 639.6 258.1 639.9 259.3 638.6 C260.6 637.3 262.6 637.2 264.3 636.9 C266 636.6 267.2 636.4 269.3 636.6 C271.4 636.8 274.6 637.4 276.7 637.9 C278.8 638.4 280 638.8 281.7 639.9 C283.4 641 284.8 642.3 286.6 644.8 C288.5 647.3 291.1 651.4 292.8 654.7 C294.5 658 295.8 661.4 297 664.7 C298.2 668 299.3 673.5 300.3 674.6 C301.3 675.8 301.8 671.4 302.8 671.6 C303.8 671.8 305.1 673.4 306.5 675.8 C307.9 678.2 309.8 680.9 311.4 685.8 C313 690.6 314.6 701.8 315.9 704.9 C317.1 708 318 705.1 318.9 704.4 C319.8 703.7 320.4 703.9 321.4 700.6 C322.4 697.3 323.7 691.1 325.1 684.5 C326.5 677.9 329.2 664.9 330 661" fill="none" stroke="#f03c3c" stroke-width="0.9" stroke-linejoin="round"/><path d="M15 779.9 C17.5 780 25.3 780 29.9 780.3 C34.4 780.6 39.2 780.6 42.3 781.8 C45.4 783 46.6 784.3 48.5 787.3 C50.4 790.3 51.5 793.9 53.4 799.7 C55.2 805.5 57.5 816.2 59.6 822 C61.7 827.8 63.9 832.9 65.8 834.4 C67.7 835.9 68.9 834 70.8 830.7 C72.7 827.4 74.7 819.4 77 814.6 C79.3 809.9 81.9 805.3 84.4 802.2 C86.9 799.1 89 797.5 91.9 796 C94.8 794.5 98.5 794 101.8 793 C105.1 792 108 791.3 111.7 789.8 C115.4 788.3 120.4 785.5 124.1 784.1 C127.8 782.7 130.4 782 134.1 781.1 C137.8 780.2 142.4 779.4 146.5 778.9 C150.6 778.4 155 778.3 158.9 778.1 C162.8 777.9 164 778 170 777.8 C176 777.6 188.2 777.2 194.8 776.8 C201.4 776.4 205.1 775.5 209.7 775.3 C214.2 775 219 774.9 222.1 775.3 C225.2 775.7 226.2 777.2 228.3 777.8 C230.4 778.4 232.6 779.2 234.5 779 C236.4 778.8 237.9 777.3 239.5 776.8 C241.1 776.3 242.7 775.3 243.9 776 C245.1 776.7 245.8 777.9 246.9 781 C248 784.1 249.5 789.5 250.6 794.7 C251.7 799.9 252.8 812.4 253.6 812 C254.4 811.6 255 798.4 255.6 792.2 C256.2 786 256.3 778.5 257.3 774.8 C258.3 771.1 259.8 770.9 261.8 769.9 C263.8 768.9 266.8 768.7 269.3 768.6 C271.8 768.5 274.2 768.4 276.7 769.4 C279.2 770.4 281.6 772.6 284.1 774.8 C286.6 776.9 289.1 779.6 291.6 782.3 C294.1 785 296.9 788.3 299 791 C301.1 793.7 302.6 798.6 304 798.4 C305.4 798.2 306.2 793.6 307.7 789.7 C309.1 785.8 311.2 777.5 312.7 774.8 C314.1 772.1 315.4 772.4 316.4 773.6 C317.4 774.9 318.1 782.1 318.9 782.3 C319.7 782.5 320.6 776.3 321.4 774.8 C322.2 773.3 322.8 772.5 323.5 773.5 C324.2 774.5 324.9 782.2 325.8 781 C326.7 779.8 328.1 769.2 328.8 766.1 C329.5 763 329.8 763 330 762.4" fill="none" stroke="#333" stroke-width="0.9" stroke-linejoin="round"/><line x1="111.4" y1="643.3" x2="111.4" y2="646.3" stroke="#333" stroke-width="0.6"/><text transform="translate(113.8,656.8) rotate(-90)" font-size="6.8" text-anchor="middle" class="b" fill="#222">2925.00</text><line x1="60.9" y1="700.5" x2="60.9" y2="703.5" stroke="#333" stroke-width="0.6"/><text transform="translate(63.3,714) rotate(-90)" font-size="6.8" text-anchor="middle" class="b" fill="#222">3480.50</text><line x1="228.3" y1="647.3" x2="228.3" y2="650.3" stroke="#333" stroke-width="0.6"/><text transform="translate(230.7,661.5) rotate(-90)" font-size="6.8" text-anchor="middle" class="b" fill="#222">1632.35</text><line x1="250.3" y1="748.5" x2="250.3" y2="751.5" stroke="#333" stroke-width="0.6"/><text transform="translate(252.7,765.4) rotate(-90)" font-size="6.8" text-anchor="middle" class="b" fill="#222">1384.81</text><line x1="300.3" y1="673.3" x2="300.3" y2="676.3" stroke="#333" stroke-width="0.6"/><text transform="translate(302.7,686.2) rotate(-90)" font-size="6.8" text-anchor="middle" class="b" fill="#222">834.36</text><line x1="315.2" y1="703.1" x2="315.2" y2="706.1" stroke="#333" stroke-width="0.6"/><text transform="translate(317.6,716) rotate(-90)" font-size="6.8" text-anchor="middle" class="b" fill="#222">661.19</text><line x1="320.6" y1="703.1" x2="320.6" y2="706.1" stroke="#333" stroke-width="0.6"/><text transform="translate(323,715.4) rotate(-90)" font-size="6.8" text-anchor="middle" class="b" fill="#222">626.88</text><line x1="69.6" y1="832" x2="69.6" y2="835" stroke="#333" stroke-width="0.6"/><text transform="translate(72,844.9) rotate(-90)" font-size="6.8" text-anchor="middle" class="b" fill="#222">3433.35</text><line x1="111.7" y1="787.5" x2="111.7" y2="790.5" stroke="#333" stroke-width="0.6"/><text transform="translate(114.1,801.8) rotate(-90)" font-size="6.8" text-anchor="middle" class="b" fill="#222">2923.30</text><line x1="254.4" y1="810.8" x2="254.4" y2="813.8" stroke="#333" stroke-width="0.6"/><text transform="translate(256.8,823.7) rotate(-90)" font-size="6.8" text-anchor="middle" class="b" fill="#222">1354.68</text><line x1="304" y1="797.1" x2="304" y2="800.1" stroke="#333" stroke-width="0.6"/><text transform="translate(306.4,809) rotate(-90)" font-size="6.8" text-anchor="middle" class="b" fill="#222">796.01</text><line x1="320.1" y1="781" x2="320.1" y2="784" stroke="#333" stroke-width="0.6"/><text transform="translate(322.5,792.7) rotate(-90)" font-size="6.8" text-anchor="middle" class="b" fill="#222">614.63</text><line x1="326.3" y1="778.5" x2="326.3" y2="781.5" stroke="#333" stroke-width="0.6"/><text transform="translate(328.7,790.8) rotate(-90)" font-size="6.8" text-anchor="middle" class="b" fill="#222">550.06</text><text x="344.5" y="634.6" font-size="19" class="b">f</text><rect x="356.4" y="622.4" width="317.2" height="233.6" fill="none" stroke="#444" stroke-width="1"/><line x1="356.8" y1="856" x2="356.8" y2="854.6" stroke="#444" stroke-width="0.8"/><line x1="377.9" y1="856" x2="377.9" y2="853.8" stroke="#444" stroke-width="0.8"/><line x1="399" y1="856" x2="399" y2="854.6" stroke="#444" stroke-width="0.8"/><line x1="420.1" y1="856" x2="420.1" y2="853.8" stroke="#444" stroke-width="0.8"/><line x1="441.2" y1="856" x2="441.2" y2="854.6" stroke="#444" stroke-width="0.8"/><line x1="462.3" y1="856" x2="462.3" y2="853.8" stroke="#444" stroke-width="0.8"/><line x1="483.4" y1="856" x2="483.4" y2="854.6" stroke="#444" stroke-width="0.8"/><line x1="504.5" y1="856" x2="504.5" y2="853.8" stroke="#444" stroke-width="0.8"/><line x1="525.6" y1="856" x2="525.6" y2="854.6" stroke="#444" stroke-width="0.8"/><line x1="546.7" y1="856" x2="546.7" y2="853.8" stroke="#444" stroke-width="0.8"/><line x1="567.8" y1="856" x2="567.8" y2="854.6" stroke="#444" stroke-width="0.8"/><line x1="588.9" y1="856" x2="588.9" y2="853.8" stroke="#444" stroke-width="0.8"/><line x1="610" y1="856" x2="610" y2="854.6" stroke="#444" stroke-width="0.8"/><line x1="631.1" y1="856" x2="631.1" y2="853.8" stroke="#444" stroke-width="0.8"/><line x1="652.2" y1="856" x2="652.2" y2="854.6" stroke="#444" stroke-width="0.8"/><line x1="673.3" y1="856" x2="673.3" y2="853.8" stroke="#444" stroke-width="0.8"/><text x="377.9" y="864" font-size="8" text-anchor="middle" class="b">10</text><text x="420.1" y="864" font-size="8" text-anchor="middle" class="b">20</text><text x="462.3" y="864" font-size="8" text-anchor="middle" class="b">30</text><text x="504.5" y="864" font-size="8" text-anchor="middle" class="b">40</text><text x="546.7" y="864" font-size="8" text-anchor="middle" class="b">50</text><text x="588.9" y="864" font-size="8" text-anchor="middle" class="b">60</text><text x="631.1" y="864" font-size="8" text-anchor="middle" class="b">70</text><text x="673.3" y="864" font-size="8" text-anchor="middle" class="b">80</text><text x="522.5" y="874.3" font-size="9.5" text-anchor="middle" class="b">2θ / °</text><text transform="translate(351,727.2) rotate(-90)" font-size="10.3" text-anchor="middle" class="b">Intensity / a.u.</text><line x1="383.5" y1="856" x2="383.5" y2="827.6" stroke="#4a6ef0" stroke-width="1.1"/><line x1="432.1" y1="856" x2="432.1" y2="841" stroke="#4a6ef0" stroke-width="1.1"/><line x1="481.6" y1="856" x2="481.6" y2="837" stroke="#4a6ef0" stroke-width="1.1"/><line x1="499.2" y1="856" x2="499.2" y2="847.7" stroke="#4a6ef0" stroke-width="1.1"/><line x1="528.8" y1="856" x2="528.8" y2="849.4" stroke="#4a6ef0" stroke-width="1.1"/><line x1="590.7" y1="856" x2="590.7" y2="838.8" stroke="#4a6ef0" stroke-width="1.1"/><line x1="597.1" y1="856" x2="597.1" y2="843" stroke="#4a6ef0" stroke-width="1.1"/><line x1="613.4" y1="856" x2="613.4" y2="848.5" stroke="#4a6ef0" stroke-width="1.1"/><line x1="637" y1="856" x2="637" y2="847.7" stroke="#4a6ef0" stroke-width="1.1"/><line x1="648.1" y1="856" x2="648.1" y2="849.1" stroke="#4a6ef0" stroke-width="1.1"/><line x1="482.6" y1="856" x2="482.6" y2="845.1" stroke="#2ea03a" stroke-width="1.1"/><line x1="500.5" y1="856" x2="500.5" y2="846.6" stroke="#2ea03a" stroke-width="1.1"/><line x1="531.3" y1="856" x2="531.3" y2="845.8" stroke="#2ea03a" stroke-width="1.1"/><line x1="556.6" y1="856" x2="556.6" y2="848.5" stroke="#2ea03a" stroke-width="1.1"/><line x1="570.5" y1="856" x2="570.5" y2="848" stroke="#2ea03a" stroke-width="1.1"/><line x1="591.5" y1="856" x2="591.5" y2="845.8" stroke="#2ea03a" stroke-width="1.1"/><line x1="599.9" y1="856" x2="599.9" y2="848.5" stroke="#2ea03a" stroke-width="1.1"/><path d="M356.8 735.2 L357.2 734.6 L357.6 734.9 L358.1 734.5 L358.5 734.5 L358.9 735.5 L359.3 735.5 L359.8 734.1 L360.2 735.1 L360.6 735.1 L361 733.8 L361.4 734.7 L361.9 734 L362.3 734.7 L362.7 734.4 L363.1 735.3 L363.6 734.4 L364 734 L364.4 734.6 L364.8 734.2 L365.2 734.3 L365.7 735.4 L366.1 734.1 L366.5 734.4 L366.9 734.9 L367.3 735.4 L367.8 733.9 L368.2 734.6 L368.6 734.1 L369 733.8 L369.5 734.1 L369.9 733.7 L370.3 734.6 L370.7 733.9 L371.1 734.5 L371.6 733.6 L372 733.6 L372.4 735 L372.8 734.9 L373.3 734.7 L373.7 733.3 L374.1 734.2 L374.5 733.8 L374.9 734.4 L375.4 733.9 L375.8 734 L376.2 734 L376.6 733.5 L377.1 733.3 L377.5 732.6 L377.9 732.8 L378.3 732.1 L378.7 732 L379.2 731.4 L379.6 731.5 L380 731.8 L380.4 729.8 L380.9 728.4 L381.3 726.7 L381.7 724 L382.1 717.5 L382.5 707.4 L383 688.9 L383.4 666.5 L383.8 644.3 L384.2 634.4 L384.7 643.3 L385.1 665.7 L385.5 690.2 L385.9 706.3 L386.3 718.1 L386.8 724.7 L387.2 727.8 L387.6 728.8 L388 729.7 L388.4 732 L388.9 731.6 L389.3 733.1 L389.7 732.2 L390.1 733.2 L390.6 732.4 L391 732.4 L391.4 733.5 L391.8 732.7 L392.2 734.1 L392.7 734.6 L393.1 733.7 L393.5 734.8 L393.9 734.6 L394.4 734.3 L394.8 733.9 L395.2 734.8 L395.6 735 L396 733.6 L396.5 734.6 L396.9 733.5 L397.3 733.6 L397.7 734.6 L398.2 734.4 L398.6 734.4 L399 734.2 L399.4 734.3 L399.8 734.3 L400.3 734.2 L400.7 733.7 L401.1 734.5 L401.5 734.6 L402 734.1 L402.4 735 L402.8 734.9 L403.2 733.6 L403.6 734.5 L404.1 734.4 L404.5 735.4 L404.9 734.7 L405.3 734.4 L405.8 735.4 L406.2 734.3 L406.6 734.3 L407 735.3 L407.4 734.2 L407.9 734.5 L408.3 734.1 L408.7 734.7 L409.1 734 L409.5 733.9 L410 735.1 L410.4 735 L410.8 733.7 L411.2 732.9 L411.7 733.7 L412.1 732.6 L412.5 731.5 L412.9 731.1 L413.3 730.7 L413.8 731 L414.2 731.6 L414.6 731.9 L415 732.8 L415.5 732.6 L415.9 731.7 L416.3 732.9 L416.7 732.2 L417.1 732.5 L417.6 733.7 L418 734.2 L418.4 733.2 L418.8 734.2 L419.3 734.1 L419.7 733.3 L420.1 732 L420.5 732 L420.9 730.3 L421.4 729.6 L421.8 729 L422.2 730.5 L422.6 730.4 L423.1 731.9 L423.5 731.5 L423.9 730.8 L424.3 730.3 L424.7 731.2 L425.2 732 L425.6 732.6 L426 732.3 L426.4 733.3 L426.9 732.4 L427.3 732.5 L427.7 733.7 L428.1 733.5 L428.5 732.4 L429 732.4 L429.4 731.8 L429.8 732.2 L430.2 731.8 L430.7 730.1 L431.1 726.9 L431.5 724.1 L431.9 718.3 L432.3 710.5 L432.8 701.5 L433.2 693.7 L433.6 689.4 L434 694.1 L434.4 702.3 L434.9 709.5 L435.3 717.4 L435.7 722.9 L436.1 727.7 L436.6 729.1 L437 730.4 L437.4 732.5 L437.8 732.1 L438.2 732.3 L438.7 732.9 L439.1 733.4 L439.5 734 L439.9 734 L440.4 734.3 L440.8 734.7 L441.2 733.9 L441.6 734.5 L442 733.6 L442.5 735 L442.9 733.5 L443.3 733.9 L443.7 733.6 L444.2 733.6 L444.6 733.7 L445 734.3 L445.4 735.3 L445.8 734 L446.3 735.1 L446.7 734.8 L447.1 734.2 L447.5 734.5 L448 734.7 L448.4 733.7 L448.8 734.3 L449.2 734.8 L449.6 735 L450.1 733.9 L450.5 734.6 L450.9 734.1 L451.3 734.9 L451.8 735.1 L452.2 734.5 L452.6 734 L453 735.2 L453.4 734.1 L453.9 733.9 L454.3 734.1 L454.7 734 L455.1 735.5 L455.5 734.4 L456 734 L456.4 735.4 L456.8 735 L457.2 735.1 L457.7 734.6 L458.1 734.8 L458.5 734.7 L458.9 734.1 L459.3 735.5 L459.8 735.4 L460.2 735.3 L460.6 735.3 L461 735.4 L461.5 733.8 L461.9 734 L462.3 735.4 L462.7 734.6 L463.1 735 L463.6 735 L464 734.9 L464.4 734.4 L464.8 734.5 L465.3 734.9 L465.7 735.2 L466.1 734.9 L466.5 735.3 L466.9 734.5 L467.4 734.2 L467.8 734.8 L468.2 735.3 L468.6 735.2 L469.1 734.8 L469.5 734.4 L469.9 734.1 L470.3 734.8 L470.7 734 L471.2 734.3 L471.6 734.6 L472 734.7 L472.4 734.5 L472.9 734.1 L473.3 734.6 L473.7 734.1 L474.1 734.5 L474.5 734.8 L475 734.3 L475.4 733.9 L475.8 735 L476.2 734.3 L476.6 734.2 L477.1 733.3 L477.5 733 L477.9 733.8 L478.3 732.5 L478.8 732.2 L479.2 732.4 L479.6 731.1 L480 730.5 L480.4 727.8 L480.9 726.5 L481.3 724.5 L481.7 723.5 L482.1 723.3 L482.6 723.6 L483 725.1 L483.4 727.5 L483.8 728.2 L484.2 730.7 L484.7 731.6 L485.1 731.4 L485.5 733.4 L485.9 733.8 L486.4 734.1 L486.8 733 L487.2 734.4 L487.6 734.7 L488 733.3 L488.5 734.7 L488.9 733.4 L489.3 733.7 L489.7 733.4 L490.2 733.2 L490.6 733.9 L491 733.5 L491.4 734.8 L491.8 733.4 L492.3 733.8 L492.7 733.3 L493.1 734.3 L493.5 733 L494 732.5 L494.4 733.8 L494.8 733 L495.2 732.3 L495.6 731.4 L496.1 732 L496.5 731.7 L496.9 731 L497.3 729.9 L497.7 729.2 L498.2 729.4 L498.6 729 L499 728.8 L499.4 728.7 L499.9 728.7 L500.3 729.4 L500.7 729 L501.1 728.4 L501.5 729.7 L502 729.3 L502.4 730.5 L502.8 729.6 L503.2 729.3 L503.7 729.3 L504.1 729.4 L504.5 729.6 L504.9 729.8 L505.3 730 L505.8 732 L506.2 732.8 L506.6 732.2 L507 732.4 L507.5 733.4 L507.9 733.8 L508.3 733.5 L508.7 734.5 L509.1 734.5 L509.6 734.7 L510 734 L510.4 734.5 L510.8 734.7 L511.3 733.9 L511.7 733.5 L512.1 734.7 L512.5 733.9 L512.9 734.5 L513.4 733.7 L513.8 734.2 L514.2 734.7 L514.6 734.8 L515.1 735.2 L515.5 734.4 L515.9 734.5 L516.3 734.9 L516.7 734.5 L517.2 734.6 L517.6 733.8 L518 734.9 L518.4 733.3 L518.8 734.2 L519.3 734 L519.7 734.2 L520.1 733.5 L520.5 733.4 L521 733.8 L521.4 733.9 L521.8 733.4 L522.2 733 L522.6 733.7 L523.1 733 L523.5 732.5 L523.9 733.2 L524.3 733.4 L524.8 733.2 L525.2 732.2 L525.6 732 L526 731.3 L526.4 731.2 L526.9 732.1 L527.3 731.9 L527.7 731.5 L528.1 731.4 L528.6 730.2 L529 729.7 L529.4 729.4 L529.8 730.4 L530.2 729.1 L530.7 730 L531.1 729.7 L531.5 729.1 L531.9 730.3 L532.4 730.4 L532.8 729.2 L533.2 730.3 L533.6 730.4 L534 730.2 L534.5 730.3 L534.9 731.7 L535.3 731.4 L535.7 731.5 L536.2 731.7 L536.6 732.4 L537 732 L537.4 731.6 L537.8 732.8 L538.3 732.7 L538.7 733.7 L539.1 733.6 L539.5 733 L539.9 734.2 L540.4 732.9 L540.8 733 L541.2 734.6 L541.6 733.1 L542.1 734.2 L542.5 733.6 L542.9 733.7 L543.3 734.6 L543.7 733.9 L544.2 734 L544.6 733.8 L545 734.8 L545.4 733.9 L545.9 733.6 L546.3 734.1 L546.7 734.4 L547.1 735.1 L547.5 734.5 L548 734.7 L548.4 734.1 L548.8 734.2 L549.2 734.4 L549.7 735.1 L550.1 734.3 L550.5 734.3 L550.9 735.1 L551.3 733.8 L551.8 734.3 L552.2 735.2 L552.6 733.8 L553 735.2 L553.5 734.9 L553.9 734.2 L554.3 734.4 L554.7 734.4 L555.1 734.2 L555.6 734.6 L556 734.8 L556.4 735 L556.8 735.1 L557.3 733.8 L557.7 733.6 L558.1 733.8 L558.5 733.3 L558.9 733.9 L559.4 733.9 L559.8 733.7 L560.2 732.8 L560.6 734.5 L561 733.8 L561.5 734.4 L561.9 733.6 L562.3 734.5 L562.7 734.6 L563.2 734.6 L563.6 734.4 L564 734 L564.4 734.8 L564.8 734 L565.3 735.3 L565.7 735 L566.1 735.4 L566.5 735.3 L567 734.2 L567.4 734.3 L567.8 735.2 L568.2 735.2 L568.6 734.8 L569.1 734.2 L569.5 734.1 L569.9 734.2 L570.3 734.5 L570.8 735.3 L571.2 734.9 L571.6 735.2 L572 734.6 L572.4 734.6 L572.9 735.2 L573.3 735.1 L573.7 734.2 L574.1 735.5 L574.6 734.2 L575 734 L575.4 733.9 L575.8 734.9 L576.2 734.6 L576.7 734.5 L577.1 734.5 L577.5 733.8 L577.9 734.4 L578.4 735.1 L578.8 734 L579.2 734.7 L579.6 734.5 L580 734.3 L580.5 735.6 L580.9 734.2 L581.3 734.4 L581.7 734.7 L582.1 734.6 L582.6 734.7 L583 735.2 L583.4 734.6 L583.8 735.5 L584.3 734.6 L584.7 734.3 L585.1 734.7 L585.5 734.5 L585.9 733.7 L586.4 733.8 L586.8 735.1 L587.2 733.9 L587.6 734.2 L588.1 735.1 L588.5 734.5 L588.9 734.5 L589.3 734.6 L589.7 733.3 L590.2 731.6 L590.6 730.7 L591 726.6 L591.4 723.2 L591.9 722.2 L592.3 722.8 L592.7 727 L593.1 729.5 L593.5 731.8 L594 732.6 L594.4 733.7 L594.8 732.9 L595.2 732.6 L595.7 732.3 L596.1 732.1 L596.5 729.8 L596.9 727.7 L597.3 725.6 L597.8 724.4 L598.2 725.7 L598.6 728.3 L599 731 L599.5 732.2 L599.9 732.9 L600.3 733.7 L600.7 734.2 L601.1 733.9 L601.6 734.6 L602 734.4 L602.4 734 L602.8 734.6 L603.2 735.1 L603.7 733.8 L604.1 734.2 L604.5 734.8 L604.9 734.8 L605.4 734.5 L605.8 734.4 L606.2 735.1 L606.6 735.5 L607 735.1 L607.5 734.1 L607.9 735.2 L608.3 734.6 L608.7 735.1 L609.2 735 L609.6 735 L610 734.4 L610.4 734.6 L610.8 734.5 L611.3 734 L611.7 733.4 L612.1 732.4 L612.5 733 L613 733.3 L613.4 732.9 L613.8 733.4 L614.2 733.3 L614.6 734.8 L615.1 734.4 L615.5 734.6 L615.9 735.4 L616.3 733.7 L616.8 735.1 L617.2 735.4 L617.6 734.7 L618 735.3 L618.4 734.5 L618.9 735 L619.3 735.4 L619.7 735.5 L620.1 734.3 L620.6 735.1 L621 734.2 L621.4 734.8 L621.8 734 L622.2 735.1 L622.7 735.2 L623.1 735.2 L623.5 734.2 L623.9 734.5 L624.3 735 L624.8 735.5 L625.2 734.4 L625.6 733.9 L626 734.6 L626.5 735.7 L626.9 735.6 L627.3 735.5 L627.7 735.4 L628.1 735.6 L628.6 735.6 L629 734.5 L629.4 734 L629.8 735.3 L630.3 733.9 L630.7 734.8 L631.1 734.2 L631.5 734 L631.9 734 L632.4 735.6 L632.8 735.1 L633.2 734.6 L633.6 734 L634.1 735.5 L634.5 735.1 L634.9 734.1 L635.3 735.5 L635.7 735 L636.2 735.1 L636.6 734.5 L637 734 L637.4 735.4 L637.9 734.3 L638.3 734.4 L638.7 734.2 L639.1 734.7 L639.5 734 L640 735 L640.4 734.9 L640.8 735.3 L641.2 734.3 L641.7 734.8 L642.1 735.2 L642.5 735.4 L642.9 734.4 L643.3 734.6 L643.8 734.4 L644.2 735 L644.6 734.8 L645 735.4 L645.4 734.4 L645.9 735.6 L646.3 734.8 L646.7 734.3 L647.1 734.5 L647.6 735.5 L648 735.3 L648.4 734.2 L648.8 734.5 L649.2 734.1 L649.7 734.1 L650.1 734.9 L650.5 734.1 L650.9 734.4 L651.4 735.1 L651.8 735 L652.2 735.6 L652.6 735 L653 734 L653.5 735.5 L653.9 734.7 L654.3 735.5 L654.7 735.5 L655.2 734.5 L655.6 735.3 L656 735.6 L656.4 735.4 L656.8 734.5 L657.3 734.6 L657.7 735.7 L658.1 735.3 L658.5 733.9 L659 735.3 L659.4 734.7 L659.8 734.9 L660.2 734.3 L660.6 734.6 L661.1 734.3 L661.5 734.7 L661.9 735.3 L662.3 735.4 L662.7 735.5 L663.2 734.2 L663.6 735.5 L664 735.6 L664.4 733.9 L664.9 735.3 L665.3 734.1 L665.7 735.5 L666.1 734.9 L666.5 735.3 L667 734.2 L667.4 734.6 L667.8 734.5 L668.2 734.3 L668.7 734.1 L669.1 735.1 L669.5 734.6 L669.9 734.9 L670.3 735.5 L670.8 734.2 L671.2 734.6 L671.6 734.2 L672 735.3 L672.5 734.7 L672.9 734.9 L673.3 734.4" fill="none" stroke="#f22" stroke-width="1.1"/><path d="M356.8 837.4 L357.2 837.2 L357.6 837.1 L358.1 836.8 L358.5 837.2 L358.9 836.9 L359.3 838.5 L359.8 837.7 L360.2 836.8 L360.6 837.4 L361 836.9 L361.4 838.3 L361.9 837.7 L362.3 838.1 L362.7 837.5 L363.1 837.5 L363.6 838.5 L364 838.1 L364.4 838 L364.8 836.8 L365.2 837.1 L365.7 838.2 L366.1 837 L366.5 838.2 L366.9 837.4 L367.3 838.2 L367.8 838.5 L368.2 836.9 L368.6 838.1 L369 838 L369.5 836.7 L369.9 836.8 L370.3 837.9 L370.7 836.7 L371.1 837.4 L371.6 837.1 L372 838 L372.4 836.6 L372.8 837.1 L373.3 836.6 L373.7 836.7 L374.1 837.7 L374.5 837.6 L374.9 837.9 L375.4 837.9 L375.8 838 L376.2 837.5 L376.6 836.9 L377.1 837.9 L377.5 836.6 L377.9 837.1 L378.3 837.1 L378.7 836 L379.2 836.4 L379.6 836.5 L380 836 L380.4 835.2 L380.9 835.9 L381.3 833.6 L381.7 834.4 L382.1 831.5 L382.5 828.2 L383 823.1 L383.4 808.5 L383.8 787.9 L384.2 762.4 L384.7 750.6 L385.1 763.4 L385.5 788.2 L385.9 808.2 L386.3 822.7 L386.8 828.4 L387.2 831.2 L387.6 832.7 L388 834.7 L388.4 835.4 L388.9 835.5 L389.3 835.4 L389.7 836.9 L390.1 836 L390.6 836 L391 836.1 L391.4 837.7 L391.8 836.1 L392.2 837.7 L392.7 837.4 L393.1 836.9 L393.5 836.4 L393.9 837.5 L394.4 836.5 L394.8 837.2 L395.2 837.7 L395.6 837.7 L396 838 L396.5 838.2 L396.9 838.1 L397.3 837.1 L397.7 836.6 L398.2 838.1 L398.6 838.3 L399 836.6 L399.4 837.4 L399.8 837.7 L400.3 838 L400.7 837.4 L401.1 837 L401.5 837.6 L402 837.7 L402.4 838.4 L402.8 836.8 L403.2 838.4 L403.6 837.6 L404.1 837 L404.5 838.2 L404.9 837.2 L405.3 836.8 L405.8 837.4 L406.2 837.1 L406.6 838.3 L407 837.7 L407.4 838.2 L407.9 837 L408.3 838 L408.7 837.7 L409.1 836.7 L409.5 837 L410 836.8 L410.4 837.7 L410.8 837.6 L411.2 837.2 L411.7 837.7 L412.1 838 L412.5 837.8 L412.9 838.2 L413.3 837.8 L413.8 836.7 L414.2 836.8 L414.6 837.4 L415 837.6 L415.5 837.9 L415.9 838.3 L416.3 838 L416.7 837.1 L417.1 836.9 L417.6 837.9 L418 837.1 L418.4 837.1 L418.8 837.2 L419.3 837.3 L419.7 837.1 L420.1 837.8 L420.5 837.2 L420.9 838 L421.4 837.6 L421.8 837.1 L422.2 837.2 L422.6 837.9 L423.1 836.7 L423.5 837.3 L423.9 837.4 L424.3 838.4 L424.7 837.4 L425.2 837.9 L425.6 837.1 L426 837.5 L426.4 836.8 L426.9 837.1 L427.3 836.8 L427.7 837.6 L428.1 837 L428.5 836.7 L429 836.5 L429.4 837.2 L429.8 836.2 L430.2 835.9 L430.7 836 L431.1 835.1 L431.5 834.5 L431.9 834 L432.3 831.2 L432.8 826.4 L433.2 816.3 L433.6 805.7 L434 801.2 L434.4 806.2 L434.9 816.5 L435.3 825.4 L435.7 831.8 L436.1 833.5 L436.6 835.2 L437 835.7 L437.4 836.5 L437.8 836.4 L438.2 836.3 L438.7 836.7 L439.1 836.7 L439.5 838 L439.9 837.8 L440.4 837.4 L440.8 837.1 L441.2 837.9 L441.6 837.1 L442 837.2 L442.5 838.3 L442.9 837.5 L443.3 838 L443.7 838.3 L444.2 838.2 L444.6 837.9 L445 838.1 L445.4 838.1 L445.8 838.4 L446.3 837.6 L446.7 837.8 L447.1 837.4 L447.5 837.4 L448 838.1 L448.4 836.9 L448.8 838.5 L449.2 837.8 L449.6 838 L450.1 837.8 L450.5 838.3 L450.9 837 L451.3 837.9 L451.8 838.5 L452.2 837.4 L452.6 838.4 L453 837.6 L453.4 837.9 L453.9 837.5 L454.3 836.8 L454.7 837.1 L455.1 837.8 L455.5 837.1 L456 837.4 L456.4 837.9 L456.8 838.3 L457.2 837.5 L457.7 837.5 L458.1 836.8 L458.5 836.8 L458.9 837.5 L459.3 837.9 L459.8 837 L460.2 838.6 L460.6 838.4 L461 837.5 L461.5 837.5 L461.9 838.3 L462.3 837.4 L462.7 837 L463.1 837.9 L463.6 837.8 L464 838.2 L464.4 838 L464.8 836.8 L465.3 837.9 L465.7 836.8 L466.1 836.9 L466.5 837.5 L466.9 838.1 L467.4 836.8 L467.8 837.7 L468.2 837.8 L468.6 838 L469.1 836.8 L469.5 837.7 L469.9 838.1 L470.3 837.7 L470.7 838.4 L471.2 837.5 L471.6 837.8 L472 838 L472.4 837.2 L472.9 837.1 L473.3 838.5 L473.7 837.6 L474.1 838.1 L474.5 836.9 L475 837.1 L475.4 838.1 L475.8 838.1 L476.2 838.3 L476.6 836.7 L477.1 838 L477.5 837.4 L477.9 837.6 L478.3 837.2 L478.8 837.2 L479.2 836.9 L479.6 837.9 L480 836.6 L480.4 837.2 L480.9 836.7 L481.3 837 L481.7 837.1 L482.1 836.8 L482.6 837.1 L483 837.4 L483.4 836.9 L483.8 837.3 L484.2 838.3 L484.7 838 L485.1 837.7 L485.5 836.9 L485.9 836.9 L486.4 837.6 L486.8 838.5 L487.2 837.2 L487.6 837.8 L488 837.5 L488.5 837.3 L488.9 837.4 L489.3 837.7 L489.7 836.9 L490.2 837.9 L490.6 837.9 L491 837 L491.4 838.2 L491.8 838 L492.3 837.1 L492.7 838.5 L493.1 837.1 L493.5 837.3 L494 837.8 L494.4 838.1 L494.8 837.2 L495.2 836.9 L495.6 838.3 L496.1 837.7 L496.5 837.6 L496.9 837.7 L497.3 838 L497.7 838.3 L498.2 837.5 L498.6 837.1 L499 838.5 L499.4 838.2 L499.9 837.1 L500.3 837.2 L500.7 837.4 L501.1 838.5 L501.5 837.3 L502 836.8 L502.4 836.8 L502.8 837.3 L503.2 838.5 L503.7 837.1 L504.1 838.2 L504.5 837.4 L504.9 836.9 L505.3 837.3 L505.8 838.3 L506.2 838.1 L506.6 836.9 L507 838.3 L507.5 837.5 L507.9 837.8 L508.3 838.3 L508.7 837.5 L509.1 838.5 L509.6 838.4 L510 837.9 L510.4 838.5 L510.8 838.5 L511.3 837.6 L511.7 837.3 L512.1 837 L512.5 838.4 L512.9 837.8 L513.4 838 L513.8 837.5 L514.2 837.7 L514.6 836.9 L515.1 837.9 L515.5 838.5 L515.9 837.3 L516.3 838.3 L516.7 837.5 L517.2 837.7 L517.6 837 L518 837.6 L518.4 837.5 L518.8 838.1 L519.3 837.6 L519.7 838.1 L520.1 837.2 L520.5 837.7 L521 838.4 L521.4 838.2 L521.8 837.9 L522.2 837.3 L522.6 838.3 L523.1 837.3 L523.5 837.4 L523.9 838.4 L524.3 837.4 L524.8 838.4 L525.2 838.4 L525.6 837.5 L526 838.2 L526.4 837 L526.9 837.7 L527.3 838 L527.7 837.2 L528.1 838.5 L528.6 837.3 L529 838.5 L529.4 838.3 L529.8 836.9 L530.2 837.4 L530.7 838.2 L531.1 838.4 L531.5 836.8 L531.9 837.4 L532.4 837.1 L532.8 838.3 L533.2 837.5 L533.6 838 L534 838.2 L534.5 838 L534.9 837.5 L535.3 838 L535.7 837.9 L536.2 838.4 L536.6 837.1 L537 837.4 L537.4 837.1 L537.8 837.8 L538.3 837.1 L538.7 837.7 L539.1 837.5 L539.5 837.6 L539.9 837.3 L540.4 837.9 L540.8 838.4 L541.2 838.5 L541.6 838.2 L542.1 838.5 L542.5 837 L542.9 837.7 L543.3 837.2 L543.7 838.6 L544.2 837.7 L544.6 837 L545 837.5 L545.4 837.8 L545.9 837.8 L546.3 838.4 L546.7 838.3 L547.1 838.3 L547.5 837.9 L548 837.9 L548.4 837 L548.8 838.3 L549.2 838.1 L549.7 838.1 L550.1 838.3 L550.5 838.1 L550.9 838.2 L551.3 837.7 L551.8 838.5 L552.2 836.9 L552.6 837.9 L553 836.9 L553.5 837.4 L553.9 837.4 L554.3 837.7 L554.7 836.9 L555.1 838.4 L555.6 837.4 L556 838.1 L556.4 837.4 L556.8 837.3 L557.3 838.3 L557.7 838.2 L558.1 838.6 L558.5 838.2 L558.9 838.5 L559.4 837.9 L559.8 836.8 L560.2 837.9 L560.6 838 L561 837.8 L561.5 838.1 L561.9 837.3 L562.3 837.3 L562.7 838.3 L563.2 838.2 L563.6 837.4 L564 836.9 L564.4 837.4 L564.8 837.8 L565.3 836.8 L565.7 838.6 L566.1 838.5 L566.5 837.2 L567 837.9 L567.4 838.5 L567.8 837.6 L568.2 836.8 L568.6 837.7 L569.1 838 L569.5 838.4 L569.9 838.5 L570.3 837 L570.8 837.7 L571.2 836.9 L571.6 838.5 L572 838.2 L572.4 838.5 L572.9 837.9 L573.3 838.5 L573.7 838.1 L574.1 837.9 L574.6 838 L575 838.5 L575.4 838.5 L575.8 836.8 L576.2 838.3 L576.7 837.7 L577.1 837.9 L577.5 837.6 L577.9 838.4 L578.4 838 L578.8 838.4 L579.2 837.6 L579.6 836.9 L580 837.5 L580.5 837 L580.9 838.2 L581.3 838.6 L581.7 837.6 L582.1 837.7 L582.6 837.6 L583 837.9 L583.4 837.5 L583.8 837.3 L584.3 836.9 L584.7 838 L585.1 837.8 L585.5 837.1 L585.9 838.2 L586.4 838.4 L586.8 838 L587.2 838.4 L587.6 837.2 L588.1 837.1 L588.5 838 L588.9 838.3 L589.3 838.4 L589.7 838 L590.2 838.3 L590.6 837.6 L591 837.2 L591.4 837.5 L591.9 837.4 L592.3 835.9 L592.7 836.8 L593.1 836.7 L593.5 836.8 L594 836.8 L594.4 837.3 L594.8 836.6 L595.2 836.7 L595.7 836.1 L596.1 836.8 L596.5 836.5 L596.9 837.1 L597.3 837 L597.8 837.4 L598.2 837.7 L598.6 837 L599 837.4 L599.5 836.8 L599.9 837.2 L600.3 837.3 L600.7 838.1 L601.1 837.1 L601.6 837.9 L602 838.3 L602.4 838.5 L602.8 838.3 L603.2 838.1 L603.7 837.4 L604.1 838.1 L604.5 838.5 L604.9 837.2 L605.4 837.6 L605.8 838.5 L606.2 838.5 L606.6 838.4 L607 837.9 L607.5 837 L607.9 836.9 L608.3 837.5 L608.7 838.2 L609.2 837.8 L609.6 837.9 L610 838 L610.4 838.6 L610.8 837.5 L611.3 837.1 L611.7 837.3 L612.1 838.4 L612.5 837.6 L613 838.3 L613.4 837.3 L613.8 837.8 L614.2 836.9 L614.6 837.2 L615.1 838.4 L615.5 838 L615.9 836.9 L616.3 837.8 L616.8 837.8 L617.2 837.8 L617.6 837.2 L618 836.9 L618.4 837.6 L618.9 836.9 L619.3 837.5 L619.7 838.4 L620.1 837.1 L620.6 837.8 L621 838.5 L621.4 836.8 L621.8 838.5 L622.2 837.6 L622.7 837.7 L623.1 837 L623.5 837.9 L623.9 838.2 L624.3 838.1 L624.8 838.2 L625.2 837.6 L625.6 838 L626 837.2 L626.5 838.2 L626.9 838 L627.3 838.2 L627.7 836.8 L628.1 837.1 L628.6 837.1 L629 837.5 L629.4 837.9 L629.8 838.3 L630.3 837.1 L630.7 837.7 L631.1 838.5 L631.5 838.3 L631.9 838.4 L632.4 837.3 L632.8 837 L633.2 838.2 L633.6 837.2 L634.1 838 L634.5 837.4 L634.9 837 L635.3 837.5 L635.7 837.2 L636.2 837.9 L636.6 838.6 L637 837.7 L637.4 837.5 L637.9 838.3 L638.3 837.9 L638.7 838 L639.1 838.5 L639.5 838 L640 837.9 L640.4 837.7 L640.8 837.3 L641.2 837.9 L641.7 836.8 L642.1 837.1 L642.5 836.9 L642.9 837.4 L643.3 837.4 L643.8 837.6 L644.2 837.2 L644.6 837.9 L645 837.5 L645.4 837.4 L645.9 837.7 L646.3 838.1 L646.7 838.5 L647.1 838.4 L647.6 838 L648 837.6 L648.4 837.2 L648.8 837.3 L649.2 838 L649.7 836.9 L650.1 838.1 L650.5 837.3 L650.9 838.5 L651.4 837.2 L651.8 837.4 L652.2 836.9 L652.6 837 L653 837.4 L653.5 837.1 L653.9 837.3 L654.3 837.5 L654.7 838.2 L655.2 837.7 L655.6 837 L656 838.2 L656.4 836.8 L656.8 837.6 L657.3 837.9 L657.7 838.6 L658.1 837.9 L658.5 838.3 L659 837.4 L659.4 837 L659.8 837 L660.2 837.5 L660.6 837.9 L661.1 838.4 L661.5 837.4 L661.9 837.6 L662.3 837.3 L662.7 837.9 L663.2 837 L663.6 838.2 L664 838 L664.4 838.1 L664.9 837.5 L665.3 837 L665.7 838.3 L666.1 837.5 L666.5 837.2 L667 838.2 L667.4 838.5 L667.8 837.6 L668.2 837.1 L668.7 837 L669.1 837.3 L669.5 837.8 L669.9 837.8 L670.3 837.6 L670.8 837 L671.2 838.1 L671.6 838.1 L672 837.5 L672.5 836.9 L672.9 838.3 L673.3 838.5" fill="none" stroke="#222" stroke-width="1"/><text transform="translate(384,631.8) scale(0.88,1)" font-size="8.3" text-anchor="middle" fill="#3c4ccc">( 003 )</text><text transform="translate(433.7,687.8) scale(0.88,1)" font-size="8.3" text-anchor="middle" fill="#3c4ccc">( 006 )</text><text transform="translate(482.3,720.9) scale(0.88,1)" font-size="8.3" text-anchor="middle" fill="#3c4ccc">( 012 )</text><text transform="translate(500.3,725.1) scale(0.88,1)" font-size="8.3" text-anchor="middle" fill="#3c4ccc">( 015 )</text><text transform="translate(530.2,725.6) scale(0.88,1)" font-size="8.3" text-anchor="middle" fill="#3c4ccc">( 018 )</text><text transform="translate(385.4,747.4) scale(0.88,1)" font-size="8.3" text-anchor="middle" fill="#3c4ccc">( 003 )</text><text transform="translate(435.1,798.2) scale(0.88,1)" font-size="8.3" text-anchor="middle" fill="#3c4ccc">( 006 )</text><text transform="translate(594,710.3) rotate(-90) scale(0.88,1)" font-size="8.3" text-anchor="middle" fill="#3c4ccc">( 110 )</text><text transform="translate(601.3,712.6) rotate(-90) scale(0.88,1)" font-size="8.3" text-anchor="middle" fill="#3c4ccc">( 113 )</text><text transform="translate(600.4,823.6) rotate(-90) scale(0.88,1)" font-size="8.3" text-anchor="middle" fill="#3c4ccc">( 113 )</text><line x1="565.5" y1="681" x2="587.4" y2="681" stroke="#f22" stroke-width="1"/><text x="590" y="684.6" font-size="9.9" class="b" fill="#111">Mg<tspan dy="2" font-size="8.8">2</tspan><tspan dy="-2">Al-NO</tspan><tspan dy="2" font-size="8.8">3</tspan><tspan dy="-2">-LDHs</tspan></text><text x="605" y="699.2" font-size="9.9" class="b" fill="#1f9a2a">PDF#35-0965</text><line x1="578.8" y1="793.8" x2="602.3" y2="793.8" stroke="#222" stroke-width="1"/><text x="609.1" y="798.5" font-size="9.9" class="b" fill="#111">Co<tspan dy="2" font-size="8.8">2</tspan><tspan dy="-2">Al-LDHs</tspan></text><text x="606.6" y="812.8" font-size="10" class="b" fill="#4a6ef0">PDF#25-1363</text></svg></body></html>
